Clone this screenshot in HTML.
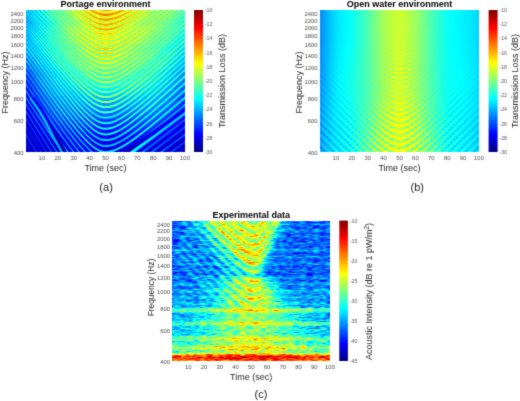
<!DOCTYPE html>
<html><head><meta charset="utf-8"><style>
html,body{margin:0;padding:0;background:#fff;}
svg{display:block;}
text{font-family:"Liberation Sans",sans-serif;fill:#262626;}
.t{font-size:5.9px;fill:#4d4d4d;}
.tc{font-size:5.3px;fill:#595959;}
.l{font-size:9px;}
.ti{font-size:9px;font-weight:bold;fill:#000;}
.s{font-size:11px;fill:#1a1a1a;}
</style></head><body>
<svg width="520" height="401" viewBox="0 0 520 401">
<defs><linearGradient id="vramp" x1="0" y1="0" x2="0" y2="1"><stop offset="0" stop-color="#000"/><stop offset="1" stop-color="#fff"/></linearGradient>
<mask id="vmask" maskContentUnits="objectBoundingBox" x="0" y="0" width="1" height="1"><rect width="1" height="1" fill="url(#vramp)"/></mask><linearGradient id="jg" x1="0" y1="0" x2="0" y2="1"><stop offset="0.000" stop-color="#800000"/><stop offset="0.125" stop-color="#ff0000"/><stop offset="0.375" stop-color="#ffff00"/><stop offset="0.625" stop-color="#00ffff"/><stop offset="0.875" stop-color="#0000ff"/><stop offset="1.000" stop-color="#000080"/></linearGradient><linearGradient id="secgA" gradientUnits="userSpaceOnUse" x1="0" y1="430" x2="0" y2="500"><stop offset="0" stop-color="#fff"/><stop offset=".5" stop-color="#888"/><stop offset="1" stop-color="#000"/></linearGradient><mask id="secmA" maskUnits="userSpaceOnUse" x="20" y="420" width="180" height="170"><rect x="20" y="420" width="180" height="170" fill="url(#secgA)"/></mask><filter id="fA" filterUnits="userSpaceOnUse" x="21" y="5" width="169" height="992" color-interpolation-filters="sRGB">
<feOffset in="SourceGraphic" dy="-420" result="S"/>
<feOffset in="SourceGraphic" dy="-840" result="A"/>
<feComposite in="S" in2="A" operator="arithmetic" k1="1" k3="-.5" k4=".5" result="P"/>
<feComposite in="SourceGraphic" in2="P" operator="arithmetic" k2="1" k3="0.5" k4="-0.25"/>
<feComponentTransfer>
<feFuncR type="table" tableValues="0 0 0 0 .5 1 1 1 .5"/>
<feFuncG type="table" tableValues="0 0 .5 1 1 1 .5 0 0"/>
<feFuncB type="table" tableValues=".5 1 1 1 .5 0 0 0 0"/>
<feFuncA type="table" tableValues="1 1"/>
</feComponentTransfer>
</filter>
<filter id="mA" x="-.2" y="-.2" width="1.4" height="1.4" color-interpolation-filters="sRGB"><feGaussianBlur stdDeviation="2.5"/></filter>
<filter id="sA" x="-.2" y="-.2" width="1.4" height="1.4" color-interpolation-filters="sRGB"><feGaussianBlur stdDeviation="0.5"/></filter>
<filter id="aA" x="-.2" y="-.2" width="1.4" height="1.4" color-interpolation-filters="sRGB"><feGaussianBlur stdDeviation="3"/></filter>
<clipPath id="cA"><rect x="26" y="10" width="159" height="142"/></clipPath><linearGradient id="Amr0" gradientUnits="userSpaceOnUse" x1="26" x2="185"><stop offset="0.0000" stop-color="#4f4f4f"/><stop offset="0.1000" stop-color="#636363"/><stop offset="0.2000" stop-color="#777777"/><stop offset="0.3000" stop-color="#8c8c8c"/><stop offset="0.4000" stop-color="#9e9e9e"/><stop offset="0.5000" stop-color="#acacac"/><stop offset="0.6000" stop-color="#a1a1a1"/><stop offset="0.7000" stop-color="#959595"/><stop offset="0.8000" stop-color="#888888"/><stop offset="0.9000" stop-color="#808080"/><stop offset="1.0000" stop-color="#737373"/></linearGradient><linearGradient id="Amr1" gradientUnits="userSpaceOnUse" x1="26" x2="185"><stop offset="0.0000" stop-color="#4c4c4c"/><stop offset="0.1000" stop-color="#606060"/><stop offset="0.2000" stop-color="#737373"/><stop offset="0.3000" stop-color="#888888"/><stop offset="0.4000" stop-color="#9a9a9a"/><stop offset="0.5000" stop-color="#a8a8a8"/><stop offset="0.6000" stop-color="#9c9c9c"/><stop offset="0.7000" stop-color="#919191"/><stop offset="0.8000" stop-color="#868686"/><stop offset="0.9000" stop-color="#7c7c7c"/><stop offset="1.0000" stop-color="#6c6c6c"/></linearGradient><linearGradient id="Amr2" gradientUnits="userSpaceOnUse" x1="26" x2="185"><stop offset="0.0000" stop-color="#545454"/><stop offset="0.1000" stop-color="#636363"/><stop offset="0.2000" stop-color="#737373"/><stop offset="0.3000" stop-color="#808080"/><stop offset="0.4000" stop-color="#8e8e8e"/><stop offset="0.5000" stop-color="#989898"/><stop offset="0.6000" stop-color="#8f8f8f"/><stop offset="0.7000" stop-color="#868686"/><stop offset="0.8000" stop-color="#7c7c7c"/><stop offset="0.9000" stop-color="#6f6f6f"/><stop offset="1.0000" stop-color="#626262"/></linearGradient><linearGradient id="Amr3" gradientUnits="userSpaceOnUse" x1="26" x2="185"><stop offset="0.0000" stop-color="#3c3c3c"/><stop offset="0.1000" stop-color="#545454"/><stop offset="0.2000" stop-color="#666666"/><stop offset="0.3000" stop-color="#737373"/><stop offset="0.4000" stop-color="#808080"/><stop offset="0.5000" stop-color="#858585"/><stop offset="0.6000" stop-color="#818181"/><stop offset="0.7000" stop-color="#7a7a7a"/><stop offset="0.8000" stop-color="#737373"/><stop offset="0.9000" stop-color="#666666"/><stop offset="1.0000" stop-color="#555555"/></linearGradient><linearGradient id="Amr4" gradientUnits="userSpaceOnUse" x1="26" x2="185"><stop offset="0.0000" stop-color="#2b2b2b"/><stop offset="0.1000" stop-color="#464646"/><stop offset="0.2000" stop-color="#555555"/><stop offset="0.3000" stop-color="#5e5e5e"/><stop offset="0.4000" stop-color="#666666"/><stop offset="0.5000" stop-color="#6b6b6b"/><stop offset="0.6000" stop-color="#696969"/><stop offset="0.7000" stop-color="#666666"/><stop offset="0.8000" stop-color="#626262"/><stop offset="0.9000" stop-color="#555555"/><stop offset="1.0000" stop-color="#424242"/></linearGradient><linearGradient id="Amr5" gradientUnits="userSpaceOnUse" x1="26" x2="185"><stop offset="0.0000" stop-color="#202020"/><stop offset="0.1000" stop-color="#333333"/><stop offset="0.2000" stop-color="#454545"/><stop offset="0.3000" stop-color="#4b4b4b"/><stop offset="0.4000" stop-color="#4c4c4c"/><stop offset="0.5000" stop-color="#4b4b4b"/><stop offset="0.6000" stop-color="#4b4b4b"/><stop offset="0.7000" stop-color="#4c4c4c"/><stop offset="0.8000" stop-color="#4a4a4a"/><stop offset="0.9000" stop-color="#3c3c3c"/><stop offset="1.0000" stop-color="#292929"/></linearGradient><linearGradient id="Amr6" gradientUnits="userSpaceOnUse" x1="26" x2="185"><stop offset="0.0000" stop-color="#1c1c1c"/><stop offset="0.1000" stop-color="#222222"/><stop offset="0.2000" stop-color="#2d2d2d"/><stop offset="0.3000" stop-color="#3c3c3c"/><stop offset="0.4000" stop-color="#3b3b3b"/><stop offset="0.5000" stop-color="#383838"/><stop offset="0.6000" stop-color="#393939"/><stop offset="0.7000" stop-color="#3d3d3d"/><stop offset="0.8000" stop-color="#333333"/><stop offset="0.9000" stop-color="#242424"/><stop offset="1.0000" stop-color="#1c1c1c"/></linearGradient><linearGradient id="Amr7" gradientUnits="userSpaceOnUse" x1="26" x2="185"><stop offset="0.0000" stop-color="#171717"/><stop offset="0.1000" stop-color="#1f1f1f"/><stop offset="0.2000" stop-color="#262626"/><stop offset="0.3000" stop-color="#373737"/><stop offset="0.4000" stop-color="#363636"/><stop offset="0.5000" stop-color="#333333"/><stop offset="0.6000" stop-color="#343434"/><stop offset="0.7000" stop-color="#383838"/><stop offset="0.8000" stop-color="#2d2d2d"/><stop offset="0.9000" stop-color="#202020"/><stop offset="1.0000" stop-color="#171717"/></linearGradient><linearGradient id="Aar0" gradientUnits="userSpaceOnUse" x1="26" x2="185"><stop offset="0.0000" stop-color="#666666"/><stop offset="0.1000" stop-color="#666666"/><stop offset="0.2000" stop-color="#666666"/><stop offset="0.3000" stop-color="#666666"/><stop offset="0.4000" stop-color="#6b6b6b"/><stop offset="0.5000" stop-color="#737373"/><stop offset="0.6000" stop-color="#6b6b6b"/><stop offset="0.7000" stop-color="#666666"/><stop offset="0.8000" stop-color="#666666"/><stop offset="0.9000" stop-color="#666666"/><stop offset="1.0000" stop-color="#666666"/></linearGradient><linearGradient id="Aar1" gradientUnits="userSpaceOnUse" x1="26" x2="185"><stop offset="0.0000" stop-color="#666666"/><stop offset="0.1000" stop-color="#666666"/><stop offset="0.2000" stop-color="#666666"/><stop offset="0.3000" stop-color="#666666"/><stop offset="0.4000" stop-color="#6b6b6b"/><stop offset="0.5000" stop-color="#737373"/><stop offset="0.6000" stop-color="#6b6b6b"/><stop offset="0.7000" stop-color="#666666"/><stop offset="0.8000" stop-color="#666666"/><stop offset="0.9000" stop-color="#666666"/><stop offset="1.0000" stop-color="#666666"/></linearGradient><linearGradient id="Aar2" gradientUnits="userSpaceOnUse" x1="26" x2="185"><stop offset="0.0000" stop-color="#666666"/><stop offset="0.1000" stop-color="#666666"/><stop offset="0.2000" stop-color="#666666"/><stop offset="0.3000" stop-color="#666666"/><stop offset="0.4000" stop-color="#666666"/><stop offset="0.5000" stop-color="#6b6b6b"/><stop offset="0.6000" stop-color="#666666"/><stop offset="0.7000" stop-color="#666666"/><stop offset="0.8000" stop-color="#666666"/><stop offset="0.9000" stop-color="#666666"/><stop offset="1.0000" stop-color="#666666"/></linearGradient><linearGradient id="Aar3" gradientUnits="userSpaceOnUse" x1="26" x2="185"><stop offset="0.0000" stop-color="#737373"/><stop offset="0.1000" stop-color="#737373"/><stop offset="0.2000" stop-color="#6b6b6b"/><stop offset="0.3000" stop-color="#6b6b6b"/><stop offset="0.4000" stop-color="#6b6b6b"/><stop offset="0.5000" stop-color="#6b6b6b"/><stop offset="0.6000" stop-color="#6b6b6b"/><stop offset="0.7000" stop-color="#6b6b6b"/><stop offset="0.8000" stop-color="#6b6b6b"/><stop offset="0.9000" stop-color="#737373"/><stop offset="1.0000" stop-color="#737373"/></linearGradient><linearGradient id="Aar4" gradientUnits="userSpaceOnUse" x1="26" x2="185"><stop offset="0.0000" stop-color="#737373"/><stop offset="0.1000" stop-color="#737373"/><stop offset="0.2000" stop-color="#737373"/><stop offset="0.3000" stop-color="#808080"/><stop offset="0.4000" stop-color="#8c8c8c"/><stop offset="0.5000" stop-color="#8c8c8c"/><stop offset="0.6000" stop-color="#8c8c8c"/><stop offset="0.7000" stop-color="#808080"/><stop offset="0.8000" stop-color="#737373"/><stop offset="0.9000" stop-color="#737373"/><stop offset="1.0000" stop-color="#737373"/></linearGradient><linearGradient id="Aar5" gradientUnits="userSpaceOnUse" x1="26" x2="185"><stop offset="0.0000" stop-color="#666666"/><stop offset="0.1000" stop-color="#737373"/><stop offset="0.2000" stop-color="#8c8c8c"/><stop offset="0.3000" stop-color="#a6a6a6"/><stop offset="0.4000" stop-color="#b2b2b2"/><stop offset="0.5000" stop-color="#b2b2b2"/><stop offset="0.6000" stop-color="#b2b2b2"/><stop offset="0.7000" stop-color="#a6a6a6"/><stop offset="0.8000" stop-color="#8c8c8c"/><stop offset="0.9000" stop-color="#737373"/><stop offset="1.0000" stop-color="#666666"/></linearGradient><linearGradient id="Aar6" gradientUnits="userSpaceOnUse" x1="26" x2="185"><stop offset="0.0000" stop-color="#4c4c4c"/><stop offset="0.1000" stop-color="#595959"/><stop offset="0.2000" stop-color="#8c8c8c"/><stop offset="0.3000" stop-color="#a6a6a6"/><stop offset="0.4000" stop-color="#b2b2b2"/><stop offset="0.5000" stop-color="#b2b2b2"/><stop offset="0.6000" stop-color="#b2b2b2"/><stop offset="0.7000" stop-color="#a6a6a6"/><stop offset="0.8000" stop-color="#8c8c8c"/><stop offset="0.9000" stop-color="#595959"/><stop offset="1.0000" stop-color="#4c4c4c"/></linearGradient><linearGradient id="Aar7" gradientUnits="userSpaceOnUse" x1="26" x2="185"><stop offset="0.0000" stop-color="#4c4c4c"/><stop offset="0.1000" stop-color="#595959"/><stop offset="0.2000" stop-color="#8c8c8c"/><stop offset="0.3000" stop-color="#a6a6a6"/><stop offset="0.4000" stop-color="#b2b2b2"/><stop offset="0.5000" stop-color="#b2b2b2"/><stop offset="0.6000" stop-color="#b2b2b2"/><stop offset="0.7000" stop-color="#a6a6a6"/><stop offset="0.8000" stop-color="#8c8c8c"/><stop offset="0.9000" stop-color="#595959"/><stop offset="1.0000" stop-color="#4c4c4c"/></linearGradient><filter id="fB" filterUnits="userSpaceOnUse" x="315" y="5" width="169" height="992" color-interpolation-filters="sRGB">
<feOffset in="SourceGraphic" dy="-420" result="S"/>
<feOffset in="SourceGraphic" dy="-840" result="A"/>
<feComposite in="S" in2="A" operator="arithmetic" k1="1" k3="-.5" k4=".5" result="P"/>
<feComposite in="SourceGraphic" in2="P" operator="arithmetic" k2="1" k3="0.5" k4="-0.25"/>
<feComponentTransfer>
<feFuncR type="table" tableValues="0 0 0 0 .5 1 1 1 .5"/>
<feFuncG type="table" tableValues="0 0 .5 1 1 1 .5 0 0"/>
<feFuncB type="table" tableValues=".5 1 1 1 .5 0 0 0 0"/>
<feFuncA type="table" tableValues="1 1"/>
</feComponentTransfer>
</filter>
<filter id="mB" x="-.2" y="-.2" width="1.4" height="1.4" color-interpolation-filters="sRGB"><feGaussianBlur stdDeviation="2.5"/></filter>
<filter id="sB" x="-.2" y="-.2" width="1.4" height="1.4" color-interpolation-filters="sRGB"><feGaussianBlur stdDeviation="0.5"/></filter>
<filter id="aB" x="-.2" y="-.2" width="1.4" height="1.4" color-interpolation-filters="sRGB"><feGaussianBlur stdDeviation="3"/></filter>
<clipPath id="cB"><rect x="320" y="10" width="159" height="142"/></clipPath><linearGradient id="Bmr0" gradientUnits="userSpaceOnUse" x1="320" x2="479"><stop offset="0.0000" stop-color="#424242"/><stop offset="0.0300" stop-color="#4a4a4a"/><stop offset="0.1000" stop-color="#595959"/><stop offset="0.2000" stop-color="#626262"/><stop offset="0.3000" stop-color="#737373"/><stop offset="0.4000" stop-color="#8a8a8a"/><stop offset="0.5000" stop-color="#959595"/><stop offset="0.6000" stop-color="#888888"/><stop offset="0.7000" stop-color="#737373"/><stop offset="0.8000" stop-color="#626262"/><stop offset="0.9000" stop-color="#5d5d5d"/><stop offset="0.9700" stop-color="#595959"/><stop offset="1.0000" stop-color="#545454"/></linearGradient><linearGradient id="Bmr1" gradientUnits="userSpaceOnUse" x1="320" x2="479"><stop offset="0.0000" stop-color="#424242"/><stop offset="0.0300" stop-color="#4a4a4a"/><stop offset="0.1000" stop-color="#595959"/><stop offset="0.2000" stop-color="#626262"/><stop offset="0.3000" stop-color="#737373"/><stop offset="0.4000" stop-color="#8a8a8a"/><stop offset="0.5000" stop-color="#959595"/><stop offset="0.6000" stop-color="#888888"/><stop offset="0.7000" stop-color="#737373"/><stop offset="0.8000" stop-color="#626262"/><stop offset="0.9000" stop-color="#5d5d5d"/><stop offset="0.9700" stop-color="#595959"/><stop offset="1.0000" stop-color="#545454"/></linearGradient><linearGradient id="Bmr2" gradientUnits="userSpaceOnUse" x1="320" x2="479"><stop offset="0.0000" stop-color="#454545"/><stop offset="0.0300" stop-color="#4c4c4c"/><stop offset="0.1000" stop-color="#5c5c5c"/><stop offset="0.2000" stop-color="#666666"/><stop offset="0.3000" stop-color="#737373"/><stop offset="0.4000" stop-color="#888888"/><stop offset="0.5000" stop-color="#969696"/><stop offset="0.6000" stop-color="#888888"/><stop offset="0.7000" stop-color="#737373"/><stop offset="0.8000" stop-color="#636363"/><stop offset="0.9000" stop-color="#606060"/><stop offset="0.9700" stop-color="#5b5b5b"/><stop offset="1.0000" stop-color="#575757"/></linearGradient><linearGradient id="Bmr3" gradientUnits="userSpaceOnUse" x1="320" x2="479"><stop offset="0.0000" stop-color="#474747"/><stop offset="0.0300" stop-color="#4f4f4f"/><stop offset="0.1000" stop-color="#5b5b5b"/><stop offset="0.2000" stop-color="#636363"/><stop offset="0.3000" stop-color="#757575"/><stop offset="0.4000" stop-color="#8c8c8c"/><stop offset="0.5000" stop-color="#999999"/><stop offset="0.6000" stop-color="#8c8c8c"/><stop offset="0.7000" stop-color="#757575"/><stop offset="0.8000" stop-color="#636363"/><stop offset="0.9000" stop-color="#5e5e5e"/><stop offset="0.9700" stop-color="#595959"/><stop offset="1.0000" stop-color="#555555"/></linearGradient><linearGradient id="Bmr4" gradientUnits="userSpaceOnUse" x1="320" x2="479"><stop offset="0.0000" stop-color="#474747"/><stop offset="0.0300" stop-color="#4f4f4f"/><stop offset="0.1000" stop-color="#595959"/><stop offset="0.2000" stop-color="#626262"/><stop offset="0.3000" stop-color="#797979"/><stop offset="0.4000" stop-color="#8e8e8e"/><stop offset="0.5000" stop-color="#969696"/><stop offset="0.6000" stop-color="#8e8e8e"/><stop offset="0.7000" stop-color="#797979"/><stop offset="0.8000" stop-color="#626262"/><stop offset="0.9000" stop-color="#5e5e5e"/><stop offset="0.9700" stop-color="#595959"/><stop offset="1.0000" stop-color="#535353"/></linearGradient><linearGradient id="Bmr5" gradientUnits="userSpaceOnUse" x1="320" x2="479"><stop offset="0.0000" stop-color="#474747"/><stop offset="0.0300" stop-color="#4f4f4f"/><stop offset="0.1000" stop-color="#595959"/><stop offset="0.2000" stop-color="#626262"/><stop offset="0.3000" stop-color="#797979"/><stop offset="0.4000" stop-color="#8e8e8e"/><stop offset="0.5000" stop-color="#969696"/><stop offset="0.6000" stop-color="#8e8e8e"/><stop offset="0.7000" stop-color="#797979"/><stop offset="0.8000" stop-color="#626262"/><stop offset="0.9000" stop-color="#5e5e5e"/><stop offset="0.9700" stop-color="#595959"/><stop offset="1.0000" stop-color="#535353"/></linearGradient><linearGradient id="Bar0" gradientUnits="userSpaceOnUse" x1="320" x2="479"><stop offset="0.0000" stop-color="#000000"/><stop offset="0.1000" stop-color="#000000"/><stop offset="0.2000" stop-color="#000000"/><stop offset="0.3000" stop-color="#000000"/><stop offset="0.4000" stop-color="#000000"/><stop offset="0.5000" stop-color="#000000"/><stop offset="0.6000" stop-color="#000000"/><stop offset="0.7000" stop-color="#000000"/><stop offset="0.8000" stop-color="#000000"/><stop offset="0.9000" stop-color="#000000"/><stop offset="1.0000" stop-color="#000000"/></linearGradient><linearGradient id="Bar1" gradientUnits="userSpaceOnUse" x1="320" x2="479"><stop offset="0.0000" stop-color="#000000"/><stop offset="0.1000" stop-color="#000000"/><stop offset="0.2000" stop-color="#000000"/><stop offset="0.3000" stop-color="#000000"/><stop offset="0.4000" stop-color="#0d0d0d"/><stop offset="0.5000" stop-color="#0d0d0d"/><stop offset="0.6000" stop-color="#0d0d0d"/><stop offset="0.7000" stop-color="#000000"/><stop offset="0.8000" stop-color="#000000"/><stop offset="0.9000" stop-color="#000000"/><stop offset="1.0000" stop-color="#000000"/></linearGradient><linearGradient id="Bar2" gradientUnits="userSpaceOnUse" x1="320" x2="479"><stop offset="0.0000" stop-color="#000000"/><stop offset="0.1000" stop-color="#000000"/><stop offset="0.2000" stop-color="#000000"/><stop offset="0.3000" stop-color="#0d0d0d"/><stop offset="0.4000" stop-color="#383838"/><stop offset="0.5000" stop-color="#474747"/><stop offset="0.6000" stop-color="#383838"/><stop offset="0.7000" stop-color="#0d0d0d"/><stop offset="0.8000" stop-color="#000000"/><stop offset="0.9000" stop-color="#000000"/><stop offset="1.0000" stop-color="#000000"/></linearGradient><linearGradient id="Bar3" gradientUnits="userSpaceOnUse" x1="320" x2="479"><stop offset="0.0000" stop-color="#080808"/><stop offset="0.1000" stop-color="#080808"/><stop offset="0.2000" stop-color="#0d0d0d"/><stop offset="0.3000" stop-color="#1f1f1f"/><stop offset="0.4000" stop-color="#424242"/><stop offset="0.5000" stop-color="#4c4c4c"/><stop offset="0.6000" stop-color="#424242"/><stop offset="0.7000" stop-color="#1f1f1f"/><stop offset="0.8000" stop-color="#0d0d0d"/><stop offset="0.9000" stop-color="#080808"/><stop offset="1.0000" stop-color="#080808"/></linearGradient><linearGradient id="Bar4" gradientUnits="userSpaceOnUse" x1="320" x2="479"><stop offset="0.0000" stop-color="#0f0f0f"/><stop offset="0.1000" stop-color="#0f0f0f"/><stop offset="0.2000" stop-color="#141414"/><stop offset="0.3000" stop-color="#1a1a1a"/><stop offset="0.4000" stop-color="#262626"/><stop offset="0.5000" stop-color="#262626"/><stop offset="0.6000" stop-color="#262626"/><stop offset="0.7000" stop-color="#1a1a1a"/><stop offset="0.8000" stop-color="#141414"/><stop offset="0.9000" stop-color="#0f0f0f"/><stop offset="1.0000" stop-color="#0f0f0f"/></linearGradient><linearGradient id="Bar5" gradientUnits="userSpaceOnUse" x1="320" x2="479"><stop offset="0.0000" stop-color="#1a1a1a"/><stop offset="0.1000" stop-color="#1f1f1f"/><stop offset="0.2000" stop-color="#242424"/><stop offset="0.3000" stop-color="#2e2e2e"/><stop offset="0.4000" stop-color="#404040"/><stop offset="0.5000" stop-color="#404040"/><stop offset="0.6000" stop-color="#404040"/><stop offset="0.7000" stop-color="#2e2e2e"/><stop offset="0.8000" stop-color="#242424"/><stop offset="0.9000" stop-color="#1f1f1f"/><stop offset="1.0000" stop-color="#1a1a1a"/></linearGradient><linearGradient id="Bar6" gradientUnits="userSpaceOnUse" x1="320" x2="479"><stop offset="0.0000" stop-color="#242424"/><stop offset="0.1000" stop-color="#292929"/><stop offset="0.2000" stop-color="#333333"/><stop offset="0.3000" stop-color="#474747"/><stop offset="0.4000" stop-color="#616161"/><stop offset="0.5000" stop-color="#666666"/><stop offset="0.6000" stop-color="#616161"/><stop offset="0.7000" stop-color="#474747"/><stop offset="0.8000" stop-color="#333333"/><stop offset="0.9000" stop-color="#292929"/><stop offset="1.0000" stop-color="#242424"/></linearGradient><linearGradient id="Bar7" gradientUnits="userSpaceOnUse" x1="320" x2="479"><stop offset="0.0000" stop-color="#2e2e2e"/><stop offset="0.1000" stop-color="#333333"/><stop offset="0.2000" stop-color="#3d3d3d"/><stop offset="0.3000" stop-color="#575757"/><stop offset="0.4000" stop-color="#707070"/><stop offset="0.5000" stop-color="#757575"/><stop offset="0.6000" stop-color="#707070"/><stop offset="0.7000" stop-color="#575757"/><stop offset="0.8000" stop-color="#3d3d3d"/><stop offset="0.9000" stop-color="#333333"/><stop offset="1.0000" stop-color="#2e2e2e"/></linearGradient><linearGradient id="Bar8" gradientUnits="userSpaceOnUse" x1="320" x2="479"><stop offset="0.0000" stop-color="#333333"/><stop offset="0.1000" stop-color="#383838"/><stop offset="0.2000" stop-color="#424242"/><stop offset="0.3000" stop-color="#616161"/><stop offset="0.4000" stop-color="#7a7a7a"/><stop offset="0.5000" stop-color="#808080"/><stop offset="0.6000" stop-color="#7a7a7a"/><stop offset="0.7000" stop-color="#616161"/><stop offset="0.8000" stop-color="#424242"/><stop offset="0.9000" stop-color="#383838"/><stop offset="1.0000" stop-color="#333333"/></linearGradient><filter id="fC" filterUnits="userSpaceOnUse" x="167.5" y="216" width="167.5" height="990" color-interpolation-filters="sRGB">
<feOffset in="SourceGraphic" dy="-420" result="S"/>
<feOffset in="SourceGraphic" dy="-840" result="A"/>
<feComposite in="S" in2="A" operator="arithmetic" k1="1" k3="-.5" k4=".5" result="P"/>
<feComposite in="SourceGraphic" in2="P" operator="arithmetic" k2="1" k3="0.4" k4="-0.2"/>
<feComponentTransfer>
<feFuncR type="table" tableValues="0 0 0 0 .5 1 1 1 .5"/>
<feFuncG type="table" tableValues="0 0 .5 1 1 1 .5 0 0"/>
<feFuncB type="table" tableValues=".5 1 1 1 .5 0 0 0 0"/>
<feFuncA type="table" tableValues="1 1"/>
</feComponentTransfer>
</filter>
<filter id="mC" x="-.2" y="-.2" width="1.4" height="1.4" color-interpolation-filters="sRGB"><feGaussianBlur stdDeviation="0.8"/></filter>
<filter id="sC" x="-.2" y="-.2" width="1.4" height="1.4" color-interpolation-filters="sRGB"><feGaussianBlur stdDeviation="0.55"/></filter>
<filter id="aC" x="-.2" y="-.2" width="1.4" height="1.4" color-interpolation-filters="sRGB"><feGaussianBlur stdDeviation="3"/></filter>
<clipPath id="cC"><rect x="172.5" y="221" width="157.5" height="140"/></clipPath><linearGradient id="Cmr0" gradientUnits="userSpaceOnUse" x1="172.5" x2="330"><stop offset="0.0000" stop-color="#333333"/><stop offset="0.0500" stop-color="#353535"/><stop offset="0.1000" stop-color="#414141"/><stop offset="0.1500" stop-color="#4e4e4e"/><stop offset="0.2000" stop-color="#5f5f5f"/><stop offset="0.2500" stop-color="#8b8b8b"/><stop offset="0.3000" stop-color="#8b8b8b"/><stop offset="0.3500" stop-color="#8b8b8b"/><stop offset="0.4000" stop-color="#8b8b8b"/><stop offset="0.4500" stop-color="#8b8b8b"/><stop offset="0.5000" stop-color="#8b8b8b"/><stop offset="0.5500" stop-color="#8b8b8b"/><stop offset="0.6000" stop-color="#8b8b8b"/><stop offset="0.6500" stop-color="#888888"/><stop offset="0.7000" stop-color="#515151"/><stop offset="0.7500" stop-color="#343434"/><stop offset="0.8000" stop-color="#343434"/><stop offset="0.8500" stop-color="#343434"/><stop offset="0.9000" stop-color="#343434"/><stop offset="0.9500" stop-color="#343434"/><stop offset="1.0000" stop-color="#343434"/></linearGradient><linearGradient id="Cmr1" gradientUnits="userSpaceOnUse" x1="172.5" x2="330"><stop offset="0.0000" stop-color="#333333"/><stop offset="0.0500" stop-color="#333333"/><stop offset="0.1000" stop-color="#3b3b3b"/><stop offset="0.1500" stop-color="#474747"/><stop offset="0.2000" stop-color="#555555"/><stop offset="0.2500" stop-color="#777777"/><stop offset="0.3000" stop-color="#8b8b8b"/><stop offset="0.3500" stop-color="#8b8b8b"/><stop offset="0.4000" stop-color="#8b8b8b"/><stop offset="0.4500" stop-color="#8b8b8b"/><stop offset="0.5000" stop-color="#8b8b8b"/><stop offset="0.5500" stop-color="#8b8b8b"/><stop offset="0.6000" stop-color="#8b8b8b"/><stop offset="0.6500" stop-color="#7b7b7b"/><stop offset="0.7000" stop-color="#464646"/><stop offset="0.7500" stop-color="#343434"/><stop offset="0.8000" stop-color="#343434"/><stop offset="0.8500" stop-color="#343434"/><stop offset="0.9000" stop-color="#343434"/><stop offset="0.9500" stop-color="#343434"/><stop offset="1.0000" stop-color="#343434"/></linearGradient><linearGradient id="Cmr2" gradientUnits="userSpaceOnUse" x1="172.5" x2="330"><stop offset="0.0000" stop-color="#333333"/><stop offset="0.0500" stop-color="#333333"/><stop offset="0.1000" stop-color="#353535"/><stop offset="0.1500" stop-color="#404040"/><stop offset="0.2000" stop-color="#4d4d4d"/><stop offset="0.2500" stop-color="#5e5e5e"/><stop offset="0.3000" stop-color="#8c8c8c"/><stop offset="0.3500" stop-color="#8c8c8c"/><stop offset="0.4000" stop-color="#8c8c8c"/><stop offset="0.4500" stop-color="#8c8c8c"/><stop offset="0.5000" stop-color="#8c8c8c"/><stop offset="0.5500" stop-color="#8c8c8c"/><stop offset="0.6000" stop-color="#8c8c8c"/><stop offset="0.6500" stop-color="#636363"/><stop offset="0.7000" stop-color="#3c3c3c"/><stop offset="0.7500" stop-color="#343434"/><stop offset="0.8000" stop-color="#343434"/><stop offset="0.8500" stop-color="#343434"/><stop offset="0.9000" stop-color="#343434"/><stop offset="0.9500" stop-color="#343434"/><stop offset="1.0000" stop-color="#343434"/></linearGradient><linearGradient id="Cmr3" gradientUnits="userSpaceOnUse" x1="172.5" x2="330"><stop offset="0.0000" stop-color="#333333"/><stop offset="0.0500" stop-color="#333333"/><stop offset="0.1000" stop-color="#333333"/><stop offset="0.1500" stop-color="#3a3a3a"/><stop offset="0.2000" stop-color="#464646"/><stop offset="0.2500" stop-color="#545454"/><stop offset="0.3000" stop-color="#747474"/><stop offset="0.3500" stop-color="#8d8d8d"/><stop offset="0.4000" stop-color="#8d8d8d"/><stop offset="0.4500" stop-color="#8d8d8d"/><stop offset="0.5000" stop-color="#8d8d8d"/><stop offset="0.5500" stop-color="#8d8d8d"/><stop offset="0.6000" stop-color="#8d8d8d"/><stop offset="0.6500" stop-color="#585858"/><stop offset="0.7000" stop-color="#343434"/><stop offset="0.7500" stop-color="#343434"/><stop offset="0.8000" stop-color="#343434"/><stop offset="0.8500" stop-color="#343434"/><stop offset="0.9000" stop-color="#343434"/><stop offset="0.9500" stop-color="#343434"/><stop offset="1.0000" stop-color="#343434"/></linearGradient><linearGradient id="Cmr4" gradientUnits="userSpaceOnUse" x1="172.5" x2="330"><stop offset="0.0000" stop-color="#333333"/><stop offset="0.0500" stop-color="#333333"/><stop offset="0.1000" stop-color="#333333"/><stop offset="0.1500" stop-color="#343434"/><stop offset="0.2000" stop-color="#3f3f3f"/><stop offset="0.2500" stop-color="#4c4c4c"/><stop offset="0.3000" stop-color="#5c5c5c"/><stop offset="0.3500" stop-color="#909090"/><stop offset="0.4000" stop-color="#909090"/><stop offset="0.4500" stop-color="#909090"/><stop offset="0.5000" stop-color="#909090"/><stop offset="0.5500" stop-color="#909090"/><stop offset="0.6000" stop-color="#888888"/><stop offset="0.6500" stop-color="#4e4e4e"/><stop offset="0.7000" stop-color="#343434"/><stop offset="0.7500" stop-color="#343434"/><stop offset="0.8000" stop-color="#343434"/><stop offset="0.8500" stop-color="#343434"/><stop offset="0.9000" stop-color="#343434"/><stop offset="0.9500" stop-color="#343434"/><stop offset="1.0000" stop-color="#343434"/></linearGradient><linearGradient id="Cmr5" gradientUnits="userSpaceOnUse" x1="172.5" x2="330"><stop offset="0.0000" stop-color="#333333"/><stop offset="0.0500" stop-color="#333333"/><stop offset="0.1000" stop-color="#333333"/><stop offset="0.1500" stop-color="#333333"/><stop offset="0.2000" stop-color="#393939"/><stop offset="0.2500" stop-color="#454545"/><stop offset="0.3000" stop-color="#535353"/><stop offset="0.3500" stop-color="#696969"/><stop offset="0.4000" stop-color="#949494"/><stop offset="0.4500" stop-color="#949494"/><stop offset="0.5000" stop-color="#949494"/><stop offset="0.5500" stop-color="#949494"/><stop offset="0.6000" stop-color="#797979"/><stop offset="0.6500" stop-color="#434343"/><stop offset="0.7000" stop-color="#343434"/><stop offset="0.7500" stop-color="#343434"/><stop offset="0.8000" stop-color="#343434"/><stop offset="0.8500" stop-color="#343434"/><stop offset="0.9000" stop-color="#343434"/><stop offset="0.9500" stop-color="#343434"/><stop offset="1.0000" stop-color="#343434"/></linearGradient><linearGradient id="Cmr6" gradientUnits="userSpaceOnUse" x1="172.5" x2="330"><stop offset="0.0000" stop-color="#333333"/><stop offset="0.0500" stop-color="#333333"/><stop offset="0.1000" stop-color="#333333"/><stop offset="0.1500" stop-color="#333333"/><stop offset="0.2000" stop-color="#333333"/><stop offset="0.2500" stop-color="#3e3e3e"/><stop offset="0.3000" stop-color="#4b4b4b"/><stop offset="0.3500" stop-color="#5b5b5b"/><stop offset="0.4000" stop-color="#949494"/><stop offset="0.4500" stop-color="#989898"/><stop offset="0.5000" stop-color="#989898"/><stop offset="0.5500" stop-color="#989898"/><stop offset="0.6000" stop-color="#606060"/><stop offset="0.6500" stop-color="#393939"/><stop offset="0.7000" stop-color="#343434"/><stop offset="0.7500" stop-color="#343434"/><stop offset="0.8000" stop-color="#343434"/><stop offset="0.8500" stop-color="#343434"/><stop offset="0.9000" stop-color="#343434"/><stop offset="0.9500" stop-color="#343434"/><stop offset="1.0000" stop-color="#343434"/></linearGradient><linearGradient id="Cmr7" gradientUnits="userSpaceOnUse" x1="172.5" x2="330"><stop offset="0.0000" stop-color="#333333"/><stop offset="0.0500" stop-color="#333333"/><stop offset="0.1000" stop-color="#333333"/><stop offset="0.1500" stop-color="#333333"/><stop offset="0.2000" stop-color="#333333"/><stop offset="0.2500" stop-color="#383838"/><stop offset="0.3000" stop-color="#444444"/><stop offset="0.3500" stop-color="#525252"/><stop offset="0.4000" stop-color="#666666"/><stop offset="0.4500" stop-color="#9a9a9a"/><stop offset="0.5000" stop-color="#9a9a9a"/><stop offset="0.5500" stop-color="#9a9a9a"/><stop offset="0.6000" stop-color="#555555"/><stop offset="0.6500" stop-color="#343434"/><stop offset="0.7000" stop-color="#343434"/><stop offset="0.7500" stop-color="#343434"/><stop offset="0.8000" stop-color="#343434"/><stop offset="0.8500" stop-color="#343434"/><stop offset="0.9000" stop-color="#343434"/><stop offset="0.9500" stop-color="#343434"/><stop offset="1.0000" stop-color="#343434"/></linearGradient><linearGradient id="Cmr8" gradientUnits="userSpaceOnUse" x1="172.5" x2="330"><stop offset="0.0000" stop-color="#333333"/><stop offset="0.0500" stop-color="#333333"/><stop offset="0.1000" stop-color="#333333"/><stop offset="0.1500" stop-color="#333333"/><stop offset="0.2000" stop-color="#333333"/><stop offset="0.2500" stop-color="#333333"/><stop offset="0.3000" stop-color="#3e3e3e"/><stop offset="0.3500" stop-color="#4a4a4a"/><stop offset="0.4000" stop-color="#5a5a5a"/><stop offset="0.4500" stop-color="#909090"/><stop offset="0.5000" stop-color="#999999"/><stop offset="0.5500" stop-color="#898989"/><stop offset="0.6000" stop-color="#4b4b4b"/><stop offset="0.6500" stop-color="#343434"/><stop offset="0.7000" stop-color="#343434"/><stop offset="0.7500" stop-color="#343434"/><stop offset="0.8000" stop-color="#343434"/><stop offset="0.8500" stop-color="#343434"/><stop offset="0.9000" stop-color="#343434"/><stop offset="0.9500" stop-color="#343434"/><stop offset="1.0000" stop-color="#343434"/></linearGradient><linearGradient id="Cmr9" gradientUnits="userSpaceOnUse" x1="172.5" x2="330"><stop offset="0.0000" stop-color="#333333"/><stop offset="0.0500" stop-color="#333333"/><stop offset="0.1000" stop-color="#333333"/><stop offset="0.1500" stop-color="#333333"/><stop offset="0.2000" stop-color="#333333"/><stop offset="0.2500" stop-color="#333333"/><stop offset="0.3000" stop-color="#373737"/><stop offset="0.3500" stop-color="#434343"/><stop offset="0.4000" stop-color="#515151"/><stop offset="0.4500" stop-color="#646464"/><stop offset="0.5000" stop-color="#969696"/><stop offset="0.5500" stop-color="#737373"/><stop offset="0.6000" stop-color="#404040"/><stop offset="0.6500" stop-color="#343434"/><stop offset="0.7000" stop-color="#343434"/><stop offset="0.7500" stop-color="#343434"/><stop offset="0.8000" stop-color="#343434"/><stop offset="0.8500" stop-color="#343434"/><stop offset="0.9000" stop-color="#343434"/><stop offset="0.9500" stop-color="#343434"/><stop offset="1.0000" stop-color="#343434"/></linearGradient><linearGradient id="Cmr10" gradientUnits="userSpaceOnUse" x1="172.5" x2="330"><stop offset="0.0000" stop-color="#333333"/><stop offset="0.0500" stop-color="#333333"/><stop offset="0.1000" stop-color="#333333"/><stop offset="0.1500" stop-color="#333333"/><stop offset="0.2000" stop-color="#333333"/><stop offset="0.2500" stop-color="#333333"/><stop offset="0.3000" stop-color="#333333"/><stop offset="0.3500" stop-color="#3d3d3d"/><stop offset="0.4000" stop-color="#494949"/><stop offset="0.4500" stop-color="#595959"/><stop offset="0.5000" stop-color="#868686"/><stop offset="0.5500" stop-color="#5d5d5d"/><stop offset="0.6000" stop-color="#363636"/><stop offset="0.6500" stop-color="#343434"/><stop offset="0.7000" stop-color="#343434"/><stop offset="0.7500" stop-color="#343434"/><stop offset="0.8000" stop-color="#343434"/><stop offset="0.8500" stop-color="#343434"/><stop offset="0.9000" stop-color="#343434"/><stop offset="0.9500" stop-color="#343434"/><stop offset="1.0000" stop-color="#343434"/></linearGradient><linearGradient id="Cmr11" gradientUnits="userSpaceOnUse" x1="172.5" x2="330"><stop offset="0.0000" stop-color="#333333"/><stop offset="0.0500" stop-color="#333333"/><stop offset="0.1000" stop-color="#333333"/><stop offset="0.1500" stop-color="#333333"/><stop offset="0.2000" stop-color="#333333"/><stop offset="0.2500" stop-color="#333333"/><stop offset="0.3000" stop-color="#333333"/><stop offset="0.3500" stop-color="#373737"/><stop offset="0.4000" stop-color="#424242"/><stop offset="0.4500" stop-color="#505050"/><stop offset="0.5000" stop-color="#626262"/><stop offset="0.5500" stop-color="#525252"/><stop offset="0.6000" stop-color="#343434"/><stop offset="0.6500" stop-color="#343434"/><stop offset="0.7000" stop-color="#343434"/><stop offset="0.7500" stop-color="#343434"/><stop offset="0.8000" stop-color="#343434"/><stop offset="0.8500" stop-color="#343434"/><stop offset="0.9000" stop-color="#343434"/><stop offset="0.9500" stop-color="#343434"/><stop offset="1.0000" stop-color="#343434"/></linearGradient><linearGradient id="Cmr12" gradientUnits="userSpaceOnUse" x1="172.5" x2="330"><stop offset="0.0000" stop-color="#363636"/><stop offset="0.0500" stop-color="#363636"/><stop offset="0.1000" stop-color="#363636"/><stop offset="0.1500" stop-color="#373737"/><stop offset="0.2000" stop-color="#3a3a3a"/><stop offset="0.2500" stop-color="#404040"/><stop offset="0.3000" stop-color="#4b4b4b"/><stop offset="0.3500" stop-color="#5a5a5a"/><stop offset="0.4000" stop-color="#6e6e6e"/><stop offset="0.4500" stop-color="#808080"/><stop offset="0.5000" stop-color="#8d8d8d"/><stop offset="0.5500" stop-color="#8c8c8c"/><stop offset="0.6000" stop-color="#646464"/><stop offset="0.6500" stop-color="#424242"/><stop offset="0.7000" stop-color="#373737"/><stop offset="0.7500" stop-color="#363636"/><stop offset="0.8000" stop-color="#363636"/><stop offset="0.8500" stop-color="#363636"/><stop offset="0.9000" stop-color="#363636"/><stop offset="0.9500" stop-color="#363636"/><stop offset="1.0000" stop-color="#363636"/></linearGradient><linearGradient id="Cmr13" gradientUnits="userSpaceOnUse" x1="172.5" x2="330"><stop offset="0.0000" stop-color="#383838"/><stop offset="0.0500" stop-color="#383838"/><stop offset="0.1000" stop-color="#393939"/><stop offset="0.1500" stop-color="#3a3a3a"/><stop offset="0.2000" stop-color="#3d3d3d"/><stop offset="0.2500" stop-color="#444444"/><stop offset="0.3000" stop-color="#4e4e4e"/><stop offset="0.3500" stop-color="#5e5e5e"/><stop offset="0.4000" stop-color="#707070"/><stop offset="0.4500" stop-color="#828282"/><stop offset="0.5000" stop-color="#8d8d8d"/><stop offset="0.5500" stop-color="#8d8d8d"/><stop offset="0.6000" stop-color="#6e6e6e"/><stop offset="0.6500" stop-color="#4b4b4b"/><stop offset="0.7000" stop-color="#3c3c3c"/><stop offset="0.7500" stop-color="#383838"/><stop offset="0.8000" stop-color="#383838"/><stop offset="0.8500" stop-color="#383838"/><stop offset="0.9000" stop-color="#383838"/><stop offset="0.9500" stop-color="#383838"/><stop offset="1.0000" stop-color="#383838"/></linearGradient><linearGradient id="Cmr14" gradientUnits="userSpaceOnUse" x1="172.5" x2="330"><stop offset="0.0000" stop-color="#3b3b3b"/><stop offset="0.0500" stop-color="#3c3c3c"/><stop offset="0.1000" stop-color="#3c3c3c"/><stop offset="0.1500" stop-color="#3e3e3e"/><stop offset="0.2000" stop-color="#424242"/><stop offset="0.2500" stop-color="#494949"/><stop offset="0.3000" stop-color="#545454"/><stop offset="0.3500" stop-color="#626262"/><stop offset="0.4000" stop-color="#737373"/><stop offset="0.4500" stop-color="#838383"/><stop offset="0.5000" stop-color="#8d8d8d"/><stop offset="0.5500" stop-color="#8e8e8e"/><stop offset="0.6000" stop-color="#777777"/><stop offset="0.6500" stop-color="#595959"/><stop offset="0.7000" stop-color="#454545"/><stop offset="0.7500" stop-color="#3e3e3e"/><stop offset="0.8000" stop-color="#3c3c3c"/><stop offset="0.8500" stop-color="#3b3b3b"/><stop offset="0.9000" stop-color="#3b3b3b"/><stop offset="0.9500" stop-color="#3b3b3b"/><stop offset="1.0000" stop-color="#3b3b3b"/></linearGradient><linearGradient id="Cmr15" gradientUnits="userSpaceOnUse" x1="172.5" x2="330"><stop offset="0.0000" stop-color="#404040"/><stop offset="0.0500" stop-color="#404040"/><stop offset="0.1000" stop-color="#414141"/><stop offset="0.1500" stop-color="#434343"/><stop offset="0.2000" stop-color="#474747"/><stop offset="0.2500" stop-color="#4f4f4f"/><stop offset="0.3000" stop-color="#595959"/><stop offset="0.3500" stop-color="#686868"/><stop offset="0.4000" stop-color="#777777"/><stop offset="0.4500" stop-color="#858585"/><stop offset="0.5000" stop-color="#8e8e8e"/><stop offset="0.5500" stop-color="#8e8e8e"/><stop offset="0.6000" stop-color="#7e7e7e"/><stop offset="0.6500" stop-color="#666666"/><stop offset="0.7000" stop-color="#515151"/><stop offset="0.7500" stop-color="#464646"/><stop offset="0.8000" stop-color="#414141"/><stop offset="0.8500" stop-color="#404040"/><stop offset="0.9000" stop-color="#3f3f3f"/><stop offset="0.9500" stop-color="#3f3f3f"/><stop offset="1.0000" stop-color="#3f3f3f"/></linearGradient><linearGradient id="Cmr16" gradientUnits="userSpaceOnUse" x1="172.5" x2="330"><stop offset="0.0000" stop-color="#444444"/><stop offset="0.0500" stop-color="#444444"/><stop offset="0.1000" stop-color="#464646"/><stop offset="0.1500" stop-color="#484848"/><stop offset="0.2000" stop-color="#4d4d4d"/><stop offset="0.2500" stop-color="#545454"/><stop offset="0.3000" stop-color="#5f5f5f"/><stop offset="0.3500" stop-color="#6c6c6c"/><stop offset="0.4000" stop-color="#7a7a7a"/><stop offset="0.4500" stop-color="#868686"/><stop offset="0.5000" stop-color="#8e8e8e"/><stop offset="0.5500" stop-color="#8f8f8f"/><stop offset="0.6000" stop-color="#838383"/><stop offset="0.6500" stop-color="#707070"/><stop offset="0.7000" stop-color="#5d5d5d"/><stop offset="0.7500" stop-color="#4f4f4f"/><stop offset="0.8000" stop-color="#484848"/><stop offset="0.8500" stop-color="#454545"/><stop offset="0.9000" stop-color="#444444"/><stop offset="0.9500" stop-color="#434343"/><stop offset="1.0000" stop-color="#434343"/></linearGradient><linearGradient id="Cmr17" gradientUnits="userSpaceOnUse" x1="172.5" x2="330"><stop offset="0.0000" stop-color="#464646"/><stop offset="0.0500" stop-color="#474747"/><stop offset="0.1000" stop-color="#494949"/><stop offset="0.1500" stop-color="#4b4b4b"/><stop offset="0.2000" stop-color="#505050"/><stop offset="0.2500" stop-color="#585858"/><stop offset="0.3000" stop-color="#626262"/><stop offset="0.3500" stop-color="#6f6f6f"/><stop offset="0.4000" stop-color="#7c7c7c"/><stop offset="0.4500" stop-color="#878787"/><stop offset="0.5000" stop-color="#8e8e8e"/><stop offset="0.5500" stop-color="#8f8f8f"/><stop offset="0.6000" stop-color="#858585"/><stop offset="0.6500" stop-color="#757575"/><stop offset="0.7000" stop-color="#636363"/><stop offset="0.7500" stop-color="#555555"/><stop offset="0.8000" stop-color="#4d4d4d"/><stop offset="0.8500" stop-color="#484848"/><stop offset="0.9000" stop-color="#474747"/><stop offset="0.9500" stop-color="#464646"/><stop offset="1.0000" stop-color="#464646"/></linearGradient><linearGradient id="Cmr18" gradientUnits="userSpaceOnUse" x1="172.5" x2="330"><stop offset="0.0000" stop-color="#828282"/><stop offset="0.0500" stop-color="#858585"/><stop offset="0.1000" stop-color="#8a8a8a"/><stop offset="0.1500" stop-color="#909090"/><stop offset="0.2000" stop-color="#979797"/><stop offset="0.2500" stop-color="#9f9f9f"/><stop offset="0.3000" stop-color="#a8a8a8"/><stop offset="0.3500" stop-color="#b0b0b0"/><stop offset="0.4000" stop-color="#b7b7b7"/><stop offset="0.4500" stop-color="#bcbcbc"/><stop offset="0.5000" stop-color="#bdbdbd"/><stop offset="0.5500" stop-color="#bcbcbc"/><stop offset="0.6000" stop-color="#b7b7b7"/><stop offset="0.6500" stop-color="#b0b0b0"/><stop offset="0.7000" stop-color="#a8a8a8"/><stop offset="0.7500" stop-color="#9f9f9f"/><stop offset="0.8000" stop-color="#979797"/><stop offset="0.8500" stop-color="#909090"/><stop offset="0.9000" stop-color="#8a8a8a"/><stop offset="0.9500" stop-color="#858585"/><stop offset="1.0000" stop-color="#828282"/></linearGradient><linearGradient id="Cmr19" gradientUnits="userSpaceOnUse" x1="172.5" x2="330"><stop offset="0.0000" stop-color="#828282"/><stop offset="0.0500" stop-color="#858585"/><stop offset="0.1000" stop-color="#8a8a8a"/><stop offset="0.1500" stop-color="#909090"/><stop offset="0.2000" stop-color="#979797"/><stop offset="0.2500" stop-color="#9f9f9f"/><stop offset="0.3000" stop-color="#a8a8a8"/><stop offset="0.3500" stop-color="#b0b0b0"/><stop offset="0.4000" stop-color="#b7b7b7"/><stop offset="0.4500" stop-color="#bcbcbc"/><stop offset="0.5000" stop-color="#bdbdbd"/><stop offset="0.5500" stop-color="#bcbcbc"/><stop offset="0.6000" stop-color="#b7b7b7"/><stop offset="0.6500" stop-color="#b0b0b0"/><stop offset="0.7000" stop-color="#a8a8a8"/><stop offset="0.7500" stop-color="#9f9f9f"/><stop offset="0.8000" stop-color="#979797"/><stop offset="0.8500" stop-color="#909090"/><stop offset="0.9000" stop-color="#8a8a8a"/><stop offset="0.9500" stop-color="#858585"/><stop offset="1.0000" stop-color="#828282"/></linearGradient><linearGradient id="Cmr20" gradientUnits="userSpaceOnUse" x1="172.5" x2="330"><stop offset="0.0000" stop-color="#484848"/><stop offset="0.0500" stop-color="#4b4b4b"/><stop offset="0.1000" stop-color="#505050"/><stop offset="0.1500" stop-color="#565656"/><stop offset="0.2000" stop-color="#5e5e5e"/><stop offset="0.2500" stop-color="#676767"/><stop offset="0.3000" stop-color="#707070"/><stop offset="0.3500" stop-color="#797979"/><stop offset="0.4000" stop-color="#808080"/><stop offset="0.4500" stop-color="#858585"/><stop offset="0.5000" stop-color="#878787"/><stop offset="0.5500" stop-color="#858585"/><stop offset="0.6000" stop-color="#808080"/><stop offset="0.6500" stop-color="#797979"/><stop offset="0.7000" stop-color="#707070"/><stop offset="0.7500" stop-color="#676767"/><stop offset="0.8000" stop-color="#5e5e5e"/><stop offset="0.8500" stop-color="#565656"/><stop offset="0.9000" stop-color="#505050"/><stop offset="0.9500" stop-color="#4b4b4b"/><stop offset="1.0000" stop-color="#484848"/></linearGradient><linearGradient id="Cmr21" gradientUnits="userSpaceOnUse" x1="172.5" x2="330"><stop offset="0.0000" stop-color="#474747"/><stop offset="0.0500" stop-color="#4b4b4b"/><stop offset="0.1000" stop-color="#4f4f4f"/><stop offset="0.1500" stop-color="#555555"/><stop offset="0.2000" stop-color="#5d5d5d"/><stop offset="0.2500" stop-color="#656565"/><stop offset="0.3000" stop-color="#6e6e6e"/><stop offset="0.3500" stop-color="#767676"/><stop offset="0.4000" stop-color="#7d7d7d"/><stop offset="0.4500" stop-color="#828282"/><stop offset="0.5000" stop-color="#838383"/><stop offset="0.5500" stop-color="#828282"/><stop offset="0.6000" stop-color="#7d7d7d"/><stop offset="0.6500" stop-color="#767676"/><stop offset="0.7000" stop-color="#6e6e6e"/><stop offset="0.7500" stop-color="#656565"/><stop offset="0.8000" stop-color="#5d5d5d"/><stop offset="0.8500" stop-color="#555555"/><stop offset="0.9000" stop-color="#4f4f4f"/><stop offset="0.9500" stop-color="#4b4b4b"/><stop offset="1.0000" stop-color="#474747"/></linearGradient><linearGradient id="Cmr22" gradientUnits="userSpaceOnUse" x1="172.5" x2="330"><stop offset="0.0000" stop-color="#858585"/><stop offset="0.0500" stop-color="#898989"/><stop offset="0.1000" stop-color="#8d8d8d"/><stop offset="0.1500" stop-color="#939393"/><stop offset="0.2000" stop-color="#9b9b9b"/><stop offset="0.2500" stop-color="#a3a3a3"/><stop offset="0.3000" stop-color="#acacac"/><stop offset="0.3500" stop-color="#b4b4b4"/><stop offset="0.4000" stop-color="#bbbbbb"/><stop offset="0.4500" stop-color="#bfbfbf"/><stop offset="0.5000" stop-color="#c1c1c1"/><stop offset="0.5500" stop-color="#bfbfbf"/><stop offset="0.6000" stop-color="#bbbbbb"/><stop offset="0.6500" stop-color="#b4b4b4"/><stop offset="0.7000" stop-color="#acacac"/><stop offset="0.7500" stop-color="#a3a3a3"/><stop offset="0.8000" stop-color="#9b9b9b"/><stop offset="0.8500" stop-color="#939393"/><stop offset="0.9000" stop-color="#8d8d8d"/><stop offset="0.9500" stop-color="#898989"/><stop offset="1.0000" stop-color="#858585"/></linearGradient><linearGradient id="Cmr23" gradientUnits="userSpaceOnUse" x1="172.5" x2="330"><stop offset="0.0000" stop-color="#858585"/><stop offset="0.0500" stop-color="#898989"/><stop offset="0.1000" stop-color="#8d8d8d"/><stop offset="0.1500" stop-color="#939393"/><stop offset="0.2000" stop-color="#9b9b9b"/><stop offset="0.2500" stop-color="#a3a3a3"/><stop offset="0.3000" stop-color="#acacac"/><stop offset="0.3500" stop-color="#b4b4b4"/><stop offset="0.4000" stop-color="#bbbbbb"/><stop offset="0.4500" stop-color="#bfbfbf"/><stop offset="0.5000" stop-color="#c1c1c1"/><stop offset="0.5500" stop-color="#bfbfbf"/><stop offset="0.6000" stop-color="#bbbbbb"/><stop offset="0.6500" stop-color="#b4b4b4"/><stop offset="0.7000" stop-color="#acacac"/><stop offset="0.7500" stop-color="#a3a3a3"/><stop offset="0.8000" stop-color="#9b9b9b"/><stop offset="0.8500" stop-color="#939393"/><stop offset="0.9000" stop-color="#8d8d8d"/><stop offset="0.9500" stop-color="#898989"/><stop offset="1.0000" stop-color="#858585"/></linearGradient><linearGradient id="Cmr24" gradientUnits="userSpaceOnUse" x1="172.5" x2="330"><stop offset="0.0000" stop-color="#4a4a4a"/><stop offset="0.0500" stop-color="#4d4d4d"/><stop offset="0.1000" stop-color="#515151"/><stop offset="0.1500" stop-color="#575757"/><stop offset="0.2000" stop-color="#5d5d5d"/><stop offset="0.2500" stop-color="#656565"/><stop offset="0.3000" stop-color="#6d6d6d"/><stop offset="0.3500" stop-color="#747474"/><stop offset="0.4000" stop-color="#7a7a7a"/><stop offset="0.4500" stop-color="#7e7e7e"/><stop offset="0.5000" stop-color="#808080"/><stop offset="0.5500" stop-color="#7e7e7e"/><stop offset="0.6000" stop-color="#7a7a7a"/><stop offset="0.6500" stop-color="#747474"/><stop offset="0.7000" stop-color="#6d6d6d"/><stop offset="0.7500" stop-color="#656565"/><stop offset="0.8000" stop-color="#5d5d5d"/><stop offset="0.8500" stop-color="#575757"/><stop offset="0.9000" stop-color="#515151"/><stop offset="0.9500" stop-color="#4d4d4d"/><stop offset="1.0000" stop-color="#4a4a4a"/></linearGradient><linearGradient id="Cmr25" gradientUnits="userSpaceOnUse" x1="172.5" x2="330"><stop offset="0.0000" stop-color="#4a4a4a"/><stop offset="0.0500" stop-color="#4d4d4d"/><stop offset="0.1000" stop-color="#515151"/><stop offset="0.1500" stop-color="#565656"/><stop offset="0.2000" stop-color="#5c5c5c"/><stop offset="0.2500" stop-color="#636363"/><stop offset="0.3000" stop-color="#6a6a6a"/><stop offset="0.3500" stop-color="#717171"/><stop offset="0.4000" stop-color="#777777"/><stop offset="0.4500" stop-color="#7b7b7b"/><stop offset="0.5000" stop-color="#7c7c7c"/><stop offset="0.5500" stop-color="#7b7b7b"/><stop offset="0.6000" stop-color="#777777"/><stop offset="0.6500" stop-color="#717171"/><stop offset="0.7000" stop-color="#6a6a6a"/><stop offset="0.7500" stop-color="#636363"/><stop offset="0.8000" stop-color="#5c5c5c"/><stop offset="0.8500" stop-color="#565656"/><stop offset="0.9000" stop-color="#515151"/><stop offset="0.9500" stop-color="#4d4d4d"/><stop offset="1.0000" stop-color="#4a4a4a"/></linearGradient><linearGradient id="Cmr26" gradientUnits="userSpaceOnUse" x1="172.5" x2="330"><stop offset="0.0000" stop-color="#797979"/><stop offset="0.0500" stop-color="#7c7c7c"/><stop offset="0.1000" stop-color="#7f7f7f"/><stop offset="0.1500" stop-color="#848484"/><stop offset="0.2000" stop-color="#8a8a8a"/><stop offset="0.2500" stop-color="#909090"/><stop offset="0.3000" stop-color="#979797"/><stop offset="0.3500" stop-color="#9e9e9e"/><stop offset="0.4000" stop-color="#a3a3a3"/><stop offset="0.4500" stop-color="#a6a6a6"/><stop offset="0.5000" stop-color="#a8a8a8"/><stop offset="0.5500" stop-color="#a6a6a6"/><stop offset="0.6000" stop-color="#a3a3a3"/><stop offset="0.6500" stop-color="#9e9e9e"/><stop offset="0.7000" stop-color="#979797"/><stop offset="0.7500" stop-color="#909090"/><stop offset="0.8000" stop-color="#8a8a8a"/><stop offset="0.8500" stop-color="#848484"/><stop offset="0.9000" stop-color="#7f7f7f"/><stop offset="0.9500" stop-color="#7c7c7c"/><stop offset="1.0000" stop-color="#797979"/></linearGradient><linearGradient id="Cmr27" gradientUnits="userSpaceOnUse" x1="172.5" x2="330"><stop offset="0.0000" stop-color="#4a4a4a"/><stop offset="0.0500" stop-color="#4d4d4d"/><stop offset="0.1000" stop-color="#515151"/><stop offset="0.1500" stop-color="#565656"/><stop offset="0.2000" stop-color="#5c5c5c"/><stop offset="0.2500" stop-color="#636363"/><stop offset="0.3000" stop-color="#6a6a6a"/><stop offset="0.3500" stop-color="#717171"/><stop offset="0.4000" stop-color="#777777"/><stop offset="0.4500" stop-color="#7b7b7b"/><stop offset="0.5000" stop-color="#7c7c7c"/><stop offset="0.5500" stop-color="#7b7b7b"/><stop offset="0.6000" stop-color="#777777"/><stop offset="0.6500" stop-color="#717171"/><stop offset="0.7000" stop-color="#6a6a6a"/><stop offset="0.7500" stop-color="#636363"/><stop offset="0.8000" stop-color="#5c5c5c"/><stop offset="0.8500" stop-color="#565656"/><stop offset="0.9000" stop-color="#515151"/><stop offset="0.9500" stop-color="#4d4d4d"/><stop offset="1.0000" stop-color="#4a4a4a"/></linearGradient><linearGradient id="Cmr28" gradientUnits="userSpaceOnUse" x1="172.5" x2="330"><stop offset="0.0000" stop-color="#555555"/><stop offset="0.0500" stop-color="#575757"/><stop offset="0.1000" stop-color="#5b5b5b"/><stop offset="0.1500" stop-color="#606060"/><stop offset="0.2000" stop-color="#656565"/><stop offset="0.2500" stop-color="#6c6c6c"/><stop offset="0.3000" stop-color="#737373"/><stop offset="0.3500" stop-color="#797979"/><stop offset="0.4000" stop-color="#7e7e7e"/><stop offset="0.4500" stop-color="#828282"/><stop offset="0.5000" stop-color="#838383"/><stop offset="0.5500" stop-color="#828282"/><stop offset="0.6000" stop-color="#7e7e7e"/><stop offset="0.6500" stop-color="#797979"/><stop offset="0.7000" stop-color="#737373"/><stop offset="0.7500" stop-color="#6c6c6c"/><stop offset="0.8000" stop-color="#656565"/><stop offset="0.8500" stop-color="#606060"/><stop offset="0.9000" stop-color="#5b5b5b"/><stop offset="0.9500" stop-color="#575757"/><stop offset="1.0000" stop-color="#555555"/></linearGradient><linearGradient id="Cmr29" gradientUnits="userSpaceOnUse" x1="172.5" x2="330"><stop offset="0.0000" stop-color="#8c8c8c"/><stop offset="0.0500" stop-color="#8f8f8f"/><stop offset="0.1000" stop-color="#939393"/><stop offset="0.1500" stop-color="#989898"/><stop offset="0.2000" stop-color="#9f9f9f"/><stop offset="0.2500" stop-color="#a6a6a6"/><stop offset="0.3000" stop-color="#aeaeae"/><stop offset="0.3500" stop-color="#b6b6b6"/><stop offset="0.4000" stop-color="#bcbcbc"/><stop offset="0.4500" stop-color="#c0c0c0"/><stop offset="0.5000" stop-color="#c1c1c1"/><stop offset="0.5500" stop-color="#c0c0c0"/><stop offset="0.6000" stop-color="#bcbcbc"/><stop offset="0.6500" stop-color="#b6b6b6"/><stop offset="0.7000" stop-color="#aeaeae"/><stop offset="0.7500" stop-color="#a6a6a6"/><stop offset="0.8000" stop-color="#9f9f9f"/><stop offset="0.8500" stop-color="#989898"/><stop offset="0.9000" stop-color="#939393"/><stop offset="0.9500" stop-color="#8f8f8f"/><stop offset="1.0000" stop-color="#8c8c8c"/></linearGradient><linearGradient id="Cmr30" gradientUnits="userSpaceOnUse" x1="172.5" x2="330"><stop offset="0.0000" stop-color="#8c8c8c"/><stop offset="0.0500" stop-color="#8f8f8f"/><stop offset="0.1000" stop-color="#939393"/><stop offset="0.1500" stop-color="#989898"/><stop offset="0.2000" stop-color="#9f9f9f"/><stop offset="0.2500" stop-color="#a6a6a6"/><stop offset="0.3000" stop-color="#aeaeae"/><stop offset="0.3500" stop-color="#b6b6b6"/><stop offset="0.4000" stop-color="#bcbcbc"/><stop offset="0.4500" stop-color="#c0c0c0"/><stop offset="0.5000" stop-color="#c1c1c1"/><stop offset="0.5500" stop-color="#c0c0c0"/><stop offset="0.6000" stop-color="#bcbcbc"/><stop offset="0.6500" stop-color="#b6b6b6"/><stop offset="0.7000" stop-color="#aeaeae"/><stop offset="0.7500" stop-color="#a6a6a6"/><stop offset="0.8000" stop-color="#9f9f9f"/><stop offset="0.8500" stop-color="#989898"/><stop offset="0.9000" stop-color="#939393"/><stop offset="0.9500" stop-color="#8f8f8f"/><stop offset="1.0000" stop-color="#8c8c8c"/></linearGradient><linearGradient id="Cmr31" gradientUnits="userSpaceOnUse" x1="172.5" x2="330"><stop offset="0.0000" stop-color="#5c5c5c"/><stop offset="0.0500" stop-color="#5f5f5f"/><stop offset="0.1000" stop-color="#636363"/><stop offset="0.1500" stop-color="#686868"/><stop offset="0.2000" stop-color="#6e6e6e"/><stop offset="0.2500" stop-color="#757575"/><stop offset="0.3000" stop-color="#7c7c7c"/><stop offset="0.3500" stop-color="#838383"/><stop offset="0.4000" stop-color="#898989"/><stop offset="0.4500" stop-color="#8d8d8d"/><stop offset="0.5000" stop-color="#8e8e8e"/><stop offset="0.5500" stop-color="#8d8d8d"/><stop offset="0.6000" stop-color="#898989"/><stop offset="0.6500" stop-color="#838383"/><stop offset="0.7000" stop-color="#7c7c7c"/><stop offset="0.7500" stop-color="#757575"/><stop offset="0.8000" stop-color="#6e6e6e"/><stop offset="0.8500" stop-color="#686868"/><stop offset="0.9000" stop-color="#636363"/><stop offset="0.9500" stop-color="#5f5f5f"/><stop offset="1.0000" stop-color="#5c5c5c"/></linearGradient><linearGradient id="Cmr32" gradientUnits="userSpaceOnUse" x1="172.5" x2="330"><stop offset="0.0000" stop-color="#636363"/><stop offset="0.0500" stop-color="#666666"/><stop offset="0.1000" stop-color="#696969"/><stop offset="0.1500" stop-color="#6e6e6e"/><stop offset="0.2000" stop-color="#747474"/><stop offset="0.2500" stop-color="#7a7a7a"/><stop offset="0.3000" stop-color="#818181"/><stop offset="0.3500" stop-color="#888888"/><stop offset="0.4000" stop-color="#8d8d8d"/><stop offset="0.4500" stop-color="#909090"/><stop offset="0.5000" stop-color="#929292"/><stop offset="0.5500" stop-color="#909090"/><stop offset="0.6000" stop-color="#8d8d8d"/><stop offset="0.6500" stop-color="#888888"/><stop offset="0.7000" stop-color="#818181"/><stop offset="0.7500" stop-color="#7a7a7a"/><stop offset="0.8000" stop-color="#747474"/><stop offset="0.8500" stop-color="#6e6e6e"/><stop offset="0.9000" stop-color="#696969"/><stop offset="0.9500" stop-color="#666666"/><stop offset="1.0000" stop-color="#636363"/></linearGradient><linearGradient id="Cmr33" gradientUnits="userSpaceOnUse" x1="172.5" x2="330"><stop offset="0.0000" stop-color="#9d9d9d"/><stop offset="0.0500" stop-color="#a0a0a0"/><stop offset="0.1000" stop-color="#a3a3a3"/><stop offset="0.1500" stop-color="#a7a7a7"/><stop offset="0.2000" stop-color="#adadad"/><stop offset="0.2500" stop-color="#b3b3b3"/><stop offset="0.3000" stop-color="#b9b9b9"/><stop offset="0.3500" stop-color="#bfbfbf"/><stop offset="0.4000" stop-color="#c4c4c4"/><stop offset="0.4500" stop-color="#c7c7c7"/><stop offset="0.5000" stop-color="#c8c8c8"/><stop offset="0.5500" stop-color="#c7c7c7"/><stop offset="0.6000" stop-color="#c4c4c4"/><stop offset="0.6500" stop-color="#bfbfbf"/><stop offset="0.7000" stop-color="#b9b9b9"/><stop offset="0.7500" stop-color="#b3b3b3"/><stop offset="0.8000" stop-color="#adadad"/><stop offset="0.8500" stop-color="#a7a7a7"/><stop offset="0.9000" stop-color="#a3a3a3"/><stop offset="0.9500" stop-color="#a0a0a0"/><stop offset="1.0000" stop-color="#9d9d9d"/></linearGradient><linearGradient id="Cmr34" gradientUnits="userSpaceOnUse" x1="172.5" x2="330"><stop offset="0.0000" stop-color="#9d9d9d"/><stop offset="0.0500" stop-color="#a0a0a0"/><stop offset="0.1000" stop-color="#a3a3a3"/><stop offset="0.1500" stop-color="#a7a7a7"/><stop offset="0.2000" stop-color="#adadad"/><stop offset="0.2500" stop-color="#b3b3b3"/><stop offset="0.3000" stop-color="#b9b9b9"/><stop offset="0.3500" stop-color="#bfbfbf"/><stop offset="0.4000" stop-color="#c4c4c4"/><stop offset="0.4500" stop-color="#c7c7c7"/><stop offset="0.5000" stop-color="#c8c8c8"/><stop offset="0.5500" stop-color="#c7c7c7"/><stop offset="0.6000" stop-color="#c4c4c4"/><stop offset="0.6500" stop-color="#bfbfbf"/><stop offset="0.7000" stop-color="#b9b9b9"/><stop offset="0.7500" stop-color="#b3b3b3"/><stop offset="0.8000" stop-color="#adadad"/><stop offset="0.8500" stop-color="#a7a7a7"/><stop offset="0.9000" stop-color="#a3a3a3"/><stop offset="0.9500" stop-color="#a0a0a0"/><stop offset="1.0000" stop-color="#9d9d9d"/></linearGradient><linearGradient id="Cmr35" gradientUnits="userSpaceOnUse" x1="172.5" x2="330"><stop offset="0.0000" stop-color="#676767"/><stop offset="0.0500" stop-color="#696969"/><stop offset="0.1000" stop-color="#6d6d6d"/><stop offset="0.1500" stop-color="#727272"/><stop offset="0.2000" stop-color="#787878"/><stop offset="0.2500" stop-color="#7e7e7e"/><stop offset="0.3000" stop-color="#858585"/><stop offset="0.3500" stop-color="#8b8b8b"/><stop offset="0.4000" stop-color="#919191"/><stop offset="0.4500" stop-color="#949494"/><stop offset="0.5000" stop-color="#959595"/><stop offset="0.5500" stop-color="#949494"/><stop offset="0.6000" stop-color="#919191"/><stop offset="0.6500" stop-color="#8b8b8b"/><stop offset="0.7000" stop-color="#858585"/><stop offset="0.7500" stop-color="#7e7e7e"/><stop offset="0.8000" stop-color="#787878"/><stop offset="0.8500" stop-color="#727272"/><stop offset="0.9000" stop-color="#6d6d6d"/><stop offset="0.9500" stop-color="#696969"/><stop offset="1.0000" stop-color="#676767"/></linearGradient><linearGradient id="Cmr36" gradientUnits="userSpaceOnUse" x1="172.5" x2="330"><stop offset="0.0000" stop-color="#6a6a6a"/><stop offset="0.0500" stop-color="#6d6d6d"/><stop offset="0.1000" stop-color="#717171"/><stop offset="0.1500" stop-color="#757575"/><stop offset="0.2000" stop-color="#7b7b7b"/><stop offset="0.2500" stop-color="#828282"/><stop offset="0.3000" stop-color="#898989"/><stop offset="0.3500" stop-color="#8f8f8f"/><stop offset="0.4000" stop-color="#949494"/><stop offset="0.4500" stop-color="#989898"/><stop offset="0.5000" stop-color="#999999"/><stop offset="0.5500" stop-color="#989898"/><stop offset="0.6000" stop-color="#949494"/><stop offset="0.6500" stop-color="#8f8f8f"/><stop offset="0.7000" stop-color="#898989"/><stop offset="0.7500" stop-color="#828282"/><stop offset="0.8000" stop-color="#7b7b7b"/><stop offset="0.8500" stop-color="#757575"/><stop offset="0.9000" stop-color="#717171"/><stop offset="0.9500" stop-color="#6d6d6d"/><stop offset="1.0000" stop-color="#6a6a6a"/></linearGradient><linearGradient id="Cmr37" gradientUnits="userSpaceOnUse" x1="172.5" x2="330"><stop offset="0.0000" stop-color="#d1d1d1"/><stop offset="0.0500" stop-color="#d1d1d1"/><stop offset="0.1000" stop-color="#d2d2d2"/><stop offset="0.1500" stop-color="#d3d3d3"/><stop offset="0.2000" stop-color="#d4d4d4"/><stop offset="0.2500" stop-color="#d6d6d6"/><stop offset="0.3000" stop-color="#d7d7d7"/><stop offset="0.3500" stop-color="#d8d8d8"/><stop offset="0.4000" stop-color="#dadada"/><stop offset="0.4500" stop-color="#dadada"/><stop offset="0.5000" stop-color="#dbdbdb"/><stop offset="0.5500" stop-color="#dadada"/><stop offset="0.6000" stop-color="#dadada"/><stop offset="0.6500" stop-color="#d8d8d8"/><stop offset="0.7000" stop-color="#d7d7d7"/><stop offset="0.7500" stop-color="#d6d6d6"/><stop offset="0.8000" stop-color="#d4d4d4"/><stop offset="0.8500" stop-color="#d3d3d3"/><stop offset="0.9000" stop-color="#d2d2d2"/><stop offset="0.9500" stop-color="#d1d1d1"/><stop offset="1.0000" stop-color="#d1d1d1"/></linearGradient><linearGradient id="Cmr38" gradientUnits="userSpaceOnUse" x1="172.5" x2="330"><stop offset="0.0000" stop-color="#e3e3e3"/><stop offset="0.0500" stop-color="#e4e4e4"/><stop offset="0.1000" stop-color="#e6e6e6"/><stop offset="0.1500" stop-color="#e7e7e7"/><stop offset="0.2000" stop-color="#e9e9e9"/><stop offset="0.2500" stop-color="#ececec"/><stop offset="0.3000" stop-color="#eeeeee"/><stop offset="0.3500" stop-color="#f0f0f0"/><stop offset="0.4000" stop-color="#f2f2f2"/><stop offset="0.4500" stop-color="#f4f4f4"/><stop offset="0.5000" stop-color="#f4f4f4"/><stop offset="0.5500" stop-color="#f4f4f4"/><stop offset="0.6000" stop-color="#f2f2f2"/><stop offset="0.6500" stop-color="#f0f0f0"/><stop offset="0.7000" stop-color="#eeeeee"/><stop offset="0.7500" stop-color="#ececec"/><stop offset="0.8000" stop-color="#e9e9e9"/><stop offset="0.8500" stop-color="#e7e7e7"/><stop offset="0.9000" stop-color="#e6e6e6"/><stop offset="0.9500" stop-color="#e4e4e4"/><stop offset="1.0000" stop-color="#e3e3e3"/></linearGradient><linearGradient id="Cmr39" gradientUnits="userSpaceOnUse" x1="172.5" x2="330"><stop offset="0.0000" stop-color="#dcdcdc"/><stop offset="0.0500" stop-color="#dddddd"/><stop offset="0.1000" stop-color="#dedede"/><stop offset="0.1500" stop-color="#e0e0e0"/><stop offset="0.2000" stop-color="#e2e2e2"/><stop offset="0.2500" stop-color="#e4e4e4"/><stop offset="0.3000" stop-color="#e7e7e7"/><stop offset="0.3500" stop-color="#e9e9e9"/><stop offset="0.4000" stop-color="#ebebeb"/><stop offset="0.4500" stop-color="#ececec"/><stop offset="0.5000" stop-color="#ededed"/><stop offset="0.5500" stop-color="#ececec"/><stop offset="0.6000" stop-color="#ebebeb"/><stop offset="0.6500" stop-color="#e9e9e9"/><stop offset="0.7000" stop-color="#e7e7e7"/><stop offset="0.7500" stop-color="#e4e4e4"/><stop offset="0.8000" stop-color="#e2e2e2"/><stop offset="0.8500" stop-color="#e0e0e0"/><stop offset="0.9000" stop-color="#dedede"/><stop offset="0.9500" stop-color="#dddddd"/><stop offset="1.0000" stop-color="#dcdcdc"/></linearGradient><linearGradient id="Cmr40" gradientUnits="userSpaceOnUse" x1="172.5" x2="330"><stop offset="0.0000" stop-color="#a9a9a9"/><stop offset="0.0500" stop-color="#aaaaaa"/><stop offset="0.1000" stop-color="#ababab"/><stop offset="0.1500" stop-color="#acacac"/><stop offset="0.2000" stop-color="#aeaeae"/><stop offset="0.2500" stop-color="#afafaf"/><stop offset="0.3000" stop-color="#b1b1b1"/><stop offset="0.3500" stop-color="#b3b3b3"/><stop offset="0.4000" stop-color="#b5b5b5"/><stop offset="0.4500" stop-color="#b6b6b6"/><stop offset="0.5000" stop-color="#b6b6b6"/><stop offset="0.5500" stop-color="#b6b6b6"/><stop offset="0.6000" stop-color="#b5b5b5"/><stop offset="0.6500" stop-color="#b3b3b3"/><stop offset="0.7000" stop-color="#b1b1b1"/><stop offset="0.7500" stop-color="#afafaf"/><stop offset="0.8000" stop-color="#aeaeae"/><stop offset="0.8500" stop-color="#acacac"/><stop offset="0.9000" stop-color="#ababab"/><stop offset="0.9500" stop-color="#aaaaaa"/><stop offset="1.0000" stop-color="#a9a9a9"/></linearGradient><linearGradient id="Car0" gradientUnits="userSpaceOnUse" x1="172.5" x2="330"><stop offset="0.0000" stop-color="#8c8c8c"/><stop offset="0.2000" stop-color="#999999"/><stop offset="0.4000" stop-color="#999999"/><stop offset="0.5000" stop-color="#8c8c8c"/><stop offset="0.6000" stop-color="#999999"/><stop offset="0.8000" stop-color="#999999"/><stop offset="1.0000" stop-color="#8c8c8c"/></linearGradient><linearGradient id="Car1" gradientUnits="userSpaceOnUse" x1="172.5" x2="330"><stop offset="0.0000" stop-color="#999999"/><stop offset="0.2000" stop-color="#a6a6a6"/><stop offset="0.4000" stop-color="#999999"/><stop offset="0.5000" stop-color="#8c8c8c"/><stop offset="0.6000" stop-color="#999999"/><stop offset="0.8000" stop-color="#a6a6a6"/><stop offset="1.0000" stop-color="#999999"/></linearGradient><linearGradient id="Car2" gradientUnits="userSpaceOnUse" x1="172.5" x2="330"><stop offset="0.0000" stop-color="#bfbfbf"/><stop offset="0.2000" stop-color="#bfbfbf"/><stop offset="0.4000" stop-color="#b2b2b2"/><stop offset="0.5000" stop-color="#b2b2b2"/><stop offset="0.6000" stop-color="#b2b2b2"/><stop offset="0.8000" stop-color="#bfbfbf"/><stop offset="1.0000" stop-color="#bfbfbf"/></linearGradient><linearGradient id="Car3" gradientUnits="userSpaceOnUse" x1="172.5" x2="330"><stop offset="0.0000" stop-color="#8c8c8c"/><stop offset="0.2000" stop-color="#8c8c8c"/><stop offset="0.4000" stop-color="#8c8c8c"/><stop offset="0.5000" stop-color="#8c8c8c"/><stop offset="0.6000" stop-color="#8c8c8c"/><stop offset="0.8000" stop-color="#8c8c8c"/><stop offset="1.0000" stop-color="#8c8c8c"/></linearGradient><filter id="nz" filterUnits="userSpaceOnUse" x="172.5" y="641" width="157.5" height="140" color-interpolation-filters="sRGB">
<feTurbulence type="fractalNoise" baseFrequency=".15 .75" numOctaves="2" seed="4"/>
<feColorMatrix type="matrix" values="1.7 0 0 0 -.35  1.7 0 0 0 -.35  1.7 0 0 0 -.35  0 0 0 0 1"/>
</filter>
<clipPath id="vclipC"><path d="M202.5 221H280.5L258.5 277L272.5 307H228.5L227.5 301z"/></clipPath>
<clipPath id="lclipC"><path d="M184.5 221H202.5L227.5 301L228.5 307H172.5V261z"/></clipPath><filter id="soft" filterUnits="userSpaceOnUse" x="0" y="0" width="520" height="401" color-interpolation-filters="sRGB"><feConvolveMatrix order="3" kernelMatrix="0.0192 0.1001 0.0192 0.1001 0.5228 0.1001 0.0192 0.1001 0.0192" edgeMode="duplicate"/></filter></defs>
<g filter="url(#soft)"><rect width="520" height="401" fill="#fff"/>
<g clip-path="url(#cA)"><g filter="url(#fA)">
<g filter="url(#mA)"><rect x="20" y="4" width="171" height="6" fill="url(#Amr0)"/><rect x="20" y="10" width="171" height="12.5" fill="url(#Amr0)"/><rect x="20" y="10" width="171" height="12.5" fill="url(#Amr1)" mask="url(#vmask)"/><rect x="20" y="22.5" width="171" height="25" fill="url(#Amr1)"/><rect x="20" y="22.5" width="171" height="25" fill="url(#Amr2)" mask="url(#vmask)"/><rect x="20" y="47.5" width="171" height="25" fill="url(#Amr2)"/><rect x="20" y="47.5" width="171" height="25" fill="url(#Amr3)" mask="url(#vmask)"/><rect x="20" y="72.5" width="171" height="25" fill="url(#Amr3)"/><rect x="20" y="72.5" width="171" height="25" fill="url(#Amr4)" mask="url(#vmask)"/><rect x="20" y="97.5" width="171" height="25" fill="url(#Amr4)"/><rect x="20" y="97.5" width="171" height="25" fill="url(#Amr5)" mask="url(#vmask)"/><rect x="20" y="122.5" width="171" height="19.5" fill="url(#Amr5)"/><rect x="20" y="122.5" width="171" height="19.5" fill="url(#Amr6)" mask="url(#vmask)"/><rect x="20" y="142" width="171" height="10" fill="url(#Amr6)"/><rect x="20" y="142" width="171" height="10" fill="url(#Amr7)" mask="url(#vmask)"/><rect x="20" y="152" width="171" height="6" fill="url(#Amr7)"/></g>
<g filter="url(#sA)"><rect x="16" y="420" width="179" height="162" fill="#242424"/><path fill="#bbb" d="M26 427L96.5 427L101 428.3L105.5 428.8L110 428.5L113 427.9L116 427L185 427L122 427L116 429.2L113 430L108.5 430.9L105.5 431L102.5 430.8L99.5 430.1L96.5 429.1L92 427L26 427ZM26 427L63.5 427L65 428.1L78.5 439.8L84.5 444.4L89 447.5L93.5 450.2L98 452.1L102.5 453.3L105.5 453.5L110 453.1L114.5 452L119 450.3L123.5 448.2L129.5 444.8L135.5 441.1L144.5 435.1L155 427.7L156.5 427L185 427L159.5 427L158 427.3L147.5 434.9L138.5 441.1L131 446L125 449.5L119 452.4L114.5 454.2L110 455.3L105.5 455.7L102.5 455.4L98 454.3L93.5 452.3L89 449.6L83 445.4L77 440.6L69.5 434.1L62 427.3L60.5 427L26 427ZM26 435.3L44 455.1L59 471.2L71 483.5L80 492.1L87.5 498.4L93.5 502.5L96.5 504.1L99.5 505.3L102.5 506L104 506.2L108.5 506.1L111.5 505.5L114.5 504.6L117.5 503.3L122 500.9L129.5 496.2L138.5 489.5L150.5 479.9L165.5 467.3L185 450.4L185 452.2L165.5 469.1L150.5 481.8L138.5 491.4L129.5 498.1L122 502.9L116 505.9L113 507L110 507.8L107 508.2L104 508.2L102.5 508L99.5 507.2L96.5 506L93.5 504.4L87.5 500.2L80 493.9L71 485.2L59 472.7L44 456.4L26 436.3ZM26 438.2L44 458.5L59 475.1L71 487.7L80 496.5L87.5 503L93.5 507.2L96.5 508.9L99.5 510.1L102.5 510.9L104 511.1L108.5 510.9L111.5 510.4L114.5 509.4L117.5 508.1L122 505.8L129.5 500.9L138.5 494.3L150.5 484.6L165.5 471.9L185 454.9L185 456.7L165.5 473.7L150.5 486.5L138.5 496.2L129.5 502.9L122 507.7L117.5 510.1L114.5 511.3L111.5 512.3L108.5 512.9L104 513L102.5 512.8L99.5 512.1L96.5 510.8L93.5 509.1L87.5 504.9L80 498.3L71 489.4L59 476.6L44 459.9L26 439.3ZM26 485.1L54.5 525.4L65 539.7L74 551.4L81.5 560.4L87.5 566.8L90.5 569.6L93.5 572.1L96.5 574.2L98 575L114.5 575L116 574.7L120.5 572.7L125 570.1L129.5 567.3L135.5 563.1L147.5 554.1L164 541L185 523.7L185 526.3L161 545.9L144.5 558.8L132.5 567.5L126.5 571.5L122 574.1L120.5 574.9L119 575L95 575L93.5 574.4L92 573.2L86 567.6L80 560.9L72.5 551.7L63.5 539.9L53 525.5L26 487.1ZM26 490.7L50 525.2L66.5 547.9L78.5 563.2L84.5 570.1L89 574.7L90.5 575L126.5 575L128 574.5L137 568.5L149 559.6L164 547.9L185 531L185 533.7L167 548.1L152 559.7L140 568.7L131 574.9L87.5 575L86 574.1L80 567.4L74 560L66.5 550.2L50 527.4L26 492.9ZM26 503.1L44 529.6L57.5 549L69.5 565.5L75.5 573.3L77 575L146 575L149 573L161 564.1L185 545.8L185 548.5L158 568.8L150.5 574.3L149 575L75.5 575L74 574.1L60.5 555.8L45.5 534.3L26 505.5ZM26 537.6L48.5 574L50 575L185 575L48.5 575L47 574.6L26 540.3Z"/><path fill="#fff" d="M26 427L87.5 427L93.5 430.5L98 432.4L102.5 433.6L105.5 433.8L110 433.4L114.5 432.4L120.5 430.2L126.5 427.3L128 427L185 427L131 427L123.5 431L119 433L116 434.1L113 435L110 435.6L105.5 436L101 435.5L96.5 434.1L93.5 432.7L90.5 431L84.5 427L26 427ZM26 427L48.5 427L71 447.8L78.5 454.2L86 460L92 463.9L96.5 466.1L101 467.6L105.5 468.1L110 467.7L113 467L116 466L122 463.3L128 459.9L135.5 455L146 447.5L173 427L185 427L176 427L174.5 427.4L158 440.3L146 449.4L135.5 457L128 461.9L122 465.3L116 468.1L113 469.1L110 469.8L105.5 470.2L101 469.7L96.5 468.2L93.5 466.8L90.5 465.1L84.5 461L77 455L69.5 448.4L59 438.7L47 427.2L45.5 427L26 427ZM26 427L44 427.1L57.5 440.1L68 449.8L77 457.7L84.5 463.7L90.5 467.8L93.5 469.5L96.5 471L101 472.4L105.5 472.9L110 472.5L114.5 471.3L119 469.5L125 466.4L134 460.6L144.5 453.1L158 442.9L177.5 427.4L179 427L185 427L180.5 427L179 427.9L161 442.3L146 453.9L135.5 461.5L126.5 467.5L120.5 470.8L114.5 473.4L110 474.6L105.5 475L101 474.5L96.5 473L93.5 471.6L90.5 469.9L84.5 465.7L77 459.7L68 451.8L56 440.5L42.5 427.4L41 427L26 427ZM26 432.4L44 451.7L59 467.4L71 479.3L80 487.7L87.5 493.8L93.5 497.8L96.5 499.4L99.5 500.6L104 501.5L108.5 501.3L111.5 500.8L114.5 499.8L117.5 498.6L122 496.2L129.5 491.5L138.5 484.9L150.5 475.3L165.5 462.8L185 446L185 447.7L165.5 464.6L150.5 477.2L138.5 486.8L129.5 493.4L122 498.1L116 501.1L113 502.2L110 503L107 503.4L104 503.4L99.5 502.5L96.5 501.3L93.5 499.7L87.5 495.7L80 489.5L71 481L59 468.9L44 453L26 433.4ZM26 441.2L44 462.1L59 479.1L71 492L80 501.1L87.5 507.7L93.5 512.1L96.5 513.8L99.5 515L102.5 515.8L104 516L108.5 515.9L111.5 515.3L114.5 514.3L117.5 513.1L122 510.7L129.5 505.8L138.5 499.1L150.5 489.4L165.5 476.6L185 459.5L185 461.3L165.5 478.5L150.5 491.3L138.5 501.1L129.5 507.8L122 512.6L117.5 515L114.5 516.3L111.5 517.2L108.5 517.8L104 518L102.5 517.8L99.5 517L96.5 515.7L93.5 514L87.5 509.6L80 502.9L71 493.8L59 480.6L44 463.4L26 442.3ZM26 444.2L44 465.7L59 483.1L71 496.4L80 505.7L87.5 512.5L93.5 517L96.5 518.7L99.5 520L102.5 520.9L104 521.1L108.5 520.9L111.5 520.3L114.5 519.4L117.5 518.1L122 515.7L129.5 510.8L138.5 504L150.5 494.2L165.5 481.4L185 464.2L185 466L165.5 483.3L150.5 496.2L138.5 506L129.5 512.8L122 517.6L117.5 520L114.5 521.3L111.5 522.3L108.5 522.9L104 523L102.5 522.8L99.5 522L96.5 520.7L93.5 518.9L87.5 514.4L80 507.5L71 498.2L59 484.7L44 467.1L26 445.3ZM26 572.4L27.5 575L185 575L26 575Z"/><path fill="#eee" d="M26 427L80 427L81.5 427.5L89 432.8L95 436.2L98 437.4L101 438.3L105.5 438.8L108.5 438.6L111.5 438.1L117.5 436.3L125 433L135.5 427L185 427L140 427L138.5 427.2L128 433.5L123.5 435.8L119 437.9L114.5 439.5L111.5 440.3L108.5 440.8L105.5 440.9L101 440.4L98 439.6L95 438.3L92 436.8L87.5 434L83 430.8L78.5 427.3L77 427L26 427ZM26 427L74 427L75.5 427.6L81.5 432.4L87.5 436.8L93.5 440.4L96.5 441.8L99.5 442.8L102.5 443.5L105.5 443.7L108.5 443.5L113 442.7L116 441.8L120.5 440L125 437.8L129.5 435.3L143 427L185 427L146 427L132.5 435.6L126.5 439.1L122 441.4L117.5 443.4L113 444.8L108.5 445.7L105.5 445.9L102.5 445.6L99.5 445L96.5 443.9L92 441.7L87.5 438.9L83 435.7L72.5 427.1L26 427ZM26 427L68 427L69.5 427.3L81.5 437.3L86 440.6L90.5 443.6L95 446L98 447.2L102.5 448.4L105.5 448.6L108.5 448.5L113 447.6L117.5 446.1L122 444.1L131 439.2L138.5 434.5L149 427.4L150.5 427L185 427L153.5 427L152 427.2L135.5 438.4L129.5 442.1L123.5 445.5L119 447.6L114.5 449.3L110 450.4L105.5 450.8L102.5 450.6L98 449.4L95 448.2L90.5 445.7L86 442.8L81.5 439.4L75.5 434.5L68 428L66.5 427L26 427ZM26 427L38 427L39.5 427.3L53 440.5L65 451.8L75.5 461.2L83 467.3L89 471.6L95 475.1L98 476.4L101 477.2L105.5 477.8L110 477.3L113 476.6L116 475.6L122 472.8L128 469.2L137 463.1L149 454.2L162.5 443.6L182 427.8L183.5 427L185 427L164 444.1L150.5 454.8L140 462.8L131 469.2L123.5 473.9L119 476.3L116 477.6L113 478.7L110 479.4L105.5 479.8L101 479.3L98 478.4L95 477.1L89 473.7L83 469.3L75.5 463.2L65 453.7L53 442.3L38 427.5L36.5 427L26 427ZM26 429.6L44 448.3L59 463.6L71 475.2L80 483.3L87.5 489.3L93.5 493.2L96.5 494.7L99.5 495.9L104 496.8L108.5 496.6L111.5 496L114.5 495.1L117.5 493.9L122 491.5L129.5 486.8L138.5 480.3L150.5 470.8L165.5 458.3L185 441.6L185 443.4L165.5 460.1L150.5 472.6L138.5 482.2L129.5 488.7L122 493.5L116 496.5L113 497.6L110 498.3L107 498.7L104 498.7L99.5 497.8L96.5 496.6L93.5 495.1L87.5 491.2L80 485.1L71 476.9L59 465.1L44 449.6L26 430.6ZM26 479.8L44 505.2L59 525.9L69.5 539.8L78.5 550.9L86 559.3L92 564.9L95 567.1L98 568.9L101 570.2L102.5 570.6L105.5 570.9L108.5 570.7L111.5 570.1L114.5 569.2L120.5 566.5L128 562L137 555.7L149 546.4L164 534.1L185 516.3L185 519L164 536.6L149 548.7L137 558L128 564.3L120.5 568.7L114.5 571.4L111.5 572.3L108.5 572.9L105.5 573.1L102.5 572.8L101 572.4L98 571.1L95 569.3L92 567L86 561.4L78.5 553L69.5 541.8L57.5 525.9L44 507.2L26 481.6ZM26 509.9L53 549.8L63.5 564.7L71 575L155 575L156.5 574.3L158 573.2L185 553.2L185 555.9L159.5 574.6L158 575L69.5 575L68 573.7L56 556.8L42.5 537.1L26 512.5ZM26 516.7L44 543.9L59 565.9L65 574.5L66.5 575L164 575L165.5 574.8L185 560.7L185 563.4L170 574.2L168.5 575L63.5 575L59 568.7L48.5 553.2L26 519ZM26 552.9L38 573.3L39.5 575L185 575L38 575L36.5 573.8L26 555.7Z"/><path fill="#aaa" d="M26 427L57.5 427L59 427.3L68 435.6L75.5 442.1L81.5 447L87.5 451.4L92 454.2L96.5 456.4L101 457.9L105.5 458.4L110 458L114.5 456.9L119 455.2L125 452.2L131 448.6L138.5 443.7L149 436.4L161 427.7L162.5 427L185 427L165.5 427L164 427.2L152 436.1L141.5 443.7L134 448.7L126.5 453.4L120.5 456.6L114.5 459L110 460.1L105.5 460.5L101 460L96.5 458.6L92 456.3L87.5 453.5L83 450.2L77 445.4L68 437.6L57.5 427.8L56 427L26 427ZM26 453.7L44 476.9L57.5 493.8L69.5 508.4L78.5 518.6L86 526.2L92 531.3L95 533.4L98 535L101 536.2L102.5 536.5L105.5 536.8L108.5 536.6L111.5 536L114.5 535L117.5 533.7L120.5 532.1L128 527.3L137 520.6L149 510.6L164 497.6L185 478.7L185 480.6L165.5 498.2L149 512.7L137 522.6L128 529.3L120.5 534.1L117.5 535.7L114.5 537L111.5 538L108.5 538.6L105.5 538.8L102.5 538.5L101 538.1L98 537L95 535.3L92 533.2L86 528.1L78.5 520.4L69.5 510.2L57.5 495.5L42.5 476.4L26 454.8ZM26 496.8L47 527.2L62 548.3L74 564.3L80 571.7L83 575L137 574.9L146 568.5L156.5 560.6L185 538.4L185 541L156.5 563.1L144.5 572L140 575L81.5 575L80 574.3L78.5 572.5L71 562.9L63.5 552.8L47 529.6L26 499ZM26 545.2L44 575L185 575L42.5 575L41 573.1L26 547.9ZM26 561.6L33.5 574.6L35 575L185 575L32 575L30.5 573.3L26 565.4Z"/><path fill="#ccc" d="M26 427L53 427L54.5 427.8L66.5 439L75.5 446.9L81.5 451.8L87.5 456.2L92 459.1L96.5 461.3L101 462.8L105.5 463.3L110 462.9L114.5 461.7L120.5 459.3L126.5 456L134 451.4L143 445.2L153.5 437.6L167 427.4L168.5 427L185 427L170 427L143 447.1L134 453.4L126.5 458.1L120.5 461.3L114.5 463.8L110 465L105.5 465.4L101 464.9L96.5 463.4L92 461.2L86 457.3L80 452.7L72.5 446.3L51.5 427L26 427ZM26 427L29 427L30.5 427.5L48.5 445.3L63.5 459.8L74 469.3L83 476.8L89 481.2L95 484.6L99.5 486.4L104 487.3L107 487.3L110 486.9L113 486.1L116 485.1L122 482.1L129.5 477.5L138.5 471.1L150.5 461.8L165.5 449.5L185 433.1L185 434.7L165.5 451.2L150.5 463.6L138.5 472.9L129.5 479.4L122 484.1L116 487L113 488.1L110 488.9L107 489.3L104 489.3L99.5 488.4L96.5 487.3L93.5 485.9L87.5 482.1L81.5 477.6L72.5 469.9L62 460.2L48.5 447.1L29 427.6L27.5 427L26 427ZM26 456.9L44 480.7L57.5 498.2L69.5 513.1L78.5 523.5L86 531.3L92 536.6L95 538.7L98 540.4L101 541.6L102.5 542L105.5 542.3L108.5 542.1L111.5 541.4L114.5 540.4L117.5 539.1L120.5 537.5L128 532.7L137 525.9L149 515.9L164 502.7L185 483.7L185 485.6L164 504.7L149 517.9L137 527.9L128 534.7L120.5 539.5L117.5 541.1L114.5 542.4L111.5 543.4L108.5 544L105.5 544.2L102.5 543.9L101 543.5L98 542.4L95 540.7L92 538.5L86 533.2L78.5 525.4L69.5 514.9L57.5 499.8L44 482.2L26 458.1ZM26 469.5L44 494.5L57.5 512.8L69.5 528.5L78.5 539.5L86 547.7L92 553.2L95 555.4L98 557.2L101 558.4L102.5 558.8L105.5 559.1L108.5 558.9L111.5 558.3L114.5 557.4L120.5 554.5L128 549.8L137 543.2L149 533.4L164 520.6L185 502L185 504.6L165.5 521.7L150.5 534.5L137 545.4L128 552L120.5 556.7L114.5 559.5L111.5 560.4L108.5 561L105.5 561.2L102.5 560.9L101 560.5L98 559.3L95 557.5L92 555.2L86 549.7L78.5 541.5L69.5 530.5L57.5 514.9L44 496.5L26 471.4ZM26 474.6L44 499.8L57.5 518.3L69.5 534.1L78.5 545.1L86 553.4L92 559L95 561.2L98 563L101 564.2L102.5 564.7L105.5 565L108.5 564.8L111.5 564.2L114.5 563.2L120.5 560.5L128 555.9L137 549.4L149 539.8L164 527.3L185 509.1L185 511.7L165.5 528.4L150.5 541L138.5 550.5L128 558.1L120.5 562.6L114.5 565.4L111.5 566.3L108.5 566.9L105.5 567.1L102.5 566.8L101 566.4L98 565.1L95 563.3L92 561.1L86 555.5L78.5 547.2L69.5 536.1L57.5 520.3L44 501.8L26 476.4ZM26 523.3L54.5 567L59 573.7L60.5 575L174.5 575L185 567.4L185 569.6L177.5 575L59 575L57.5 574.4L44 553.8L26 525.8ZM26 530.3L42.5 556.5L54.5 575L182 575L183.5 574.7L185 573.6L185 575L53 575L51.5 573.4L26 532.9Z"/><path fill="#ddd" d="M26 427L33.5 427L35 427.4L51.5 443.7L65 456.5L75.5 465.9L83 472.1L89 476.4L95 479.9L98 481.1L101 482L105.5 482.6L110 482.1L113 481.4L116 480.3L119 479L123.5 476.6L131 471.9L140 465.5L152 456.2L167 444.1L185 429.2L185 430.8L167 445.8L152 458L140 467.3L131 473.8L123.5 478.6L119 481L116 482.3L113 483.4L110 484.1L105.5 484.6L101 484.1L96.5 482.6L92 480.3L86 476.3L77 469.2L66.5 459.8L53 446.9L33.5 427.6L32 427L26 427ZM26 427L27.5 428.2L45.5 446.5L60.5 461.2L71 471.1L80 479L87.5 484.8L93.5 488.6L96.5 490L99.5 491.2L104 492L107 492L110 491.6L113 490.9L116 489.8L122 486.8L129.5 482.1L138.5 475.6L150.5 466.2L165.5 453.8L185 437.3L185 439L165.5 455.6L150.5 468.1L138.5 477.6L129.5 484.1L122 488.8L116 491.8L113 492.9L110 493.6L107 494L104 494L99.5 493.1L96.5 492L93.5 490.5L87.5 486.7L80 480.8L71 472.8L59 461.3L44 446.3L26 427.7ZM26 447.3L45.5 471.1L59 487.2L71 500.9L80 510.4L87.5 517.5L93.5 522L96.5 523.8L99.5 525.1L102.5 526L104 526.2L108.5 526.1L111.5 525.5L114.5 524.5L117.5 523.2L122 520.8L129.5 515.8L138.5 509L150.5 499.2L165.5 486.2L185 468.9L185 470.7L165.5 488.1L150.5 501.1L138.5 511L129.5 517.8L122 522.8L117.5 525.2L114.5 526.4L111.5 527.4L108.5 528L104 528.2L102.5 527.9L99.5 527.1L96.5 525.8L93.5 524L87.5 519.4L80 512.3L71 502.7L59 488.8L44 470.7L26 448.4ZM26 450.5L44 473.1L57.5 489.6L69.5 503.8L78.5 513.7L86 521.1L92 526.1L95 528.1L98 529.7L101 530.9L102.5 531.2L105.5 531.5L108.5 531.3L111.5 530.7L114.5 529.7L120.5 526.8L128 522.1L137 515.3L149 505.5L164 492.5L185 473.8L185 475.6L164 494.5L149 507.5L137 517.3L128 524.1L120.5 528.8L114.5 531.7L111.5 532.7L108.5 533.3L105.5 533.5L102.5 533.2L101 532.8L98 531.7L95 530.1L92 528L86 523L78.5 515.5L69.5 505.5L57.5 491.2L42.5 472.6L26 451.6ZM26 460.3L44 484.7L57.5 502.6L69.5 517.8L78.5 528.6L86 536.6L92 542L95 544.1L98 545.9L101 547.1L102.5 547.5L105.5 547.8L108.5 547.6L111.5 547L114.5 546L117.5 544.6L120.5 543L128 538.2L137 531.3L149 521.2L164 508L185 488.8L185 490.8L165.5 508.6L150.5 522L138.5 532.1L128 540.2L120.5 545L117.5 546.6L114.5 548L111.5 549L108.5 549.6L105.5 549.8L102.5 549.5L101 549.1L98 547.9L95 546.1L92 543.9L86 538.5L78.5 530.4L69.5 519.7L57.5 504.2L44 486.2L26 461.5ZM26 464.5L44 489.3L57.5 507.5L69.5 523L78.5 533.9L86 542L92 547.5L95 549.7L98 551.5L101 552.7L102.5 553.1L105.5 553.4L108.5 553.2L111.5 552.6L114.5 551.6L117.5 550.3L120.5 548.7L128 543.9L137 537.1L149 527.1L164 514L185 495L185 497.6L165.5 515.1L150.5 528.2L138.5 538.1L128 546L120.5 550.8L114.5 553.7L111.5 554.6L108.5 555.3L105.5 555.5L102.5 555.1L101 554.7L98 553.5L95 551.7L92 549.5L86 544.1L78.5 535.9L69.5 525L57.5 509.5L44 491.3L26 466.4Z"/><path fill="#fff" fill-opacity=".32" d="M26 427L185 427L185 428.4L183.5 427L27.5 427L26 428.4ZM26 430.7L29 427.7L30.5 427L180.5 427L182 427.7L185 430.7L185 433L179 427L32 427L26 433ZM26 435.3L33.5 427.7L35 427L176 427L177.5 427.7L185 435.3L185 437.6L174.5 427L36.5 427L26 437.6ZM26 439.9L38 427.7L39.5 427L171.5 427L173 427.7L185 439.9L185 442.2L170 427L41 427L26 442.2ZM26 444.5L42.5 427.7L44 427L167 427L168.5 427.7L185 444.5L185 446.8L165.5 427L164 427L45.5 427L26 446.8ZM26 449.1L47 427.8L48.5 427L162.5 427L164 427.8L185 449.1L185 451.4L161 427.1L159.5 427L50 427.1L26 451.4ZM26 453.7L51.5 427.9L53 427L158 427L159.5 427.9L185 453.7L185 456L156.5 427.2L155 427L56 427L54.5 427.2L26 456ZM26 458.3L51.5 432.5L56 428.1L57.5 427L153.5 427L155 428.1L159.5 432.5L185 458.3L185 460.6L152 427.4L150.5 427L60.5 427L59 427.4L26 460.6ZM26 462.9L50 438.6L62 427L149 427L161 438.6L185 462.9L185 465.2L152 432L147.5 427.6L146 427L65 427L63.5 427.6L59 432L26 465.2ZM26 467.5L63.5 429.9L66.5 427.1L68 427L144.5 427.1L161 443.2L185 467.5L185 469.8L153.5 438.1L143 427.9L141.5 427L69.5 427L68 427.9L57.5 438.1L26 469.8ZM26 472.1L62 436L71 427.4L72.5 427L138.5 427L140 427.4L158 444.8L185 472.1L185 474.4L155 444.2L137 427L74 427L56 444.2L26 474.4ZM26 476.7L60.5 442L74 429.2L77 427L134 427L137 429.2L150.5 442L185 476.7L185 479L147.5 441.4L132.5 427.5L131 427L80 427L78.5 427.5L69.5 435.7L57.5 447.3L26 479ZM26 481.3L50 457L66.5 440.9L81.5 427.2L83 427L128 427L129.5 427.2L138.5 435.2L150.5 446.6L185 481.3L185 483.6L161 459.3L143 441.7L128 428.3L126.5 427.1L125 427L84.5 427.1L75.5 434.8L63.5 446L26 483.6ZM26 485.9L51.5 460.1L69.5 442.6L84.5 429.4L87.5 427.1L89 427L123.5 427.1L132.5 434.4L146 446.9L162.5 463.1L185 485.9L185 488.2L158 460.9L140 443.5L126.5 431.7L120.5 427.3L119 427L92 427L90.5 427.3L81.5 434.1L68 446.3L50 463.9L26 488.2ZM26 490.5L53 463.2L72.5 444.4L86 432.8L92 428.6L95 427L116 427L122 430.6L131 437.7L144.5 450.1L161 466.2L185 490.5L185 492.8L153.5 461.1L141.5 449.5L132.5 441.3L125 435.1L119 430.9L113 427.7L110 427L99.5 427.2L93.5 430L86 435.1L77 442.6L65 453.8L48.5 470L26 492.8ZM26 495.1L60.5 460.4L72.5 449L81.5 441.1L89 435.2L95 431.4L101 429L105.5 428.4L110 429L116 431.4L122 435.2L129.5 441.1L138.5 449L150.5 460.4L185 495.1L185 497.4L150.5 462.7L138.5 451.3L129.5 443.3L122 437.5L116 433.7L110 431.3L105.5 430.8L101 431.3L95 433.7L89 437.5L81.5 443.3L72.5 451.3L60.5 462.7L26 497.4ZM26 499.7L60.5 465L72.5 453.6L81.5 445.6L89 439.8L95 436L101 433.6L105.5 433.1L110 433.6L116 436L122 439.8L129.5 445.6L138.5 453.6L150.5 465L185 499.7L185 502L150.5 467.3L138.5 455.9L129.5 447.9L122 442.1L116 438.3L110 435.9L105.5 435.4L101 435.9L95 438.3L89 442.1L81.5 447.9L72.5 455.9L60.5 467.3L26 502ZM26 504.3L60.5 469.6L72.5 458.2L81.5 450.2L89 444.4L95 440.6L101 438.2L105.5 437.6L110 438.2L116 440.6L122 444.4L129.5 450.2L138.5 458.2L150.5 469.6L185 504.3L185 506.6L150.5 471.9L138.5 460.5L129.5 452.6L122 446.7L116 442.9L110 440.5L105.5 439.9L101 440.5L95 442.9L89 446.7L81.5 452.6L72.5 460.5L60.5 471.9L26 506.6ZM26 508.9L60.5 474.2L72.5 462.8L81.5 454.9L89 449L95 445.2L101 442.8L105.5 442.2L110 442.8L116 445.2L122 449L129.5 454.9L138.5 462.8L150.5 474.2L185 508.9L185 511.2L150.5 476.5L138.5 465.1L129.5 457.1L122 451.3L116 447.5L110 445.1L105.5 444.5L101 445.1L95 447.5L89 451.3L81.5 457.1L72.5 465.1L60.5 476.5L26 511.2ZM26 513.5L60.5 478.8L72.5 467.4L81.5 459.4L89 453.6L95 449.8L101 447.4L105.5 446.9L110 447.4L116 449.8L122 453.6L129.5 459.4L138.5 467.4L150.5 478.8L185 513.5L185 515.8L150.5 481.1L138.5 469.7L129.5 461.8L122 455.9L116 452.1L110 449.7L105.5 449.1L101 449.7L95 452.1L89 455.9L81.5 461.8L72.5 469.7L60.5 481.1L26 515.8ZM26 518.1L60.5 483.4L72.5 472L81.5 464.1L89 458.2L95 454.4L101 452L105.5 451.4L110 452L116 454.4L122 458.2L129.5 464.1L138.5 472L150.5 483.4L185 518.1L185 520.4L150.5 485.7L138.5 474.3L129.5 466.4L122 460.5L116 456.7L110 454.3L105.5 453.8L101 454.3L95 456.7L89 460.5L81.5 466.4L72.5 474.3L60.5 485.7L26 520.4ZM26 522.7L60.5 488L72.5 476.6L81.5 468.6L89 462.8L95 459L101 456.6L105.5 456L110 456.6L116 459L122 462.8L129.5 468.6L138.5 476.6L150.5 488L185 522.7L185 525L150.5 490.3L138.5 478.9L129.5 470.9L122 465.1L116 461.3L110 458.9L105.5 458.4L101 458.9L95 461.3L89 465.1L81.5 470.9L72.5 478.9L60.5 490.3L26 525ZM26 527.3L60.5 492.6L72.5 481.2L81.5 473.2L89 467.4L95 463.6L101 461.2L105.5 460.6L110 461.2L116 463.6L122 467.4L129.5 473.2L138.5 481.2L150.5 492.6L185 527.3L185 529.6L150.5 494.9L138.5 483.5L129.5 475.6L122 469.7L116 465.9L110 463.5L105.5 462.9L101 463.5L95 465.9L89 469.7L81.5 475.6L72.5 483.5L60.5 494.9L26 529.6ZM26 531.9L60.5 497.2L72.5 485.8L81.5 477.9L89 472L95 468.2L101 465.8L105.5 465.2L110 465.8L116 468.2L122 472L129.5 477.9L138.5 485.8L150.5 497.2L185 531.9L185 534.2L150.5 499.5L138.5 488.1L129.5 480.1L122 474.3L116 470.5L110 468.1L105.5 467.5L101 468.1L95 470.5L89 474.3L81.5 480.1L72.5 488.1L60.5 499.5L26 534.2ZM26 536.5L60.5 501.8L72.5 490.4L81.5 482.4L89 476.6L95 472.8L101 470.4L105.5 469.9L110 470.4L116 472.8L122 476.6L129.5 482.4L138.5 490.4L150.5 501.8L185 536.5L185 538.8L150.5 504.1L138.5 492.7L129.5 484.8L122 478.9L116 475.1L110 472.7L105.5 472.1L101 472.7L95 475.1L89 478.9L81.5 484.8L72.5 492.7L60.5 504.1L26 538.8ZM26 541.1L60.5 506.4L72.5 495L81.5 487.1L89 481.2L95 477.4L101 475L105.5 474.4L110 475L116 477.4L122 481.2L129.5 487.1L138.5 495L150.5 506.4L185 541.1L185 543.4L150.5 508.7L138.5 497.3L129.5 489.4L122 483.5L116 479.7L110 477.3L105.5 476.8L101 477.3L95 479.7L89 483.5L81.5 489.4L72.5 497.3L60.5 508.7L26 543.4ZM26 545.7L60.5 511L72.5 499.6L81.5 491.6L89 485.8L95 482L101 479.6L105.5 479L110 479.6L116 482L122 485.8L129.5 491.6L138.5 499.6L150.5 511L185 545.7L185 548L150.5 513.3L138.5 501.9L129.5 493.9L122 488.1L116 484.3L110 481.9L105.5 481.4L101 481.9L95 484.3L89 488.1L81.5 493.9L72.5 501.9L60.5 513.3L26 548ZM26 550.3L60.5 515.6L72.5 504.2L81.5 496.2L89 490.4L95 486.6L101 484.2L105.5 483.6L110 484.2L116 486.6L122 490.4L129.5 496.2L138.5 504.2L150.5 515.6L185 550.3L185 552.6L150.5 517.9L138.5 506.5L129.5 498.5L122 492.7L116 488.9L110 486.5L105.5 485.9L101 486.5L95 488.9L89 492.7L81.5 498.5L72.5 506.5L60.5 517.9L26 552.6ZM26 554.9L60.5 520.2L72.5 508.8L81.5 500.9L89 495L95 491.2L101 488.8L105.5 488.2L110 488.8L116 491.2L122 495L129.5 500.9L138.5 508.8L150.5 520.2L185 554.9L185 557.2L150.5 522.5L138.5 511.1L129.5 503.1L122 497.3L116 493.5L110 491.1L105.5 490.5L101 491.1L95 493.5L89 497.3L81.5 503.1L72.5 511.1L60.5 522.5L26 557.2ZM26 559.5L60.5 524.8L72.5 513.4L81.5 505.4L89 499.6L95 495.8L101 493.4L105.5 492.9L110 493.4L116 495.8L122 499.6L129.5 505.4L138.5 513.4L150.5 524.8L185 559.5L185 561.8L150.5 527.1L138.5 515.7L129.5 507.8L122 501.9L116 498.1L110 495.7L105.5 495.1L101 495.7L95 498.1L89 501.9L81.5 507.8L72.5 515.7L60.5 527.1L26 561.8ZM26 564.1L60.5 529.4L72.5 518L81.5 510L89 504.2L95 500.4L101 498L105.5 497.4L110 498L116 500.4L122 504.2L129.5 510L138.5 518L150.5 529.4L185 564.1L185 566.4L150.5 531.7L138.5 520.3L129.5 512.3L122 506.5L116 502.7L110 500.3L105.5 499.8L101 500.3L95 502.7L89 506.5L81.5 512.3L72.5 520.3L60.5 531.7L26 566.4ZM26 568.7L60.5 534L72.5 522.6L81.5 514.6L89 508.8L95 505L101 502.6L105.5 502L110 502.6L116 505L122 508.8L129.5 514.6L138.5 522.6L150.5 534L185 568.7L185 571L150.5 536.3L138.5 524.9L129.5 517L122 511.1L116 507.3L110 504.9L105.5 504.4L101 504.9L95 507.3L89 511.1L81.5 517L72.5 524.9L60.5 536.3L26 571ZM26 573.3L60.5 538.6L72.5 527.2L81.5 519.2L89 513.4L95 509.6L101 507.2L105.5 506.6L110 507.2L116 509.6L122 513.4L129.5 519.2L138.5 527.2L150.5 538.6L185 573.3L185 575L183.5 574.1L147.5 538L137 528.1L129.5 521.5L122 515.7L116 511.9L110 509.5L105.5 508.9L101 509.5L95 511.9L89 515.7L81.5 521.5L74 528.1L63.5 538L27.5 574.1L26 575ZM26 575L29 574.9L63.5 540.3L75.5 529.1L84.5 521.4L90.5 517L96.5 513.5L101 511.8L105.5 511.2L110 511.8L114.5 513.5L120.5 517L126.5 521.4L135.5 529.1L147.5 540.3L182 574.9L185 575L180.5 575L179 574.1L144.5 539.8L134 530L125 522.5L119 518.3L114.5 515.8L110 514.1L105.5 513.5L101 514.1L96.5 515.8L92 518.3L86 522.5L77 530L66.5 539.8L32 574.1L30.5 575L26 575ZM26 575L33.5 574.9L53 555.2L68 540.6L78.5 531L87.5 523.7L93.5 519.7L98 517.4L102.5 516.1L105.5 515.9L108.5 516.1L113 517.4L117.5 519.7L123.5 523.7L132.5 531L143 540.6L158 555.2L177.5 574.9L185 575L176 575L174.5 574.1L146 545.8L135.5 536L128 529.5L122 524.9L116 521.1L110 518.7L105.5 518.1L101 518.7L95 521.1L89 524.9L83 529.5L75.5 536L65 545.8L36.5 574.1L35 575L26 575ZM26 575L38 574.9L66.5 546.7L77 536.9L84.5 530.6L90.5 526.2L96.5 522.7L101 521L105.5 520.5L110 521L114.5 522.7L120.5 526.2L126.5 530.6L134 536.9L144.5 546.7L173 574.9L185 575L171.5 575L170 574.2L143 547.5L134 539.2L126.5 532.9L120.5 528.5L114.5 525L110 523.3L105.5 522.8L101 523.3L96.5 525L90.5 528.5L84.5 532.9L77 539.2L68 547.5L41 574.2L39.5 575L26 575ZM26 575L42.5 574.9L68 549.8L77 541.5L84.5 535.2L90.5 530.8L96.5 527.3L101 525.6L105.5 525L110 525.6L114.5 527.3L120.5 530.8L126.5 535.2L134 541.5L143 549.8L168.5 574.9L185 575L167 575L165.5 574.2L141.5 550.7L132.5 542.5L125 536.3L119 532.1L114.5 529.6L110 527.9L105.5 527.4L101 527.9L96.5 529.6L92 532.1L86 536.3L78.5 542.5L69.5 550.7L45.5 574.2L44 575L26 575ZM26 575L47 575L71 551.6L78.5 544.8L86 538.6L92 534.4L96.5 531.9L101 530.2L105.5 529.6L110 530.2L114.5 531.9L119 534.4L125 538.6L132.5 544.8L140 551.6L164 575L185 575L162.5 575L161 574.3L140 553.9L132.5 547.1L125 540.9L119 536.7L114.5 534.2L110 532.5L105.5 532L101 532.5L96.5 534.2L92 536.7L86 540.9L78.5 547.1L71 553.9L50 574.3L48.5 575L26 575ZM26 575L51.5 575L74 553.4L81.5 546.8L87.5 542.1L93.5 538.1L98 535.8L102.5 534.5L105.5 534.2L108.5 534.5L113 535.8L117.5 538.1L123.5 542.1L129.5 546.8L137 553.4L159.5 575L185 575L158 575L156.5 574.4L137 555.7L129.5 549.1L123.5 544.4L117.5 540.4L113 538.1L108.5 536.8L105.5 536.5L102.5 536.8L98 538.1L93.5 540.4L87.5 544.4L81.5 549.1L74 555.7L54.5 574.4L53 575L26 575ZM26 575L56 575L75.5 556.7L87.5 546.7L93.5 542.7L98 540.4L102.5 539.1L105.5 538.9L108.5 539.1L113 540.4L117.5 542.7L123.5 546.7L135.5 556.7L155 575L185 575L153.5 575L152 574.6L134 557.6L128 552.5L122 547.9L117.5 545L113 542.7L108.5 541.4L105.5 541.1L102.5 541.4L98 542.7L93.5 545L89 547.9L83 552.5L77 557.6L59 574.6L57.5 575L26 575ZM26 575L60.5 575L62 574L78.5 558.6L89 550.2L93.5 547.3L98 545L102.5 543.7L105.5 543.5L108.5 543.7L113 545L117.5 547.3L122 550.2L132.5 558.6L149 574L150.5 575L185 575L147.5 574.8L132.5 560.9L122 552.5L117.5 549.6L113 547.3L108.5 546L105.5 545.8L102.5 546L98 547.3L93.5 549.6L89 552.5L78.5 560.9L63.5 574.8L26 575ZM26 575L65 575L66.5 574.3L81.5 560.6L90.5 553.8L95 551L98 549.6L102.5 548.3L105.5 548L108.5 548.3L113 549.6L116 551L120.5 553.8L129.5 560.6L144.5 574.3L146 575L185 575L143 575L129.5 563L120.5 556.1L116 553.3L113 551.9L108.5 550.6L105.5 550.4L102.5 550.6L98 551.9L95 553.3L90.5 556.1L81.5 563L68 575L26 575ZM26 575L69.5 575L71 574.6L83 564L92 557.4L96.5 554.9L99.5 553.7L102.5 552.9L105.5 552.6L108.5 552.9L111.5 553.7L114.5 554.9L119 557.4L128 564L140 574.6L141.5 575L185 575L138.5 575L137 574.1L126.5 565.1L119 559.7L114.5 557.2L111.5 556L108.5 555.2L105.5 555L102.5 555.2L99.5 556L96.5 557.2L92 559.7L84.5 565.1L74 574.1L72.5 575L26 575ZM26 575L75.5 575L86 566.2L93.5 561.1L99.5 558.3L102.5 557.5L105.5 557.2L108.5 557.5L111.5 558.3L117.5 561.1L125 566.2L135.5 575L185 575L134 575L132.5 574.7L123.5 567.4L117.5 563.4L111.5 560.6L108.5 559.8L105.5 559.5L102.5 559.8L99.5 560.6L93.5 563.4L87.5 567.4L78.5 574.7L77 575L26 575ZM26 575L80 575L81.5 574.5L89 568.6L95 564.8L101 562.4L105.5 561.9L110 562.4L116 564.8L122 568.6L129.5 574.5L131 575L185 575L128 575L126.5 574.3L119 568.9L114.5 566.4L110 564.7L105.5 564.1L101 564.7L96.5 566.4L92 568.9L84.5 574.3L83 575L26 575ZM26 575L86 575L96.5 568.7L101 567L105.5 566.5L110 567L114.5 568.7L125 575L185 575L122 575L120.5 574.5L116 571.7L113 570.3L108.5 569L105.5 568.8L102.5 569L98 570.3L95 571.7L90.5 574.5L89 575L26 575ZM26 575L92 575L93.5 574.9L98 572.6L101 571.6L105.5 571L110 571.6L113 572.6L117.5 574.9L119 575L185 575L114.5 575L113 574.9L108.5 573.6L105.5 573.3L102.5 573.6L98 574.9L96.5 575L26 575Z" mask="url(#secmA)"/><path d="M33.2 518L41.2 529L48.2 541L57.2 558L67.2 576" stroke="#000" stroke-width="3.5" fill="none"/><path d="M30 518L38 529L45 541L54 558L64 576" stroke="#fff" stroke-width="2.2" fill="none"/><path d="M123.4 573.4L153.4 552.4L183.4 530.4" stroke="#000" stroke-width="3.5" fill="none"/><path d="M126 576L156 555L186 533" stroke="#fff" stroke-width="2.2" fill="none"/></g>
<g filter="url(#aA)"><rect x="20" y="844" width="171" height="6" fill="url(#Aar0)"/><rect x="20" y="850" width="171" height="12.5" fill="url(#Aar0)"/><rect x="20" y="850" width="171" height="12.5" fill="url(#Aar1)" mask="url(#vmask)"/><rect x="20" y="862.5" width="171" height="25" fill="url(#Aar1)"/><rect x="20" y="862.5" width="171" height="25" fill="url(#Aar2)" mask="url(#vmask)"/><rect x="20" y="887.5" width="171" height="25" fill="url(#Aar2)"/><rect x="20" y="887.5" width="171" height="25" fill="url(#Aar3)" mask="url(#vmask)"/><rect x="20" y="912.5" width="171" height="25" fill="url(#Aar3)"/><rect x="20" y="912.5" width="171" height="25" fill="url(#Aar4)" mask="url(#vmask)"/><rect x="20" y="937.5" width="171" height="25" fill="url(#Aar4)"/><rect x="20" y="937.5" width="171" height="25" fill="url(#Aar5)" mask="url(#vmask)"/><rect x="20" y="962.5" width="171" height="19.5" fill="url(#Aar5)"/><rect x="20" y="962.5" width="171" height="19.5" fill="url(#Aar6)" mask="url(#vmask)"/><rect x="20" y="982" width="171" height="10" fill="url(#Aar6)"/><rect x="20" y="982" width="171" height="10" fill="url(#Aar7)" mask="url(#vmask)"/><rect x="20" y="992" width="171" height="6" fill="url(#Aar7)"/></g>
</g></g>
<g clip-path="url(#cB)"><g filter="url(#fB)">
<g filter="url(#mB)"><rect x="314" y="4" width="171" height="6" fill="url(#Bmr0)"/><rect x="314" y="10" width="171" height="25" fill="url(#Bmr0)"/><rect x="314" y="10" width="171" height="25" fill="url(#Bmr1)" mask="url(#vmask)"/><rect x="314" y="35" width="171" height="50" fill="url(#Bmr1)"/><rect x="314" y="35" width="171" height="50" fill="url(#Bmr2)" mask="url(#vmask)"/><rect x="314" y="85" width="171" height="35" fill="url(#Bmr2)"/><rect x="314" y="85" width="171" height="35" fill="url(#Bmr3)" mask="url(#vmask)"/><rect x="314" y="120" width="171" height="25" fill="url(#Bmr3)"/><rect x="314" y="120" width="171" height="25" fill="url(#Bmr4)" mask="url(#vmask)"/><rect x="314" y="145" width="171" height="7" fill="url(#Bmr4)"/><rect x="314" y="145" width="171" height="7" fill="url(#Bmr5)" mask="url(#vmask)"/><rect x="314" y="152" width="171" height="6" fill="url(#Bmr5)"/></g>
<g filter="url(#sB)"><rect x="310" y="420" width="179" height="162" fill="#1a1a1a"/><path fill="#fff" fill-opacity=".65" d="M320 427L389 427L390.5 427.4L395 429.3L399.5 430L404 429.3L408.5 427.4L410 427L479 427L411.5 427L410 427.3L404 430L399.5 430.8L395 430L389 427.3L387.5 427L320 427ZM320 427L386 427L393.5 431L396.5 432L399.5 432.3L402.5 432L405.5 431L413 427L479 427L416 427L414.5 427.3L410 430.3L405.5 432.6L402.5 433.5L399.5 433.8L396.5 433.5L393.5 432.6L389 430.3L384.5 427.3L383 427L320 427ZM320 427L381.5 427L392 433.5L396.5 435L399.5 435.4L402.5 435L407 433.5L417.5 427L479 427L419 427L413 431.5L408.5 434.3L404 436.2L399.5 436.9L395 436.2L390.5 434.3L386 431.5L380 427L320 427ZM320 427L377 427L378.5 427.3L384.5 432L390.5 435.9L395 437.8L399.5 438.5L404 437.8L408.5 435.9L414.5 432L420.5 427.3L422 427L479 427L423.5 427L422 427.6L414.5 433.6L408.5 437.5L404 439.4L399.5 440.1L395 439.4L390.5 437.5L384.5 433.6L377 427.6L375.5 427L320 427ZM320 427L374 427L383 434.1L389 438.3L395 441.1L399.5 441.8L404 441.1L410 438.3L416 434.1L425 427L479 427L426.5 427L417.5 434.6L410 439.9L404 442.7L399.5 443.4L395 442.7L389 439.9L381.5 434.6L372.5 427L320 427ZM320 427L369.5 427L371 427.4L381.5 436.3L389 441.6L395 444.4L399.5 445.1L404 444.4L410 441.6L417.5 436.3L428 427.4L429.5 427L479 427L431 427L429.5 427.7L419 436.8L411.5 442.4L405.5 445.6L402.5 446.5L399.5 446.8L396.5 446.5L393.5 445.6L387.5 442.4L380 436.8L369.5 427.7L368 427L320 427ZM320 427L366.5 427L380 438.5L387.5 444.1L393.5 447.3L396.5 448.2L399.5 448.5L402.5 448.2L405.5 447.3L411.5 444.1L419 438.5L432.5 427L479 427L434 427.1L422 437.8L413 444.8L408.5 447.6L405.5 449.1L402.5 450L399.5 450.3L396.5 450L393.5 449.1L390.5 447.6L386 444.8L377 437.8L365 427.1L320 427ZM320 427L362 427L363.5 427.4L377 439.6L386 446.6L390.5 449.4L393.5 450.8L396.5 451.7L399.5 452.1L402.5 451.7L405.5 450.8L408.5 449.4L413 446.6L422 439.6L435.5 427.4L437 427L479 427L438.5 427L437 427.8L420.5 442.6L413 448.4L408.5 451.2L405.5 452.6L402.5 453.5L399.5 453.8L396.5 453.5L393.5 452.6L390.5 451.2L386 448.4L378.5 442.6L362 427.8L360.5 427L320 427ZM320 427L359 427L375.5 441.9L386 450.2L390.5 453L393.5 454.4L396.5 455.3L399.5 455.7L402.5 455.3L405.5 454.4L408.5 453L413 450.2L423.5 441.9L440 427L479 427L443 427L441.5 427.2L425 442.4L414.5 451L410 454L407 455.6L402.5 457.2L399.5 457.5L396.5 457.2L392 455.6L389 454L384.5 451L374 442.4L357.5 427.2L356 427L320 427ZM320 427L354.5 427L356 427.7L372.5 442.9L384.5 452.8L389 455.8L392 457.5L396.5 459L399.5 459.3L402.5 459L407 457.5L410 455.8L414.5 452.8L426.5 442.9L443 427.7L444.5 427L479 427L446 427L425 446.1L414.5 454.7L410 457.7L407 459.3L402.5 460.9L399.5 461.2L396.5 460.9L392 459.3L389 457.7L384.5 454.7L374 446.1L353 427L320 427ZM320 427L351.5 427.1L371 445.4L383 455.5L387.5 458.7L392 461.3L396.5 462.8L399.5 463.1L402.5 462.8L407 461.3L411.5 458.7L416 455.5L428 445.4L447.5 427.1L479 427L450.5 427L449 427.6L429.5 446L416 457.4L411.5 460.6L407 463.2L402.5 464.7L399.5 465.1L396.5 464.7L392 463.2L387.5 460.6L383 457.4L369.5 446L350 427.6L348.5 427L320 427ZM320 427L347 427L371 449.3L383 459.4L387.5 462.6L392 465.1L396.5 466.7L399.5 467L402.5 466.7L407 465.1L411.5 462.6L416 459.4L428 449.3L452 427L479 427L455 427L453.5 427.2L431 448.5L422 456.5L416 461.4L411.5 464.6L407 467.1L402.5 468.7L399.5 469L396.5 468.7L392 467.1L387.5 464.6L383 461.4L377 456.5L368 448.5L345.5 427.2L344 427L320 427ZM320 427L342.5 427L344 427.8L366.5 449.2L381.5 462.2L387.5 466.6L392 469.1L396.5 470.7L399.5 471L402.5 470.7L407 469.1L411.5 466.6L417.5 462.2L432.5 449.2L455 427.8L456.5 427L479 427L458 427L432.5 451.2L417.5 464.2L411.5 468.6L407 471.2L402.5 472.7L399.5 473L396.5 472.7L392 471.2L387.5 468.6L381.5 464.2L366.5 451.2L341 427L320 427ZM320 427L338 427L339.5 427.5L365 451.9L374 460L381.5 466.3L387.5 470.6L392 473.2L396.5 474.8L399.5 475.1L402.5 474.8L407 473.2L411.5 470.6L417.5 466.3L425 460L434 451.9L459.5 427.5L461 427L479 427L462.5 427L461 428.1L432.5 455.3L417.5 468.4L411.5 472.7L407 475.3L402.5 476.9L399.5 477.2L396.5 476.9L392 475.3L387.5 472.7L381.5 468.4L366.5 455.3L338 428.1L336.5 427L320 427ZM320 427L333.5 427L335 427.3L363.5 454.7L380 469.3L386 473.8L390.5 476.6L395 478.6L399.5 479.3L404 478.6L408.5 476.6L413 473.8L419 469.3L435.5 454.7L464 427.3L465.5 427L479 427L467 427L465.5 427.9L437 455.4L419 471.4L413 476L408.5 478.8L404 480.7L399.5 481.4L395 480.7L390.5 478.8L386 476L380 471.4L362 455.4L333.5 427.9L332 427L320 427ZM320 427L330.5 427.2L362 457.5L380 473.6L386 478.1L390.5 480.9L395 482.9L399.5 483.6L404 482.9L408.5 480.9L413 478.1L419 473.6L437 457.5L468.5 427.2L479 427L471.5 427L470 427.9L437 459.7L419 475.8L413 480.3L408.5 483.1L404 485.1L399.5 485.8L395 485.1L390.5 483.1L386 480.3L380 475.8L362 459.7L329 427.9L327.5 427L320 427ZM320 427L326 427.2L363.5 463.4L374 472.9L383 480.3L387.5 483.5L392 486.1L396.5 487.7L399.5 488L402.5 487.7L407 486.1L411.5 483.5L416 480.3L425 472.9L435.5 463.4L473 427.2L479 427L476 427L474.5 427.9L437 464.2L426.5 473.8L417.5 481.4L411.5 485.8L407 488.4L402.5 489.9L399.5 490.2L396.5 489.9L392 488.4L387.5 485.8L381.5 481.4L372.5 473.8L362 464.2L324.5 427.9L323 427L320 427ZM320 427L321.5 427.3L357.5 462.2L369.5 473.4L378.5 481.3L384.5 486L390.5 489.9L395 491.8L399.5 492.5L404 491.8L408.5 489.9L414.5 486L420.5 481.3L429.5 473.4L441.5 462.2L477.5 427.3L479 427L479 428.1L441.5 464.5L429.5 475.7L420.5 483.6L414.5 488.3L408.5 492.2L404 494.1L399.5 494.8L395 494.1L390.5 492.2L384.5 488.3L378.5 483.6L369.5 475.7L357.5 464.5L320 428.1ZM320 430.4L357.5 466.9L369.5 478L378.5 485.9L384.5 490.6L390.5 494.5L395 496.4L399.5 497.1L404 496.4L408.5 494.5L414.5 490.6L420.5 485.9L429.5 478L441.5 466.9L479 430.4L479 432.8L441.5 469.2L429.5 480.4L420.5 488.3L414.5 493L408.5 496.9L404 498.8L399.5 499.5L395 498.8L390.5 496.9L384.5 493L378.5 488.3L369.5 480.4L357.5 469.2L320 432.8ZM320 435.2L357.5 471.6L369.5 482.8L378.5 490.7L384.5 495.4L390.5 499.3L395 501.2L399.5 501.9L404 501.2L408.5 499.3L414.5 495.4L420.5 490.7L429.5 482.8L441.5 471.6L479 435.2L479 437.6L441.5 474.1L429.5 485.2L420.5 493.1L414.5 497.8L408.5 501.7L404 503.6L399.5 504.3L395 503.6L390.5 501.7L384.5 497.8L378.5 493.1L369.5 485.2L357.5 474.1L320 437.6ZM320 440.1L357.5 476.5L369.5 487.7L378.5 495.5L384.5 500.3L390.5 504.1L395 506.1L399.5 506.8L404 506.1L408.5 504.1L414.5 500.3L420.5 495.5L429.5 487.7L441.5 476.5L479 440.1L479 442.5L441.5 479L429.5 490.2L420.5 498L414.5 502.7L408.5 506.6L404 508.6L399.5 509.3L395 508.6L390.5 506.6L384.5 502.7L378.5 498L369.5 490.2L357.5 479L320 442.5ZM320 445.1L357.5 481.5L369.5 492.7L378.5 500.5L384.5 505.3L390.5 509.1L395 511.1L399.5 511.8L404 511.1L408.5 509.1L414.5 505.3L420.5 500.5L429.5 492.7L441.5 481.5L479 445.1L479 447.6L441.5 484.1L429.5 495.2L420.5 503.1L414.5 507.8L408.5 511.7L404 513.6L399.5 514.3L395 513.6L390.5 511.7L384.5 507.8L378.5 503.1L369.5 495.2L357.5 484.1L320 447.6ZM320 450.2L357.5 486.6L369.5 497.8L378.5 505.7L384.5 510.4L390.5 514.3L395 516.2L399.5 516.9L404 516.2L408.5 514.3L414.5 510.4L420.5 505.7L429.5 497.8L441.5 486.6L479 450.2L479 452.8L441.5 489.3L429.5 500.4L420.5 508.3L414.5 513L408.5 516.9L404 518.8L399.5 519.5L395 518.8L390.5 516.9L384.5 513L378.5 508.3L369.5 500.4L357.5 489.3L320 452.8ZM320 455.5L357.5 491.9L369.5 503.1L378.5 510.9L384.5 515.7L390.5 519.5L395 521.5L399.5 522.2L404 521.5L408.5 519.5L414.5 515.7L420.5 510.9L429.5 503.1L441.5 491.9L479 455.5L479 458.1L441.5 494.6L429.5 505.8L420.5 513.6L414.5 518.3L408.5 522.2L404 524.2L399.5 524.9L395 524.2L390.5 522.2L384.5 518.3L378.5 513.6L369.5 505.8L357.5 494.6L320 458.1ZM320 460.9L357.5 497.3L369.5 508.5L378.5 516.3L384.5 521.1L390.5 524.9L395 526.9L399.5 527.6L404 526.9L408.5 524.9L414.5 521.1L420.5 516.3L429.5 508.5L441.5 497.3L479 460.9L479 463.6L441.5 500.1L429.5 511.2L420.5 519.1L414.5 523.8L408.5 527.7L404 529.6L399.5 530.3L395 529.6L390.5 527.7L384.5 523.8L378.5 519.1L369.5 511.2L357.5 500.1L320 463.6ZM320 466.4L357.5 502.8L369.5 514L378.5 521.9L384.5 526.6L390.5 530.5L395 532.4L399.5 533.1L404 532.4L408.5 530.5L414.5 526.6L420.5 521.9L429.5 514L441.5 502.8L479 466.4L479 469.2L441.5 505.7L429.5 516.8L420.5 524.7L414.5 529.4L408.5 533.3L404 535.2L399.5 535.9L395 535.2L390.5 533.3L384.5 529.4L378.5 524.7L369.5 516.8L357.5 505.7L320 469.2ZM320 472.1L357.5 508.5L369.5 519.7L378.5 527.6L384.5 532.3L390.5 536.1L395 538.1L399.5 538.8L404 538.1L408.5 536.1L414.5 532.3L420.5 527.6L429.5 519.7L441.5 508.5L479 472.1L479 475L441.5 511.4L429.5 522.6L420.5 530.4L414.5 535.2L408.5 539L404 541L399.5 541.7L395 541L390.5 539L384.5 535.2L378.5 530.4L369.5 522.6L357.5 511.4L320 475ZM320 477.9L357.5 514.3L369.5 525.5L378.5 533.4L384.5 538.1L390.5 542L395 543.9L399.5 544.6L404 543.9L408.5 542L414.5 538.1L420.5 533.4L429.5 525.5L441.5 514.3L479 477.9L479 480.9L441.5 517.3L429.5 528.5L420.5 536.3L414.5 541.1L408.5 544.9L404 546.9L399.5 547.6L395 546.9L390.5 544.9L384.5 541.1L378.5 536.3L369.5 528.5L357.5 517.3L320 480.9ZM320 483.9L357.5 520.3L369.5 531.5L378.5 539.3L384.5 544.1L390.5 547.9L395 549.9L399.5 550.6L404 549.9L408.5 547.9L414.5 544.1L420.5 539.3L429.5 531.5L441.5 520.3L479 483.9L479 486.9L441.5 523.4L429.5 534.5L420.5 542.4L414.5 547.1L408.5 551L404 552.9L399.5 553.6L395 552.9L390.5 551L384.5 547.1L378.5 542.4L369.5 534.5L357.5 523.4L320 486.9ZM320 490L357.5 526.4L369.5 537.6L378.5 545.5L384.5 550.2L390.5 554.1L395 556L399.5 556.7L404 556L408.5 554.1L414.5 550.2L420.5 545.5L429.5 537.6L441.5 526.4L479 490L479 493.1L441.5 529.6L429.5 540.7L420.5 548.6L414.5 553.3L408.5 557.2L404 559.1L399.5 559.8L395 559.1L390.5 557.2L384.5 553.3L378.5 548.6L369.5 540.7L357.5 529.6L320 493.1ZM320 496.3L357.5 532.7L369.5 543.9L378.5 551.8L384.5 556.5L390.5 560.4L395 562.3L399.5 563L404 562.3L408.5 560.4L414.5 556.5L420.5 551.8L429.5 543.9L441.5 532.7L479 496.3L479 499.5L441.5 535.9L429.5 547.1L420.5 555L414.5 559.7L408.5 563.6L404 565.5L399.5 566.2L395 565.5L390.5 563.6L384.5 559.7L378.5 555L369.5 547.1L357.5 535.9L320 499.5ZM320 502.7L357.5 539.2L369.5 550.3L378.5 558.2L384.5 562.9L390.5 566.8L395 568.7L399.5 569.4L404 568.7L408.5 566.8L414.5 562.9L420.5 558.2L429.5 550.3L441.5 539.2L479 502.7L479 506L441.5 542.5L429.5 553.6L420.5 561.5L414.5 566.2L408.5 570.1L404 572L399.5 572.7L395 572L390.5 570.1L384.5 566.2L378.5 561.5L369.5 553.6L357.5 542.5L320 506ZM320 509.3L354.5 542.9L374 561L381.5 567.3L387.5 571.6L392 574.2L393.5 574.8L395 575L405.5 574.8L411.5 571.6L417.5 567.3L426.5 559.6L438.5 548.6L479 509.3L479 512.7L449 542L429.5 560.3L416 571.8L411.5 575L410 575L387.5 575L386 574L377 566.9L365 556.2L347 539.1L320 512.7ZM320 516.1L362 556.8L375.5 569L383 575L416 575L423.5 569L437 556.8L479 516.1L479 519.6L441.5 556L429.5 567.2L420.5 575L378.5 575L369.5 567.2L357.5 556L320 519.6ZM320 523.1L362 563.8L374 574.7L375.5 575L423.5 575L425 574.7L444.5 556.7L479 523.1L479 526.6L441.5 563.1L429.5 574.2L428 575L371 575L369.5 574.2L357.5 563.1L320 526.6ZM320 530.2L348.5 558L366.5 575L432.5 575L450.5 558L479 530.2L479 533.8L440 571.7L437 574.5L435.5 575L363.5 575L362 574.5L320 533.8ZM320 537.5L350 566.8L357.5 574L359 575L440 575L441.5 574L449 566.8L479 537.5L479 541.2L444.5 574.8L443 575L354.5 574.8L320 541.2ZM320 545L350 574.3L351.5 575L447.5 575L449 574.3L479 545L479 548.8L452 575L347 575L320 548.8ZM320 552.7L342.5 574.7L344 575L455 575L456.5 574.7L479 552.7L479 556.6L461 574.3L459.5 575L339.5 575L338 574.3L320 556.6ZM320 560.6L333.5 573.9L335 575L464 575L465.5 573.9L479 560.6L479 564.6L468.5 574.9L467 575L330.5 574.9L320 564.6ZM320 568.7L326 574.6L327.5 575L471.5 575L473 574.6L479 568.7L479 572.8L477.5 574.3L476 575L323 575L321.5 574.3L320 572.8Z"/><path fill="#fff" fill-opacity=".3" d="M320 428L321.5 427L477.5 427L479 428L479 429.5L476 427L323 427L320 429.5ZM320 431L323 428L324.5 427L474.5 427L476 428L479 431L479 432.5L474.5 428L473 427L326 427L324.5 428L320 432.5ZM320 434L326 428.1L327.5 427L471.5 427L473 428.1L479 434L479 435.5L471.5 428.1L470 427L329 427L327.5 428.1L320 435.5ZM320 437L329 428.1L330.5 427L468.5 427L470 428.1L479 437L479 438.5L468.5 428.2L467 427L332 427L330.5 428.2L320 438.5ZM320 440L333.5 427L465.5 427L479 440L479 441.5L464 427L335 427L320 441.5ZM320 443L336.5 427L462.5 427L479 443L479 444.5L461 427L338 427L320 444.5ZM320 446L339.5 427L459.5 427L479 446L479 447.5L458 427L341 427L320 447.5ZM320 449L342.5 427L456.5 427L479 449L479 450.5L455 427L344 427L320 450.5ZM320 452L345.5 427L347 427L453.5 427L479 452L479 453.5L452 427.1L450.5 427L347 427.1L320 453.5ZM320 455L348.5 427.1L350 427L450.5 427.1L479 455L479 456.5L449 427.2L447.5 427L350 427.2L320 456.5ZM320 458L351.5 427.2L353 427L446 427L447.5 427.2L479 458L479 459.5L446 427.3L444.5 427L354.5 427L353 427.3L320 459.5ZM320 461L354.5 427.4L356 427L443 427L444.5 427.4L479 461L479 462.5L443 427.4L441.5 427L357.5 427L356 427.4L320 462.5ZM320 464L357.5 427.5L359 427L440 427L441.5 427.5L479 464L479 465.5L441.5 429L440 427.6L438.5 427L360.5 427L359 427.6L357.5 429L320 465.5ZM320 467L356 431.9L360.5 427.7L362 427L437 427L438.5 427.7L443 431.9L479 467L479 468.5L444.5 434.9L437 427.8L435.5 427L363.5 427L362 427.8L354.5 434.9L320 468.5ZM320 470L354.5 436.4L363.5 427.9L365 427L434 427L435.5 427.9L444.5 436.4L479 470L479 471.5L446 439.3L434 428L432.5 427L366.5 427L365 428L353 439.3L320 471.5ZM320 473L353 440.8L366.5 428.1L368 427L431 427L432.5 428.1L446 440.8L479 473L479 474.5L447.5 443.7L429.5 427L369.5 427L351.5 443.7L320 474.5ZM320 476L363.5 433.9L371 427L372.5 427L428 427L447.5 445.2L479 476L479 477.5L437 436.8L426.5 427.2L425 427L372.5 427.2L353 445.3L320 477.5ZM320 479L362 438.3L374 427.3L375.5 427L423.5 427L425 427.3L444.5 445.4L479 479L479 480.5L437 439.8L423.5 427.5L422 427L377 427L375.5 427.5L354.5 446.9L320 480.5ZM320 482L360.5 442.7L374 430.3L377 427.7L378.5 427L420.5 427L422 427.7L443 446.9L479 482L479 483.5L438.5 444.2L425 431.8L419 427L380 427L374 431.8L360.5 444.2L320 483.5ZM320 485L348.5 457.1L366.5 440.1L381.5 427.1L383 427L417.5 427.1L426.5 434.7L438.5 445.7L479 485L479 486.5L450.5 458.6L432.5 441.6L419 429.8L416 427.4L414.5 427L384.5 427L383 427.4L374 434.8L362 445.8L320 486.5ZM320 488L347 461.6L365 444.5L378.5 432.5L384.5 427.8L386 427L413 427L414.5 427.8L423.5 435L435.5 445.9L479 488L479 489.5L449 460.2L429.5 441.9L416 430.4L411.5 427.2L410 427L389 427L387.5 427.2L386 428.2L377 435.2L365 446L347 463.1L320 489.5ZM320 491L350 461.7L369.5 443.4L381.5 433.1L387.5 428.7L390.5 427L408.5 427L414.5 430.8L423.5 438L435.5 448.9L479 491L479 492.5L446 460.3L426.5 442.2L414.5 432.3L410 429.2L405.5 427L393.5 427L389 429.2L383 433.4L374 440.8L362 451.8L320 492.5ZM320 494L357.5 457.5L369.5 446.4L378.5 438.5L384.5 433.8L390.5 429.9L395 428L399.5 427.2L404 428L408.5 429.9L414.5 433.8L420.5 438.5L429.5 446.4L441.5 457.5L479 494L479 495.5L441.5 459L429.5 447.9L420.5 440L414.5 435.3L408.5 431.4L404 429.5L399.5 428.7L395 429.5L390.5 431.4L384.5 435.3L378.5 440L369.5 447.9L357.5 459L320 495.5ZM320 497L357.5 460.5L369.5 449.4L378.5 441.5L384.5 436.8L390.5 432.9L395 431L399.5 430.3L404 431L408.5 432.9L414.5 436.8L420.5 441.5L429.5 449.4L441.5 460.5L479 497L479 498.5L441.5 462L429.5 450.9L420.5 443L414.5 438.3L408.5 434.4L404 432.5L399.5 431.8L395 432.5L390.5 434.4L384.5 438.3L378.5 443L369.5 450.9L357.5 462L320 498.5ZM320 500L357.5 463.6L369.5 452.4L378.5 444.5L384.5 439.8L390.5 435.9L395 434L399.5 433.3L404 434L408.5 435.9L414.5 439.8L420.5 444.5L429.5 452.4L441.5 463.6L479 500L479 501.6L441.5 465.1L429.5 453.9L420.5 446.1L414.5 441.4L408.5 437.5L404 435.5L399.5 434.8L395 435.5L390.5 437.5L384.5 441.4L378.5 446.1L369.5 453.9L357.5 465.1L320 501.6ZM320 503.1L357.5 466.7L369.5 455.5L378.5 447.6L384.5 442.9L390.5 439.1L395 437.1L399.5 436.4L404 437.1L408.5 439.1L414.5 442.9L420.5 447.6L429.5 455.5L441.5 466.7L479 503.1L479 504.7L441.5 468.3L429.5 457.1L420.5 449.2L414.5 444.5L408.5 440.6L404 438.7L399.5 438L395 438.7L390.5 440.6L384.5 444.5L378.5 449.2L369.5 457.1L357.5 468.3L320 504.7ZM320 506.3L357.5 469.9L369.5 458.7L378.5 450.8L384.5 446.1L390.5 442.3L395 440.3L399.5 439.6L404 440.3L408.5 442.3L414.5 446.1L420.5 450.8L429.5 458.7L441.5 469.9L479 506.3L479 508L441.5 471.5L429.5 460.3L420.5 452.5L414.5 447.8L408.5 443.9L404 441.9L399.5 441.2L395 441.9L390.5 443.9L384.5 447.8L378.5 452.5L369.5 460.3L357.5 471.5L320 508ZM320 509.6L357.5 473.2L369.5 462L378.5 454.1L384.5 449.4L390.5 445.5L395 443.6L399.5 442.9L404 443.6L408.5 445.5L414.5 449.4L420.5 454.1L429.5 462L441.5 473.2L479 509.6L479 511.3L441.5 474.8L429.5 463.7L420.5 455.8L414.5 451.1L408.5 447.2L404 445.3L399.5 444.6L395 445.3L390.5 447.2L384.5 451.1L378.5 455.8L369.5 463.7L357.5 474.8L320 511.3ZM320 513L357.5 476.5L369.5 465.4L378.5 457.5L384.5 452.8L390.5 448.9L395 447L399.5 446.3L404 447L408.5 448.9L414.5 452.8L420.5 457.5L429.5 465.4L441.5 476.5L479 513L479 514.7L441.5 478.2L429.5 467.1L420.5 459.2L414.5 454.5L408.5 450.6L404 448.7L399.5 448L395 448.7L390.5 450.6L384.5 454.5L378.5 459.2L369.5 467.1L357.5 478.2L320 514.7ZM320 516.4L357.5 480L369.5 468.8L378.5 460.9L384.5 456.2L390.5 452.3L395 450.4L399.5 449.7L404 450.4L408.5 452.3L414.5 456.2L420.5 460.9L429.5 468.8L441.5 480L479 516.4L479 518.2L441.5 481.7L429.5 470.6L420.5 462.7L414.5 458L408.5 454.1L404 452.2L399.5 451.5L395 452.2L390.5 454.1L384.5 458L378.5 462.7L369.5 470.6L357.5 481.7L320 518.2ZM320 520L357.5 483.5L369.5 472.4L378.5 464.5L384.5 459.8L390.5 455.9L395 454L399.5 453.2L404 454L408.5 455.9L414.5 459.8L420.5 464.5L429.5 472.4L441.5 483.5L479 520L479 521.8L441.5 485.3L429.5 474.2L420.5 466.3L414.5 461.6L408.5 457.7L404 455.8L399.5 455L395 455.8L390.5 457.7L384.5 461.6L378.5 466.3L369.5 474.2L357.5 485.3L320 521.8ZM320 523.6L357.5 487.1L369.5 476L378.5 468.1L384.5 463.4L390.5 459.5L395 457.6L399.5 456.9L404 457.6L408.5 459.5L414.5 463.4L420.5 468.1L429.5 476L441.5 487.1L479 523.6L479 525.4L441.5 489L429.5 477.8L420.5 470L414.5 465.2L408.5 461.4L404 459.4L399.5 458.7L395 459.4L390.5 461.4L384.5 465.2L378.5 470L369.5 477.8L357.5 489L320 525.4ZM320 527.3L357.5 490.9L369.5 479.7L378.5 471.8L384.5 467.1L390.5 463.2L395 461.3L399.5 460.6L404 461.3L408.5 463.2L414.5 467.1L420.5 471.8L429.5 479.7L441.5 490.9L479 527.3L479 529.2L441.5 492.8L429.5 481.6L420.5 473.7L414.5 469L408.5 465.1L404 463.2L399.5 462.5L395 463.2L390.5 465.1L384.5 469L378.5 473.7L369.5 481.6L357.5 492.8L320 529.2ZM320 531.1L357.5 494.7L369.5 483.5L378.5 475.7L384.5 470.9L390.5 467.1L395 465.1L399.5 464.4L404 465.1L408.5 467.1L414.5 470.9L420.5 475.7L429.5 483.5L441.5 494.7L479 531.1L479 533.1L441.5 496.6L429.5 485.5L420.5 477.6L414.5 472.9L408.5 469L404 467.1L399.5 466.4L395 467.1L390.5 469L384.5 472.9L378.5 477.6L369.5 485.5L357.5 496.6L320 533.1ZM320 535.1L357.5 498.6L369.5 487.4L378.5 479.6L384.5 474.9L390.5 471L395 469L399.5 468.3L404 469L408.5 471L414.5 474.9L420.5 479.6L429.5 487.4L441.5 498.6L479 535.1L479 537.1L441.5 500.6L429.5 489.4L420.5 481.6L414.5 476.9L408.5 473L404 471L399.5 470.3L395 471L390.5 473L384.5 476.9L378.5 481.6L369.5 489.4L357.5 500.6L320 537.1ZM320 539.1L357.5 502.6L369.5 491.5L378.5 483.6L384.5 478.9L390.5 475L395 473.1L399.5 472.4L404 473.1L408.5 475L414.5 478.9L420.5 483.6L429.5 491.5L441.5 502.6L479 539.1L479 541.1L441.5 504.7L429.5 493.5L420.5 485.6L414.5 480.9L408.5 477L404 475.1L399.5 474.4L395 475.1L390.5 477L384.5 480.9L378.5 485.6L369.5 493.5L357.5 504.7L320 541.1ZM320 543.2L357.5 506.7L369.5 495.6L378.5 487.7L384.5 483L390.5 479.1L395 477.2L399.5 476.5L404 477.2L408.5 479.1L414.5 483L420.5 487.7L429.5 495.6L441.5 506.7L479 543.2L479 545.3L441.5 508.8L429.5 497.7L420.5 489.8L414.5 485.1L408.5 481.2L404 479.3L399.5 478.6L395 479.3L390.5 481.2L384.5 485.1L378.5 489.8L369.5 497.7L357.5 508.8L320 545.3ZM320 547.4L357.5 511L369.5 499.8L378.5 491.9L384.5 487.2L390.5 483.3L395 481.4L399.5 480.7L404 481.4L408.5 483.3L414.5 487.2L420.5 491.9L429.5 499.8L441.5 511L479 547.4L479 549.6L441.5 513.1L429.5 502L420.5 494.1L414.5 489.4L408.5 485.5L404 483.6L399.5 482.9L395 483.6L390.5 485.5L384.5 489.4L378.5 494.1L369.5 502L357.5 513.1L320 549.6ZM320 551.8L357.5 515.3L369.5 504.1L378.5 496.3L384.5 491.6L390.5 487.7L395 485.7L399.5 485L404 485.7L408.5 487.7L414.5 491.6L420.5 496.3L429.5 504.1L441.5 515.3L479 551.8L479 554L441.5 517.5L429.5 506.3L420.5 498.5L414.5 493.8L408.5 489.9L404 487.9L399.5 487.2L395 487.9L390.5 489.9L384.5 493.8L378.5 498.5L369.5 506.3L357.5 517.5L320 554ZM320 556.2L357.5 519.8L369.5 508.6L378.5 500.7L384.5 496L390.5 492.1L395 490.2L399.5 489.5L404 490.2L408.5 492.1L414.5 496L420.5 500.7L429.5 508.6L441.5 519.8L479 556.2L479 558.5L441.5 522L429.5 510.9L420.5 503L414.5 498.3L408.5 494.4L404 492.5L399.5 491.7L395 492.5L390.5 494.4L384.5 498.3L378.5 503L369.5 510.9L357.5 522L320 558.5ZM320 560.8L357.5 524.3L369.5 513.1L378.5 505.3L384.5 500.6L390.5 496.7L395 494.7L399.5 494L404 494.7L408.5 496.7L414.5 500.6L420.5 505.3L429.5 513.1L441.5 524.3L479 560.8L479 563.1L441.5 526.6L429.5 515.5L420.5 507.6L414.5 502.9L408.5 499L404 497.1L399.5 496.4L395 497.1L390.5 499L384.5 502.9L378.5 507.6L369.5 515.5L357.5 526.6L320 563.1ZM320 565.4L357.5 529L369.5 517.8L378.5 510L384.5 505.2L390.5 501.4L395 499.4L399.5 498.7L404 499.4L408.5 501.4L414.5 505.2L420.5 510L429.5 517.8L441.5 529L479 565.4L479 567.8L441.5 531.4L429.5 520.2L420.5 512.3L414.5 507.6L408.5 503.7L404 501.8L399.5 501.1L395 501.8L390.5 503.7L384.5 507.6L378.5 512.3L369.5 520.2L357.5 531.4L320 567.8ZM320 570.2L357.5 533.8L369.5 522.6L378.5 514.8L384.5 510L390.5 506.2L395 504.2L399.5 503.5L404 504.2L408.5 506.2L414.5 510L420.5 514.8L429.5 522.6L441.5 533.8L479 570.2L479 572.7L441.5 536.2L429.5 525.1L420.5 517.2L414.5 512.5L408.5 508.6L404 506.7L399.5 506L395 506.7L390.5 508.6L384.5 512.5L378.5 517.2L369.5 525.1L357.5 536.2L320 572.7ZM320 575L359 537.3L378.5 519.7L384.5 515L390.5 511.1L395 509.1L399.5 508.4L404 509.1L408.5 511.1L414.5 515L420.5 519.7L440 537.3L479 575L476 574.7L440 539.8L428 528.7L419 520.9L413 516.4L408.5 513.6L404 511.6L399.5 510.9L395 511.6L390.5 513.6L386 516.4L380 520.9L371 528.7L359 539.8L323 574.7L320 575ZM320 575L324.5 575L326 574.3L363.5 538.1L374 528.6L383 521.1L387.5 517.9L392 515.4L396.5 513.8L399.5 513.5L402.5 513.8L407 515.4L411.5 517.9L416 521.1L425 528.6L435.5 538.1L473 574.3L474.5 575L479 575L471.5 575L470 573.9L437 542.1L419 526.1L413 521.5L408.5 518.7L404 516.8L399.5 516.1L395 516.8L390.5 518.7L386 521.5L380 526.1L362 542.1L329 573.9L327.5 575L320 575ZM320 575L330.5 575L362 544.7L380 528.7L386 524.1L390.5 521.3L395 519.4L399.5 518.7L404 519.4L408.5 521.3L413 524.1L419 528.7L437 544.7L468.5 575L479 575L467 575L465.5 574.8L437 547.3L419 531.3L413 526.7L408.5 523.9L404 522L399.5 521.3L395 522L390.5 523.9L386 526.7L380 531.3L362 547.3L333.5 574.8L332 575L320 575ZM320 575L335 575L336.5 574.5L363.5 548.6L380 534L386 529.4L390.5 526.6L395 524.7L399.5 524L404 524.7L408.5 526.6L413 529.4L419 534L435.5 548.6L462.5 574.5L464 575L479 575L461 575L459.5 574.3L434 549.9L425 541.8L417.5 535.5L411.5 531.1L407 528.5L402.5 527L399.5 526.7L396.5 527L392 528.5L387.5 531.1L381.5 535.5L374 541.8L365 549.9L339.5 574.3L338 575L320 575ZM320 575L341 575L342.5 574.1L369.5 548.5L381.5 538.2L387.5 533.8L392 531.3L396.5 529.7L399.5 529.4L402.5 529.7L407 531.3L411.5 533.8L417.5 538.2L429.5 548.5L456.5 574.1L458 575L479 575L455 575L453.5 574L429.5 551.3L416 539.8L411.5 536.6L407 534.1L402.5 532.5L399.5 532.2L396.5 532.5L392 534.1L387.5 536.6L383 539.8L369.5 551.3L345.5 574L344 575L320 575ZM320 575L347 575L371 552.7L383 542.6L387.5 539.4L392 536.9L396.5 535.3L399.5 535L402.5 535.3L407 536.9L411.5 539.4L416 542.6L428 552.7L452 575L479 575L449 575L428 555.6L416 545.5L411.5 542.3L407 539.7L402.5 538.2L399.5 537.8L396.5 538.2L392 539.7L387.5 542.3L383 545.5L371 555.6L350 575L320 575ZM320 575L353 575L374 555.8L384.5 547.2L389 544.2L392 542.6L396.5 541L399.5 540.7L402.5 541L407 542.6L410 544.2L414.5 547.2L425 555.8L446 575L479 575L443 575L425 558.7L414.5 550.2L410 547.1L407 545.5L402.5 544L399.5 543.6L396.5 544L392 545.5L389 547.1L384.5 550.2L374 558.7L356 575L320 575ZM320 575L359 575L360.5 574L377 559.1L386 552L390.5 549.2L393.5 547.8L396.5 546.9L399.5 546.6L402.5 546.9L405.5 547.8L408.5 549.2L413 552L422 559.1L438.5 574L440 575L479 575L437 575L435.5 574.2L422 562.1L413 555L408.5 552.2L405.5 550.8L402.5 549.9L399.5 549.6L396.5 549.9L393.5 550.8L390.5 552.2L386 555L377 562.1L363.5 574.2L362 575L320 575ZM320 575L365 575L366.5 574.5L378.5 563.9L387.5 557.1L393.5 553.8L396.5 552.9L399.5 552.6L402.5 552.9L405.5 553.8L411.5 557.1L420.5 563.9L432.5 574.5L434 575L479 575L431 575L429.5 574.8L419 565.7L411.5 560.1L405.5 556.9L402.5 556L399.5 555.7L396.5 556L393.5 556.9L387.5 560.1L380 565.7L369.5 574.8L368 575L320 575ZM320 575L372.5 575L383 566.4L389 562.3L395 559.5L399.5 558.8L404 559.5L410 562.3L416 566.4L426.5 575L479 575L423.5 575L422 574.4L414.5 568.5L408.5 564.6L404 562.6L399.5 561.9L395 562.6L390.5 564.6L384.5 568.5L377 574.4L375.5 575L320 575ZM320 575L380 575L387.5 569.6L392 567L396.5 565.4L399.5 565.1L402.5 565.4L407 567L411.5 569.6L419 575L479 575L414.5 574.9L410 571.9L407 570.2L402.5 568.7L399.5 568.4L396.5 568.7L392 570.2L389 571.9L384.5 574.9L320 575ZM320 575L389 575L395 572.3L399.5 571.6L404 572.3L410 575L479 575L320 575Z"/></g>
<g filter="url(#aB)"><rect x="314" y="844" width="171" height="6" fill="url(#Bar0)"/><rect x="314" y="850" width="171" height="35" fill="url(#Bar0)"/><rect x="314" y="850" width="171" height="35" fill="url(#Bar1)" mask="url(#vmask)"/><rect x="314" y="885" width="171" height="15" fill="url(#Bar1)"/><rect x="314" y="885" width="171" height="15" fill="url(#Bar2)" mask="url(#vmask)"/><rect x="314" y="900" width="171" height="15" fill="url(#Bar2)"/><rect x="314" y="900" width="171" height="15" fill="url(#Bar3)" mask="url(#vmask)"/><rect x="314" y="915" width="171" height="15" fill="url(#Bar3)"/><rect x="314" y="915" width="171" height="15" fill="url(#Bar4)" mask="url(#vmask)"/><rect x="314" y="930" width="171" height="15" fill="url(#Bar4)"/><rect x="314" y="930" width="171" height="15" fill="url(#Bar5)" mask="url(#vmask)"/><rect x="314" y="945" width="171" height="15" fill="url(#Bar5)"/><rect x="314" y="945" width="171" height="15" fill="url(#Bar6)" mask="url(#vmask)"/><rect x="314" y="960" width="171" height="15" fill="url(#Bar6)"/><rect x="314" y="960" width="171" height="15" fill="url(#Bar7)" mask="url(#vmask)"/><rect x="314" y="975" width="171" height="17" fill="url(#Bar7)"/><rect x="314" y="975" width="171" height="17" fill="url(#Bar8)" mask="url(#vmask)"/><rect x="314" y="992" width="171" height="6" fill="url(#Bar8)"/></g>
</g></g>
<g clip-path="url(#cC)"><g filter="url(#fC)">
<g filter="url(#mC)"><rect x="166.5" y="215" width="169.5" height="6" fill="url(#Cmr0)"/><rect x="166.5" y="221" width="169.5" height="5" fill="url(#Cmr0)"/><rect x="166.5" y="221" width="169.5" height="5" fill="url(#Cmr1)" mask="url(#vmask)"/><rect x="166.5" y="226" width="169.5" height="5" fill="url(#Cmr1)"/><rect x="166.5" y="226" width="169.5" height="5" fill="url(#Cmr2)" mask="url(#vmask)"/><rect x="166.5" y="231" width="169.5" height="5" fill="url(#Cmr2)"/><rect x="166.5" y="231" width="169.5" height="5" fill="url(#Cmr3)" mask="url(#vmask)"/><rect x="166.5" y="236" width="169.5" height="5" fill="url(#Cmr3)"/><rect x="166.5" y="236" width="169.5" height="5" fill="url(#Cmr4)" mask="url(#vmask)"/><rect x="166.5" y="241" width="169.5" height="5" fill="url(#Cmr4)"/><rect x="166.5" y="241" width="169.5" height="5" fill="url(#Cmr5)" mask="url(#vmask)"/><rect x="166.5" y="246" width="169.5" height="5" fill="url(#Cmr5)"/><rect x="166.5" y="246" width="169.5" height="5" fill="url(#Cmr6)" mask="url(#vmask)"/><rect x="166.5" y="251" width="169.5" height="5" fill="url(#Cmr6)"/><rect x="166.5" y="251" width="169.5" height="5" fill="url(#Cmr7)" mask="url(#vmask)"/><rect x="166.5" y="256" width="169.5" height="5" fill="url(#Cmr7)"/><rect x="166.5" y="256" width="169.5" height="5" fill="url(#Cmr8)" mask="url(#vmask)"/><rect x="166.5" y="261" width="169.5" height="5" fill="url(#Cmr8)"/><rect x="166.5" y="261" width="169.5" height="5" fill="url(#Cmr9)" mask="url(#vmask)"/><rect x="166.5" y="266" width="169.5" height="5" fill="url(#Cmr9)"/><rect x="166.5" y="266" width="169.5" height="5" fill="url(#Cmr10)" mask="url(#vmask)"/><rect x="166.5" y="271" width="169.5" height="5" fill="url(#Cmr10)"/><rect x="166.5" y="271" width="169.5" height="5" fill="url(#Cmr11)" mask="url(#vmask)"/><rect x="166.5" y="276" width="169.5" height="3" fill="url(#Cmr11)"/><rect x="166.5" y="276" width="169.5" height="3" fill="url(#Cmr12)" mask="url(#vmask)"/><rect x="166.5" y="279" width="169.5" height="4" fill="url(#Cmr12)"/><rect x="166.5" y="279" width="169.5" height="4" fill="url(#Cmr13)" mask="url(#vmask)"/><rect x="166.5" y="283" width="169.5" height="6" fill="url(#Cmr13)"/><rect x="166.5" y="283" width="169.5" height="6" fill="url(#Cmr14)" mask="url(#vmask)"/><rect x="166.5" y="289" width="169.5" height="7" fill="url(#Cmr14)"/><rect x="166.5" y="289" width="169.5" height="7" fill="url(#Cmr15)" mask="url(#vmask)"/><rect x="166.5" y="296" width="169.5" height="7" fill="url(#Cmr15)"/><rect x="166.5" y="296" width="169.5" height="7" fill="url(#Cmr16)" mask="url(#vmask)"/><rect x="166.5" y="303" width="169.5" height="4.5" fill="url(#Cmr16)"/><rect x="166.5" y="303" width="169.5" height="4.5" fill="url(#Cmr17)" mask="url(#vmask)"/><rect x="166.5" y="307.5" width="169.5" height="1" fill="url(#Cmr17)"/><rect x="166.5" y="307.5" width="169.5" height="1" fill="url(#Cmr18)" mask="url(#vmask)"/><rect x="166.5" y="308.5" width="169.5" height="2.5" fill="url(#Cmr18)"/><rect x="166.5" y="308.5" width="169.5" height="2.5" fill="url(#Cmr19)" mask="url(#vmask)"/><rect x="166.5" y="311" width="169.5" height="1.5" fill="url(#Cmr19)"/><rect x="166.5" y="311" width="169.5" height="1.5" fill="url(#Cmr20)" mask="url(#vmask)"/><rect x="166.5" y="312.5" width="169.5" height="8.5" fill="url(#Cmr20)"/><rect x="166.5" y="312.5" width="169.5" height="8.5" fill="url(#Cmr21)" mask="url(#vmask)"/><rect x="166.5" y="321" width="169.5" height="1.5" fill="url(#Cmr21)"/><rect x="166.5" y="321" width="169.5" height="1.5" fill="url(#Cmr22)" mask="url(#vmask)"/><rect x="166.5" y="322.5" width="169.5" height="2" fill="url(#Cmr22)"/><rect x="166.5" y="322.5" width="169.5" height="2" fill="url(#Cmr23)" mask="url(#vmask)"/><rect x="166.5" y="324.5" width="169.5" height="1.5" fill="url(#Cmr23)"/><rect x="166.5" y="324.5" width="169.5" height="1.5" fill="url(#Cmr24)" mask="url(#vmask)"/><rect x="166.5" y="326" width="169.5" height="3" fill="url(#Cmr24)"/><rect x="166.5" y="326" width="169.5" height="3" fill="url(#Cmr25)" mask="url(#vmask)"/><rect x="166.5" y="329" width="169.5" height="1.5" fill="url(#Cmr25)"/><rect x="166.5" y="329" width="169.5" height="1.5" fill="url(#Cmr26)" mask="url(#vmask)"/><rect x="166.5" y="330.5" width="169.5" height="1.5" fill="url(#Cmr26)"/><rect x="166.5" y="330.5" width="169.5" height="1.5" fill="url(#Cmr27)" mask="url(#vmask)"/><rect x="166.5" y="332" width="169.5" height="4" fill="url(#Cmr27)"/><rect x="166.5" y="332" width="169.5" height="4" fill="url(#Cmr28)" mask="url(#vmask)"/><rect x="166.5" y="336" width="169.5" height="1.5" fill="url(#Cmr28)"/><rect x="166.5" y="336" width="169.5" height="1.5" fill="url(#Cmr29)" mask="url(#vmask)"/><rect x="166.5" y="337.5" width="169.5" height="2" fill="url(#Cmr29)"/><rect x="166.5" y="337.5" width="169.5" height="2" fill="url(#Cmr30)" mask="url(#vmask)"/><rect x="166.5" y="339.5" width="169.5" height="1.5" fill="url(#Cmr30)"/><rect x="166.5" y="339.5" width="169.5" height="1.5" fill="url(#Cmr31)" mask="url(#vmask)"/><rect x="166.5" y="341" width="169.5" height="4" fill="url(#Cmr31)"/><rect x="166.5" y="341" width="169.5" height="4" fill="url(#Cmr32)" mask="url(#vmask)"/><rect x="166.5" y="345" width="169.5" height="1.5" fill="url(#Cmr32)"/><rect x="166.5" y="345" width="169.5" height="1.5" fill="url(#Cmr33)" mask="url(#vmask)"/><rect x="166.5" y="346.5" width="169.5" height="2" fill="url(#Cmr33)"/><rect x="166.5" y="346.5" width="169.5" height="2" fill="url(#Cmr34)" mask="url(#vmask)"/><rect x="166.5" y="348.5" width="169.5" height="1.5" fill="url(#Cmr34)"/><rect x="166.5" y="348.5" width="169.5" height="1.5" fill="url(#Cmr35)" mask="url(#vmask)"/><rect x="166.5" y="350" width="169.5" height="2.5" fill="url(#Cmr35)"/><rect x="166.5" y="350" width="169.5" height="2.5" fill="url(#Cmr36)" mask="url(#vmask)"/><rect x="166.5" y="352.5" width="169.5" height="2" fill="url(#Cmr36)"/><rect x="166.5" y="352.5" width="169.5" height="2" fill="url(#Cmr37)" mask="url(#vmask)"/><rect x="166.5" y="354.5" width="169.5" height="4" fill="url(#Cmr37)"/><rect x="166.5" y="354.5" width="169.5" height="4" fill="url(#Cmr38)" mask="url(#vmask)"/><rect x="166.5" y="358.5" width="169.5" height="1.5" fill="url(#Cmr38)"/><rect x="166.5" y="358.5" width="169.5" height="1.5" fill="url(#Cmr39)" mask="url(#vmask)"/><rect x="166.5" y="360" width="169.5" height="1" fill="url(#Cmr39)"/><rect x="166.5" y="360" width="169.5" height="1" fill="url(#Cmr40)" mask="url(#vmask)"/><rect x="166.5" y="361" width="169.5" height="6" fill="url(#Cmr40)"/><g clip-path="url(#vclipC)"><path fill="#fff" fill-opacity=".28" d="M172.5 218L330 218L261 218L259.5 218.4L258 219.5L256.5 220.3L255 220.6L253.5 220.6L250.5 220L246 218L172.5 218ZM172.5 218L238.5 218L240 218.8L246 222.9L249 224.4L252 225.3L255 225.6L256.5 225.2L258 224.5L259.5 223.4L261 222L264 218.3L265.5 218L330 218L267 218L264 222.4L261 226L259.5 227.4L258 228.5L256.5 229.3L255 229.6L253.5 229.6L250.5 229L249 228.4L246 226.9L241.5 223.9L234 218L172.5 218ZM172.5 218L228 218L229.5 218.8L238.5 226.6L244.5 231L247.5 232.7L250.5 233.9L253.5 234.5L255 234.6L256.5 234.2L258 233.5L259.5 232.4L261 231L262.5 229.2L265.5 225.2L270 218L330 218L273 218L271.5 219.2L267 226.9L262.5 233.3L259.5 236.4L258 237.5L256.5 238.3L255 238.6L253.5 238.6L250.5 238L247.5 236.7L244.5 235L238.5 230.6L232.5 225.6L225 218.8L223.5 218L172.5 218ZM172.5 218L219 218.1L234 231.8L238.5 235.6L243 239L246 240.9L249 242.4L252 243.3L255 243.6L256.5 243.2L258 242.5L259.5 241.4L262.5 238.2L265.5 234.2L268.5 229.4L274.5 218.7L276 218L330 218L277.5 218L276 219.9L270 230.9L267 235.9L264 240.4L261 244L259.5 245.4L258 246.5L256.5 247.3L255 247.6L252 247.4L249 246.4L246 244.9L241.5 241.9L237 238.4L231 233.2L214.5 218L172.5 218ZM172.5 218L208.5 218L210 218.5L228 235.5L234 240.8L240 245.8L244.5 249L249 251.4L252 252.3L255 252.6L256.5 252.2L258 251.5L259.5 250.4L261 249L264 245.3L267 240.9L270 235.8L274.5 227.7L279 219L280.5 218L330 218L282 218L280.5 220L271.5 237.2L265.5 247.2L262.5 251.3L259.5 254.4L258 255.5L256.5 256.3L255 256.6L252 256.4L249 255.4L244.5 253L240 249.8L234 244.9L226.5 238.2L205.5 218.2L204 218L172.5 218ZM172.5 218L199.5 218L201 218.7L225 241.7L232.5 248.5L238.5 253.6L243 257L247.5 259.7L251.2 261.1L253.5 261.5L255 261.6L256.5 261.2L258 260.5L259.5 259.4L262.5 256.2L265.5 252.2L268.5 247.4L273 239.5L283.5 218.9L285 218L330 218L286.5 218L285 219.9L277.5 235L271.5 246.2L265.5 256.2L262.5 260.3L259.5 263.4L258 264.5L256.5 265.3L255 265.6L253.5 265.6L251.2 265.2L247.5 263.7L243 261L238.5 257.6L232.5 252.6L223.5 244.4L196.5 218.4L195 218L172.5 218ZM172.5 218L190.5 218L192 218.9L220.5 246.5L229.5 254.8L237 261.4L243 266L247.5 268.7L251.2 270.1L253.5 270.5L255 270.6L256.5 270.2L258 269.5L259.5 268.4L261 267L264 263.3L267 258.9L271.5 251.2L276 242.8L288 218.7L289.5 218L330 218L291 218L289.5 219.6L276 246.9L271.5 255.2L267 262.9L264 267.4L261 271L259.5 272.4L258 273.5L256.5 274.3L255 274.6L253.5 274.6L251.2 274.2L247.5 272.7L243 270L237 265.4L229.5 258.9L219 249.2L187.5 218.6L186 218L172.5 218ZM172.5 218L181.5 218L183 219.1L217.5 252.7L228 262.5L235.5 269.1L241.5 273.9L244.5 276L247.5 277.7L251.2 279.1L253.5 279.5L255 279.6L256.5 279.2L258 278.5L259.5 277.4L261 276L264 272.3L268.5 265.4L273 257.5L277.5 248.9L292.5 218.3L294 218L330 218L295.5 218L294 219.2L279 250L273 261.5L268.5 269.5L264 276.4L261 280L259.5 281.4L258 282.5L256.5 283.3L255 283.6L253.5 283.6L251.2 283.2L247.5 281.7L243 279L238.5 275.6L231 269.2L219 258.2L202.5 242.3L178.5 218.7L177 218L172.5 218ZM172.5 218L174 219.2L214.5 258.8L225 268.7L234 276.8L240 281.8L246 285.9L249 287.4L250.5 287.9L253.5 288.5L255 288.6L256.5 288.2L258 287.5L259.5 286.4L261 285L264 281.3L268.5 274.4L273 266.5L279 255L297 218L330 218L300 218L298.5 218.7L280.5 256L274.5 267.7L268.5 278.5L264 285.4L261 289L259.5 290.4L258 291.5L256.5 292.3L255 292.6L253.5 292.6L250.5 292L249 291.4L246 289.9L240 285.8L234 280.9L225 272.8L213 261.4L172.5 221.8ZM172.5 226.7L213 266.4L225 277.7L234 285.8L240 290.8L246 294.9L249 296.4L250.5 296.9L253.5 297.5L255 297.6L256.5 297.2L258 296.5L259.5 295.4L261 294L262.5 292.2L265.5 288.2L270 280.8L274.5 272.7L280.5 261L289.5 242.6L300 220.5L301.5 218L330 218L303 218.1L291 243.5L282 262L276 273.9L270 284.9L265.5 292.2L262.5 296.3L261 298L259.5 299.4L258 300.5L256.5 301.3L255 301.6L253.5 301.6L250.5 301L249 300.4L246 298.9L240 294.8L234 289.9L225 281.8L213 270.4L172.5 230.8ZM172.5 235.7L213 275.4L225 286.7L234 294.8L240 299.8L246 303.9L249 305.4L250.5 305.9L253.5 306.5L255 306.6L256.5 306.2L258 305.5L259.5 304.4L261 303L262.5 301.2L265.5 297.2L270 289.8L276 278.8L283.5 263.9L304.5 219.9L306 218L330 218L307.5 218L306 220.7L292.5 249.4L282 271L276 282.9L270 293.9L265.5 301.2L262.5 305.3L261 307L259.5 308.4L258 309.5L256.5 310.3L255 310.6L253.5 310.6L250.5 310L249 309.4L246 307.9L240 303.8L234 298.9L225 290.8L213 279.4L172.5 239.8ZM172.5 244.7L213 284.4L225 295.7L234 303.8L240 308.8L246 312.9L249 314.4L250.5 314.9L253.5 315.5L255 315.6L256.5 315.2L258 314.5L259.5 313.4L262.5 310.2L267 303.9L271.5 296.2L277.5 284.9L285 269.9L295.5 248L309 219.2L310.5 218L330 218L312 218L310.5 220L286.5 270.8L277.5 289L271.5 300.2L267 307.9L262.5 314.3L259.5 317.4L258 318.5L256.5 319.3L255 319.6L253.5 319.6L250.5 319L249 318.4L246 316.9L240 312.8L234 307.9L225 299.8L213 288.4L172.5 248.8ZM172.5 253.7L213 293.4L225 304.7L234 312.8L240 317.8L246 321.9L249 323.4L250.5 323.9L253.5 324.5L255 324.6L256.5 324.2L258 323.5L259.5 322.4L262.5 319.2L267 312.9L271.5 305.2L277.5 293.9L286.5 275.8L298.5 250.6L313.5 218.5L315 218L330 218L316.5 218L315 219.3L288 276.7L279 295L273 306.5L268.5 314.5L264 321.4L261 325L259.5 326.4L258 327.5L256.5 328.3L255 328.6L252 328.4L250.5 328L247.5 326.7L244.5 325L241.5 322.9L235.5 318.2L226.5 310.2L214.5 298.9L172.5 257.8Z"/><path fill="#000" fill-opacity=".16" d="M172.5 218L244.5 218L246 218.4L249 219.9L250.5 220.4L253.5 221L255 221.1L256.5 220.7L258 220L261 218L330 218L264 218L261 221.5L259.5 222.9L258 224L256.5 224.8L255 225.1L252 224.9L249 223.9L244.5 221.5L240 218.3L238.5 218L172.5 218ZM172.5 218L232.5 218L234 218.3L241.5 224.4L244.5 226.5L247.5 228.2L251.2 229.6L253.5 230L255 230.1L256.5 229.7L258 229L259.5 227.9L262.5 224.7L267 218.4L268.5 218L330 218L270 218L268.5 220L264 226.9L261 230.5L259.5 231.9L258 233L256.5 233.8L255 234.1L253.5 234.1L250.5 233.5L249 232.9L246 231.4L243 229.5L238.5 226.1L229.5 218.4L228 218L172.5 218ZM172.5 218L223.5 218L235.5 228.6L243 234.5L246 236.4L249 237.9L252 238.8L255 239.1L256.5 238.7L258 238L259.5 236.9L262.5 233.7L267 227.4L271.5 219.7L273 218L330 218L276 218L274.5 218.2L268.5 229L265.5 233.7L262.5 237.8L259.5 240.9L258 242L256.5 242.8L255 243.1L252 242.9L249 241.9L246 240.4L243 238.5L235.5 232.7L229.5 227.4L220.5 219.1L219 218L172.5 218ZM172.5 218L213 218L214.5 218.3L231 233.7L237 238.9L241.5 242.4L246 245.4L249 246.9L252 247.8L255 248.1L256.5 247.7L258 247L259.5 245.9L261 244.5L264 240.8L268.5 233.9L276 220.3L277.5 218L330 218L280.5 218L279 218.5L274.5 227.2L270 235.4L267 240.4L264 244.9L261 248.5L259.5 249.9L258 251L256.5 251.8L255 252.1L252 251.9L249 250.9L244.5 248.5L240 245.3L234 240.4L228 235L210 218L172.5 218ZM172.5 218L204 218L205.5 218.6L226.5 238.6L234 245.3L240 250.3L244.5 253.5L249 255.9L252 256.8L255 257.1L256.5 256.7L258 256L259.5 254.9L262.5 251.7L265.5 247.7L271.5 237.7L280.5 220.5L282 218L330 218L285 218L283.5 218.5L273 239L268.5 247L265.5 251.7L262.5 255.8L259.5 258.9L258 260L256.5 260.8L255 261.1L253.5 261.1L251.2 260.7L247.5 259.2L243 256.5L238.5 253.1L232.5 248.1L225 241.3L201 218.3L199.5 218L172.5 218ZM172.5 218L195 218L196.5 218.8L223.5 244.8L232.5 253L238.5 258.1L243 261.5L247.5 264.2L251.2 265.6L253.5 266L255 266.1L256.5 265.7L258 265L259.5 263.9L262.5 260.7L265.5 256.7L268.5 251.9L273 244L279 232.5L285 220.4L286.5 218L330 218L289.5 218L288 218.2L276 242.4L271.5 250.7L267 258.4L264 262.9L261 266.5L259.5 267.9L258 269L256.5 269.8L255 270.1L253.5 270.1L251.2 269.7L247.5 268.2L243 265.5L237 260.9L229.5 254.4L220.5 246.1L192 218.5L190.5 218L172.5 218ZM172.5 218L186 218L187.5 219L219 249.6L229.5 259.3L237 265.9L243 270.5L247.5 273.2L251.2 274.6L253.5 275L255 275.1L256.5 274.7L258 274L259.5 272.9L261 271.5L264 267.8L267 263.4L270 258.3L274.5 250.2L280.5 238.5L289.5 220.1L291 218L330 218L292.5 218L277.5 248.5L271.5 259.7L267 267.4L264 271.9L261 275.5L259.5 276.9L258 278L256.5 278.8L255 279.1L253.5 279.1L251.2 278.7L247.5 277.2L244.5 275.5L241.5 273.4L235.5 268.7L228 262L217.5 252.2L183 218.6L181.5 218L172.5 218ZM172.5 218L177 218L178.5 219.1L202.5 242.7L219 258.6L231 269.7L238.5 276.1L243 279.5L247.5 282.2L251.2 283.6L253.5 284L255 284.1L256.5 283.7L258 283L259.5 281.9L261 280.5L264 276.8L268.5 269.9L273 262L279 250.5L294 219.7L295.5 218L330 218L297 218L295.5 220.5L279 254.5L273 266L268.5 274L264 280.9L261 284.5L259.5 285.9L258 287L256.5 287.8L255 288.1L253.5 288.1L251.2 287.7L247.5 286.2L244.5 284.5L241.5 282.4L235.5 277.7L226.5 269.7L214.5 258.4L174 218.7L172.5 218ZM172.5 222.2L213 261.9L225 273.2L234 281.3L240 286.3L246 290.4L249 291.9L250.5 292.4L253.5 293L255 293.1L256.5 292.7L258 292L259.5 290.9L261 289.5L264 285.8L268.5 278.9L274.5 268.2L280.5 256.5L298.5 219.1L300 218L330 218L301.5 218L300 220L288 245.2L279 263.5L273 275L268.5 283L264 289.9L261 293.5L259.5 294.9L258 296L256.5 296.8L255 297.1L253.5 297.1L250.5 296.5L249 295.9L246 294.4L240 290.3L234 285.4L225 277.3L213 265.9L172.5 226.3ZM172.5 231.2L213 270.9L225 282.2L234 290.3L240 295.3L246 299.4L249 300.9L250.5 301.4L253.5 302L255 302.1L256.5 301.7L258 301L259.5 299.9L261 298.5L262.5 296.7L265.5 292.7L270 285.3L276 274.3L282 262.5L291 243.9L303 218.6L304.5 218L330 218L306 218L304.5 219.4L283.5 263.5L276 278.4L270 289.4L265.5 296.7L262.5 300.8L261 302.5L259.5 303.9L258 305L256.5 305.8L255 306.1L253.5 306.1L250.5 305.5L249 304.9L246 303.4L240 299.3L234 294.4L225 286.3L213 274.9L172.5 235.3ZM172.5 240.2L213 279.9L225 291.2L234 299.3L240 304.3L246 308.4L249 309.9L250.5 310.4L253.5 311L255 311.1L256.5 310.7L258 310L259.5 308.9L262.5 305.7L267 299.4L271.5 291.7L277.5 280.4L285 265.4L307.5 218L330 218L310.5 218L309 218.8L295.5 247.5L285 269.4L277.5 284.5L271.5 295.7L267 303.4L262.5 309.8L259.5 312.9L258 314L256.5 314.8L255 315.1L253.5 315.1L250.5 314.5L249 313.9L246 312.4L240 308.3L234 303.4L225 295.3L213 283.9L172.5 244.3ZM172.5 249.2L213 288.9L225 300.2L234 308.3L240 313.3L246 317.4L249 318.9L250.5 319.4L253.5 320L255 320.1L256.5 319.7L258 319L259.5 317.9L262.5 314.7L267 308.4L271.5 300.7L277.5 289.4L285 274.4L295.5 252.5L310.5 220.5L312 218L330 218L313.5 218.1L298.5 250.2L286.5 275.3L277.5 293.5L271.5 304.7L267 312.4L262.5 318.8L259.5 321.9L258 323L256.5 323.8L255 324.1L253.5 324.1L250.5 323.5L249 322.9L246 321.4L240 317.3L234 312.4L225 304.3L213 292.9L172.5 253.3ZM172.5 258.2L214.5 299.3L226.5 310.6L235.5 318.6L241.5 323.4L244.5 325.5L247.5 327.2L250.5 328.4L252 328.8L255 329.1L256.5 328.7L258 328L259.5 326.9L261 325.5L264 321.8L268.5 314.9L273 307L279 295.5L288 277.2L315 219.8L316.5 218L330 218L318 218L316.5 220.6L300 256L288 281.2L279 299.5L273 311L268.5 319L264 325.9L261 329.5L259.5 330.9L258 332L256.5 332.8L255 333.1L252 332.9L250.5 332.5L247.5 331.2L244.5 329.5L241.5 327.4L235.5 322.7L226.5 314.7L214.5 303.4L172.5 262.3Z"/></g><g clip-path="url(#lclipC)"><path fill="#fff" fill-opacity=".13" d="M172.5 218L330 218L261 218L259.5 218.4L258 219.5L256.5 220.3L255 220.6L253.5 220.6L250.5 220L246 218L172.5 218ZM172.5 218L238.5 218L240 218.8L246 222.9L249 224.4L252 225.3L255 225.6L256.5 225.2L258 224.5L259.5 223.4L261 222L264 218.3L265.5 218L330 218L267 218L264 222.4L261 226L259.5 227.4L258 228.5L256.5 229.3L255 229.6L253.5 229.6L250.5 229L249 228.4L246 226.9L241.5 223.9L234 218L172.5 218ZM172.5 218L228 218L229.5 218.8L238.5 226.6L244.5 231L247.5 232.7L250.5 233.9L253.5 234.5L255 234.6L256.5 234.2L258 233.5L259.5 232.4L261 231L262.5 229.2L265.5 225.2L270 218L330 218L273 218L271.5 219.2L267 226.9L262.5 233.3L259.5 236.4L258 237.5L256.5 238.3L255 238.6L253.5 238.6L250.5 238L247.5 236.7L244.5 235L238.5 230.6L232.5 225.6L225 218.8L223.5 218L172.5 218ZM172.5 218L219 218.1L234 231.8L238.5 235.6L243 239L246 240.9L249 242.4L252 243.3L255 243.6L256.5 243.2L258 242.5L259.5 241.4L262.5 238.2L265.5 234.2L268.5 229.4L274.5 218.7L276 218L330 218L277.5 218L276 219.9L270 230.9L267 235.9L264 240.4L261 244L259.5 245.4L258 246.5L256.5 247.3L255 247.6L252 247.4L249 246.4L246 244.9L241.5 241.9L237 238.4L231 233.2L214.5 218L172.5 218ZM172.5 218L208.5 218L210 218.5L228 235.5L234 240.8L240 245.8L244.5 249L249 251.4L252 252.3L255 252.6L256.5 252.2L258 251.5L259.5 250.4L261 249L264 245.3L267 240.9L270 235.8L274.5 227.7L279 219L280.5 218L330 218L282 218L280.5 220L271.5 237.2L265.5 247.2L262.5 251.3L259.5 254.4L258 255.5L256.5 256.3L255 256.6L252 256.4L249 255.4L244.5 253L240 249.8L234 244.9L226.5 238.2L205.5 218.2L204 218L172.5 218ZM172.5 218L199.5 218L201 218.7L225 241.7L232.5 248.5L238.5 253.6L243 257L247.5 259.7L251.2 261.1L253.5 261.5L255 261.6L256.5 261.2L258 260.5L259.5 259.4L262.5 256.2L265.5 252.2L268.5 247.4L273 239.5L283.5 218.9L285 218L330 218L286.5 218L285 219.9L277.5 235L271.5 246.2L265.5 256.2L262.5 260.3L259.5 263.4L258 264.5L256.5 265.3L255 265.6L253.5 265.6L251.2 265.2L247.5 263.7L243 261L238.5 257.6L232.5 252.6L223.5 244.4L196.5 218.4L195 218L172.5 218ZM172.5 218L190.5 218L192 218.9L220.5 246.5L229.5 254.8L237 261.4L243 266L247.5 268.7L251.2 270.1L253.5 270.5L255 270.6L256.5 270.2L258 269.5L259.5 268.4L261 267L264 263.3L267 258.9L271.5 251.2L276 242.8L288 218.7L289.5 218L330 218L291 218L289.5 219.6L276 246.9L271.5 255.2L267 262.9L264 267.4L261 271L259.5 272.4L258 273.5L256.5 274.3L255 274.6L253.5 274.6L251.2 274.2L247.5 272.7L243 270L237 265.4L229.5 258.9L219 249.2L187.5 218.6L186 218L172.5 218ZM172.5 218L181.5 218L183 219.1L217.5 252.7L228 262.5L235.5 269.1L241.5 273.9L244.5 276L247.5 277.7L251.2 279.1L253.5 279.5L255 279.6L256.5 279.2L258 278.5L259.5 277.4L261 276L264 272.3L268.5 265.4L273 257.5L277.5 248.9L292.5 218.3L294 218L330 218L295.5 218L294 219.2L279 250L273 261.5L268.5 269.5L264 276.4L261 280L259.5 281.4L258 282.5L256.5 283.3L255 283.6L253.5 283.6L251.2 283.2L247.5 281.7L243 279L238.5 275.6L231 269.2L219 258.2L202.5 242.3L178.5 218.7L177 218L172.5 218ZM172.5 218L174 219.2L214.5 258.8L225 268.7L234 276.8L240 281.8L246 285.9L249 287.4L250.5 287.9L253.5 288.5L255 288.6L256.5 288.2L258 287.5L259.5 286.4L261 285L264 281.3L268.5 274.4L273 266.5L279 255L297 218L330 218L300 218L298.5 218.7L280.5 256L274.5 267.7L268.5 278.5L264 285.4L261 289L259.5 290.4L258 291.5L256.5 292.3L255 292.6L253.5 292.6L250.5 292L249 291.4L246 289.9L240 285.8L234 280.9L225 272.8L213 261.4L172.5 221.8ZM172.5 226.7L213 266.4L225 277.7L234 285.8L240 290.8L246 294.9L249 296.4L250.5 296.9L253.5 297.5L255 297.6L256.5 297.2L258 296.5L259.5 295.4L261 294L262.5 292.2L265.5 288.2L270 280.8L274.5 272.7L280.5 261L289.5 242.6L300 220.5L301.5 218L330 218L303 218.1L291 243.5L282 262L276 273.9L270 284.9L265.5 292.2L262.5 296.3L261 298L259.5 299.4L258 300.5L256.5 301.3L255 301.6L253.5 301.6L250.5 301L249 300.4L246 298.9L240 294.8L234 289.9L225 281.8L213 270.4L172.5 230.8ZM172.5 235.7L213 275.4L225 286.7L234 294.8L240 299.8L246 303.9L249 305.4L250.5 305.9L253.5 306.5L255 306.6L256.5 306.2L258 305.5L259.5 304.4L261 303L262.5 301.2L265.5 297.2L270 289.8L276 278.8L283.5 263.9L304.5 219.9L306 218L330 218L307.5 218L306 220.7L292.5 249.4L282 271L276 282.9L270 293.9L265.5 301.2L262.5 305.3L261 307L259.5 308.4L258 309.5L256.5 310.3L255 310.6L253.5 310.6L250.5 310L249 309.4L246 307.9L240 303.8L234 298.9L225 290.8L213 279.4L172.5 239.8ZM172.5 244.7L213 284.4L225 295.7L234 303.8L240 308.8L246 312.9L249 314.4L250.5 314.9L253.5 315.5L255 315.6L256.5 315.2L258 314.5L259.5 313.4L262.5 310.2L267 303.9L271.5 296.2L277.5 284.9L285 269.9L295.5 248L309 219.2L310.5 218L330 218L312 218L310.5 220L286.5 270.8L277.5 289L271.5 300.2L267 307.9L262.5 314.3L259.5 317.4L258 318.5L256.5 319.3L255 319.6L253.5 319.6L250.5 319L249 318.4L246 316.9L240 312.8L234 307.9L225 299.8L213 288.4L172.5 248.8ZM172.5 253.7L213 293.4L225 304.7L234 312.8L240 317.8L246 321.9L249 323.4L250.5 323.9L253.5 324.5L255 324.6L256.5 324.2L258 323.5L259.5 322.4L262.5 319.2L267 312.9L271.5 305.2L277.5 293.9L286.5 275.8L298.5 250.6L313.5 218.5L315 218L330 218L316.5 218L315 219.3L288 276.7L279 295L273 306.5L268.5 314.5L264 321.4L261 325L259.5 326.4L258 327.5L256.5 328.3L255 328.6L252 328.4L250.5 328L247.5 326.7L244.5 325L241.5 322.9L235.5 318.2L226.5 310.2L214.5 298.9L172.5 257.8Z"/><path fill="#000" fill-opacity=".08" d="M172.5 218L244.5 218L246 218.4L249 219.9L250.5 220.4L253.5 221L255 221.1L256.5 220.7L258 220L261 218L330 218L264 218L261 221.5L259.5 222.9L258 224L256.5 224.8L255 225.1L252 224.9L249 223.9L244.5 221.5L240 218.3L238.5 218L172.5 218ZM172.5 218L232.5 218L234 218.3L241.5 224.4L244.5 226.5L247.5 228.2L251.2 229.6L253.5 230L255 230.1L256.5 229.7L258 229L259.5 227.9L262.5 224.7L267 218.4L268.5 218L330 218L270 218L268.5 220L264 226.9L261 230.5L259.5 231.9L258 233L256.5 233.8L255 234.1L253.5 234.1L250.5 233.5L249 232.9L246 231.4L243 229.5L238.5 226.1L229.5 218.4L228 218L172.5 218ZM172.5 218L223.5 218L235.5 228.6L243 234.5L246 236.4L249 237.9L252 238.8L255 239.1L256.5 238.7L258 238L259.5 236.9L262.5 233.7L267 227.4L271.5 219.7L273 218L330 218L276 218L274.5 218.2L268.5 229L265.5 233.7L262.5 237.8L259.5 240.9L258 242L256.5 242.8L255 243.1L252 242.9L249 241.9L246 240.4L243 238.5L235.5 232.7L229.5 227.4L220.5 219.1L219 218L172.5 218ZM172.5 218L213 218L214.5 218.3L231 233.7L237 238.9L241.5 242.4L246 245.4L249 246.9L252 247.8L255 248.1L256.5 247.7L258 247L259.5 245.9L261 244.5L264 240.8L268.5 233.9L276 220.3L277.5 218L330 218L280.5 218L279 218.5L274.5 227.2L270 235.4L267 240.4L264 244.9L261 248.5L259.5 249.9L258 251L256.5 251.8L255 252.1L252 251.9L249 250.9L244.5 248.5L240 245.3L234 240.4L228 235L210 218L172.5 218ZM172.5 218L204 218L205.5 218.6L226.5 238.6L234 245.3L240 250.3L244.5 253.5L249 255.9L252 256.8L255 257.1L256.5 256.7L258 256L259.5 254.9L262.5 251.7L265.5 247.7L271.5 237.7L280.5 220.5L282 218L330 218L285 218L283.5 218.5L273 239L268.5 247L265.5 251.7L262.5 255.8L259.5 258.9L258 260L256.5 260.8L255 261.1L253.5 261.1L251.2 260.7L247.5 259.2L243 256.5L238.5 253.1L232.5 248.1L225 241.3L201 218.3L199.5 218L172.5 218ZM172.5 218L195 218L196.5 218.8L223.5 244.8L232.5 253L238.5 258.1L243 261.5L247.5 264.2L251.2 265.6L253.5 266L255 266.1L256.5 265.7L258 265L259.5 263.9L262.5 260.7L265.5 256.7L268.5 251.9L273 244L279 232.5L285 220.4L286.5 218L330 218L289.5 218L288 218.2L276 242.4L271.5 250.7L267 258.4L264 262.9L261 266.5L259.5 267.9L258 269L256.5 269.8L255 270.1L253.5 270.1L251.2 269.7L247.5 268.2L243 265.5L237 260.9L229.5 254.4L220.5 246.1L192 218.5L190.5 218L172.5 218ZM172.5 218L186 218L187.5 219L219 249.6L229.5 259.3L237 265.9L243 270.5L247.5 273.2L251.2 274.6L253.5 275L255 275.1L256.5 274.7L258 274L259.5 272.9L261 271.5L264 267.8L267 263.4L270 258.3L274.5 250.2L280.5 238.5L289.5 220.1L291 218L330 218L292.5 218L277.5 248.5L271.5 259.7L267 267.4L264 271.9L261 275.5L259.5 276.9L258 278L256.5 278.8L255 279.1L253.5 279.1L251.2 278.7L247.5 277.2L244.5 275.5L241.5 273.4L235.5 268.7L228 262L217.5 252.2L183 218.6L181.5 218L172.5 218ZM172.5 218L177 218L178.5 219.1L202.5 242.7L219 258.6L231 269.7L238.5 276.1L243 279.5L247.5 282.2L251.2 283.6L253.5 284L255 284.1L256.5 283.7L258 283L259.5 281.9L261 280.5L264 276.8L268.5 269.9L273 262L279 250.5L294 219.7L295.5 218L330 218L297 218L295.5 220.5L279 254.5L273 266L268.5 274L264 280.9L261 284.5L259.5 285.9L258 287L256.5 287.8L255 288.1L253.5 288.1L251.2 287.7L247.5 286.2L244.5 284.5L241.5 282.4L235.5 277.7L226.5 269.7L214.5 258.4L174 218.7L172.5 218ZM172.5 222.2L213 261.9L225 273.2L234 281.3L240 286.3L246 290.4L249 291.9L250.5 292.4L253.5 293L255 293.1L256.5 292.7L258 292L259.5 290.9L261 289.5L264 285.8L268.5 278.9L274.5 268.2L280.5 256.5L298.5 219.1L300 218L330 218L301.5 218L300 220L288 245.2L279 263.5L273 275L268.5 283L264 289.9L261 293.5L259.5 294.9L258 296L256.5 296.8L255 297.1L253.5 297.1L250.5 296.5L249 295.9L246 294.4L240 290.3L234 285.4L225 277.3L213 265.9L172.5 226.3ZM172.5 231.2L213 270.9L225 282.2L234 290.3L240 295.3L246 299.4L249 300.9L250.5 301.4L253.5 302L255 302.1L256.5 301.7L258 301L259.5 299.9L261 298.5L262.5 296.7L265.5 292.7L270 285.3L276 274.3L282 262.5L291 243.9L303 218.6L304.5 218L330 218L306 218L304.5 219.4L283.5 263.5L276 278.4L270 289.4L265.5 296.7L262.5 300.8L261 302.5L259.5 303.9L258 305L256.5 305.8L255 306.1L253.5 306.1L250.5 305.5L249 304.9L246 303.4L240 299.3L234 294.4L225 286.3L213 274.9L172.5 235.3ZM172.5 240.2L213 279.9L225 291.2L234 299.3L240 304.3L246 308.4L249 309.9L250.5 310.4L253.5 311L255 311.1L256.5 310.7L258 310L259.5 308.9L262.5 305.7L267 299.4L271.5 291.7L277.5 280.4L285 265.4L307.5 218L330 218L310.5 218L309 218.8L295.5 247.5L285 269.4L277.5 284.5L271.5 295.7L267 303.4L262.5 309.8L259.5 312.9L258 314L256.5 314.8L255 315.1L253.5 315.1L250.5 314.5L249 313.9L246 312.4L240 308.3L234 303.4L225 295.3L213 283.9L172.5 244.3ZM172.5 249.2L213 288.9L225 300.2L234 308.3L240 313.3L246 317.4L249 318.9L250.5 319.4L253.5 320L255 320.1L256.5 319.7L258 319L259.5 317.9L262.5 314.7L267 308.4L271.5 300.7L277.5 289.4L285 274.4L295.5 252.5L310.5 220.5L312 218L330 218L313.5 218.1L298.5 250.2L286.5 275.3L277.5 293.5L271.5 304.7L267 312.4L262.5 318.8L259.5 321.9L258 323L256.5 323.8L255 324.1L253.5 324.1L250.5 323.5L249 322.9L246 321.4L240 317.3L234 312.4L225 304.3L213 292.9L172.5 253.3ZM172.5 258.2L214.5 299.3L226.5 310.6L235.5 318.6L241.5 323.4L244.5 325.5L247.5 327.2L250.5 328.4L252 328.8L255 329.1L256.5 328.7L258 328L259.5 326.9L261 325.5L264 321.8L268.5 314.9L273 307L279 295.5L288 277.2L315 219.8L316.5 218L330 218L318 218L316.5 220.6L300 256L288 281.2L279 299.5L273 311L268.5 319L264 325.9L261 329.5L259.5 330.9L258 332L256.5 332.8L255 333.1L252 332.9L250.5 332.5L247.5 331.2L244.5 329.5L241.5 327.4L235.5 322.7L226.5 314.7L214.5 303.4L172.5 262.3Z"/></g><rect x="172.5" y="223.5" width="157.5" height="1" fill="#fff" fill-opacity="0.18"/><rect x="172.5" y="230.2" width="157.5" height="1" fill="#fff" fill-opacity="0.27"/><rect x="172.5" y="236.2" width="157.5" height="1" fill="#fff" fill-opacity="0.19"/><rect x="172.5" y="243.5" width="157.5" height="1" fill="#fff" fill-opacity="0.17"/><rect x="172.5" y="249.7" width="157.5" height="1" fill="#fff" fill-opacity="0.33"/><rect x="172.5" y="256.6" width="157.5" height="1" fill="#fff" fill-opacity="0.23"/><rect x="172.5" y="263.3" width="157.5" height="1" fill="#fff" fill-opacity="0.28"/><rect x="172.5" y="269.7" width="157.5" height="1" fill="#fff" fill-opacity="0.18"/><rect x="172.5" y="276.8" width="157.5" height="1" fill="#fff" fill-opacity="0.28"/><rect x="172.5" y="283.5" width="157.5" height="1" fill="#fff" fill-opacity="0.31"/><rect x="172.5" y="290.3" width="157.5" height="1" fill="#fff" fill-opacity="0.34"/><rect x="172.5" y="296.6" width="157.5" height="1" fill="#fff" fill-opacity="0.26"/><rect x="172.5" y="303.2" width="157.5" height="1" fill="#fff" fill-opacity="0.22"/></g>
<g filter="url(#sC)"><rect x="162.5" y="631" width="177.5" height="160" fill="#808080"/><rect x="172.5" y="641" width="157.5" height="140" filter="url(#nz)"/></g>
<g filter="url(#aC)"><rect x="166.5" y="1055" width="169.5" height="6" fill="url(#Car0)"/><rect x="166.5" y="1061" width="169.5" height="80" fill="url(#Car0)"/><rect x="166.5" y="1061" width="169.5" height="80" fill="url(#Car1)" mask="url(#vmask)"/><rect x="166.5" y="1141" width="169.5" height="50" fill="url(#Car1)"/><rect x="166.5" y="1141" width="169.5" height="50" fill="url(#Car2)" mask="url(#vmask)"/><rect x="166.5" y="1191" width="169.5" height="10" fill="url(#Car2)"/><rect x="166.5" y="1191" width="169.5" height="10" fill="url(#Car3)" mask="url(#vmask)"/><rect x="166.5" y="1201" width="169.5" height="6" fill="url(#Car3)"/></g>
</g></g>
<rect x="194" y="10" width="9" height="142" fill="url(#jg)"/>
<rect x="488.6" y="10" width="9" height="142" fill="url(#jg)"/>
<rect x="339.3" y="220.6" width="8.6" height="140.4" fill="url(#jg)"/>
<text x="23.6" y="154.6" class="t" text-anchor="end">400</text>
<text x="23.6" y="123.2" class="t" text-anchor="end">600</text>
<text x="23.6" y="100.9" class="t" text-anchor="end">800</text>
<text x="23.6" y="83.6" class="t" text-anchor="end">1000</text>
<text x="23.6" y="69.5" class="t" text-anchor="end">1200</text>
<text x="23.6" y="57.5" class="t" text-anchor="end">1400</text>
<text x="23.6" y="47.2" class="t" text-anchor="end">1600</text>
<text x="23.6" y="38.1" class="t" text-anchor="end">1800</text>
<text x="23.6" y="29.9" class="t" text-anchor="end">2000</text>
<text x="23.6" y="22.5" class="t" text-anchor="end">2200</text>
<text x="23.6" y="15.8" class="t" text-anchor="end">2400</text>
<text x="41.9" y="159.8" class="t" text-anchor="middle">10</text>
<text x="57.8" y="159.8" class="t" text-anchor="middle">20</text>
<text x="73.7" y="159.8" class="t" text-anchor="middle">30</text>
<text x="89.6" y="159.8" class="t" text-anchor="middle">40</text>
<text x="105.5" y="159.8" class="t" text-anchor="middle">50</text>
<text x="121.4" y="159.8" class="t" text-anchor="middle">60</text>
<text x="137.3" y="159.8" class="t" text-anchor="middle">70</text>
<text x="153.2" y="159.8" class="t" text-anchor="middle">80</text>
<text x="169.1" y="159.8" class="t" text-anchor="middle">90</text>
<text x="185.0" y="159.8" class="t" text-anchor="middle">100</text>
<text x="204.8" y="11.9" class="tc">-10</text>
<text x="204.8" y="26.1" class="tc">-12</text>
<text x="204.8" y="40.3" class="tc">-14</text>
<text x="204.8" y="54.5" class="tc">-16</text>
<text x="204.8" y="68.7" class="tc">-18</text>
<text x="204.8" y="82.9" class="tc">-20</text>
<text x="204.8" y="97.1" class="tc">-22</text>
<text x="204.8" y="111.3" class="tc">-24</text>
<text x="204.8" y="125.5" class="tc">-26</text>
<text x="204.8" y="139.7" class="tc">-28</text>
<text x="204.8" y="153.9" class="tc">-30</text>
<text x="105.5" y="171.0" class="l" text-anchor="middle">Time (sec)</text>
<text transform="translate(7.5,82.5) rotate(-90)" class="l" text-anchor="middle">Frequency (Hz)</text>
<text x="105.5" y="7.0" class="ti" text-anchor="middle">Portage environment</text>
<text x="106.1" y="190.6" class="s" text-anchor="middle">(a)</text>
<text transform="translate(224.8,81.0) rotate(-90)" class="l" text-anchor="middle">Transmission Loss (dB)</text>
<text x="317.6" y="154.6" class="t" text-anchor="end">400</text>
<text x="317.6" y="123.2" class="t" text-anchor="end">600</text>
<text x="317.6" y="100.9" class="t" text-anchor="end">800</text>
<text x="317.6" y="83.6" class="t" text-anchor="end">1000</text>
<text x="317.6" y="69.5" class="t" text-anchor="end">1200</text>
<text x="317.6" y="57.5" class="t" text-anchor="end">1400</text>
<text x="317.6" y="47.2" class="t" text-anchor="end">1600</text>
<text x="317.6" y="38.1" class="t" text-anchor="end">1800</text>
<text x="317.6" y="29.9" class="t" text-anchor="end">2000</text>
<text x="317.6" y="22.5" class="t" text-anchor="end">2200</text>
<text x="317.6" y="15.8" class="t" text-anchor="end">2400</text>
<text x="335.9" y="159.8" class="t" text-anchor="middle">10</text>
<text x="351.8" y="159.8" class="t" text-anchor="middle">20</text>
<text x="367.7" y="159.8" class="t" text-anchor="middle">30</text>
<text x="383.6" y="159.8" class="t" text-anchor="middle">40</text>
<text x="399.5" y="159.8" class="t" text-anchor="middle">50</text>
<text x="415.4" y="159.8" class="t" text-anchor="middle">60</text>
<text x="431.3" y="159.8" class="t" text-anchor="middle">70</text>
<text x="447.2" y="159.8" class="t" text-anchor="middle">80</text>
<text x="463.1" y="159.8" class="t" text-anchor="middle">90</text>
<text x="479.0" y="159.8" class="t" text-anchor="middle">100</text>
<text x="499.4" y="11.9" class="tc">-10</text>
<text x="499.4" y="26.1" class="tc">-12</text>
<text x="499.4" y="40.3" class="tc">-14</text>
<text x="499.4" y="54.5" class="tc">-16</text>
<text x="499.4" y="68.7" class="tc">-18</text>
<text x="499.4" y="82.9" class="tc">-20</text>
<text x="499.4" y="97.1" class="tc">-22</text>
<text x="499.4" y="111.3" class="tc">-24</text>
<text x="499.4" y="125.5" class="tc">-26</text>
<text x="499.4" y="139.7" class="tc">-28</text>
<text x="499.4" y="153.9" class="tc">-30</text>
<text x="399.5" y="171.0" class="l" text-anchor="middle">Time (sec)</text>
<text transform="translate(301.5,82.5) rotate(-90)" class="l" text-anchor="middle">Frequency (Hz)</text>
<text x="399.5" y="7.0" class="ti" text-anchor="middle">Open water environment</text>
<text x="417.3" y="190.6" class="s" text-anchor="middle">(b)</text>
<text transform="translate(518.4,81.0) rotate(-90)" class="l" text-anchor="middle">Transmission Loss (dB)</text>
<text x="170.1" y="363.6" class="t" text-anchor="end">400</text>
<text x="170.1" y="332.6" class="t" text-anchor="end">600</text>
<text x="170.1" y="310.6" class="t" text-anchor="end">800</text>
<text x="170.1" y="293.6" class="t" text-anchor="end">1000</text>
<text x="170.1" y="279.7" class="t" text-anchor="end">1200</text>
<text x="170.1" y="267.9" class="t" text-anchor="end">1400</text>
<text x="170.1" y="257.7" class="t" text-anchor="end">1600</text>
<text x="170.1" y="248.7" class="t" text-anchor="end">1800</text>
<text x="170.1" y="240.6" class="t" text-anchor="end">2000</text>
<text x="170.1" y="233.4" class="t" text-anchor="end">2200</text>
<text x="170.1" y="226.7" class="t" text-anchor="end">2400</text>
<text x="188.2" y="368.8" class="t" text-anchor="middle">10</text>
<text x="204.0" y="368.8" class="t" text-anchor="middle">20</text>
<text x="219.8" y="368.8" class="t" text-anchor="middle">30</text>
<text x="235.5" y="368.8" class="t" text-anchor="middle">40</text>
<text x="251.2" y="368.8" class="t" text-anchor="middle">50</text>
<text x="267.0" y="368.8" class="t" text-anchor="middle">60</text>
<text x="282.8" y="368.8" class="t" text-anchor="middle">70</text>
<text x="298.5" y="368.8" class="t" text-anchor="middle">80</text>
<text x="314.2" y="368.8" class="t" text-anchor="middle">90</text>
<text x="330.0" y="368.8" class="t" text-anchor="middle">100</text>
<text x="349.7" y="222.9" class="tc">-10</text>
<text x="349.7" y="242.9" class="tc">-15</text>
<text x="349.7" y="262.9" class="tc">-20</text>
<text x="349.7" y="282.9" class="tc">-25</text>
<text x="349.7" y="302.9" class="tc">-30</text>
<text x="349.7" y="322.9" class="tc">-35</text>
<text x="349.7" y="342.9" class="tc">-40</text>
<text x="349.7" y="362.9" class="tc">-45</text>
<text x="251.2" y="380.0" class="l" text-anchor="middle">Time (sec)</text>
<text transform="translate(154.0,287.5) rotate(-90)" class="l" text-anchor="middle" style="font-size:8.4px">Frequency (Hz)</text>
<text x="251.2" y="218.0" class="ti" text-anchor="middle">Experimental data</text>
<text x="261.0" y="397.6" class="s" text-anchor="middle">(c)</text>
<text transform="translate(371.6,291.5) rotate(-90)" class="l" text-anchor="middle">Acoustic Intensity (dB re 1 pW/m<tspan dy="-2.6" font-size="6.5">2</tspan><tspan dy="2.6">)</tspan></text>
</g></svg>
</body></html>
